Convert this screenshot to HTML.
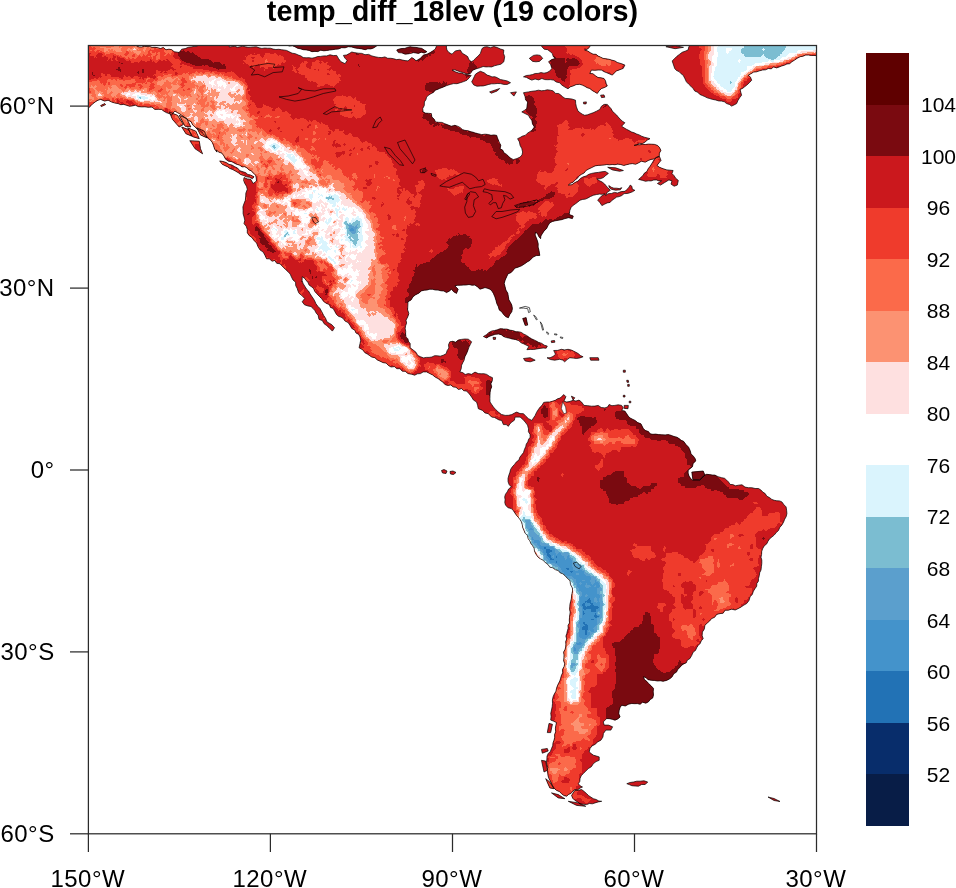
<!DOCTYPE html>
<html><head><meta charset="utf-8"><title>temp_diff_18lev</title>
<style>html,body{margin:0;padding:0;background:#fff}svg{display:block}text{font-family:"Liberation Sans",sans-serif;fill:#000}</style></head><body>
<svg width="956" height="888" viewBox="0 0 956 888">
<rect width="956" height="888" fill="#fff"/>
<defs><clipPath id="c"><rect x="88.4" y="45.5" width="728.1" height="788.3"/></clipPath></defs>
<g clip-path="url(#c)">
<clipPath id="land"><path d="M80,38 136.5,38.3 136.5,42.1 136.5,46 139.1,46.9 141.7,47 144.4,46.3 147,46.6 149.7,46.6 152.2,47.4 154.9,47.3 157.7,47.7 160.4,48.5 163.4,47.5 166,49.8 168.9,49.2 171.7,49.7 174.2,51.7 179.2,52.5 181.7,49.2 185.2,48.6 188.4,47.3 191.2,46.9 194,46.4 196.8,46.3 199.1,44.5 201.3,42.6 203,40.2 205.2,38.3 228.6,38.3 229,41.2 228.8,44.1 229.4,47 232.1,46.6 234.7,46.3 237.4,47.3 240,46.8 242.7,46.2 245.4,46.8 248,47.3 250.8,47.2 253.6,46.9 256.4,46.8 259.1,47.8 261.9,48.4 264.7,48 267.5,48.2 270.3,48.2 273.1,49.1 275.9,49.5 278.7,49.3 281.5,49.7 286.5,50.4 289.3,51.8 292.1,53.2 295.3,53.7 298.2,55 300.9,55.9 303.2,57.6 306.1,57.8 309,57.7 312,58.2 314.9,57.6 317.7,56.5 320.7,56.4 323.7,55.9 326.7,55.9 330,54.8 333.4,55.6 336.7,55.4 338.6,58.7 340.9,61.7 345.1,63.7 347.1,60.4 344.9,58.1 343.4,55.4 346.5,55 349.2,53.6 351.8,52 355.1,52.8 358.4,53.2 361.8,53.4 365,54.7 368.6,54.4 371.8,55.9 375.1,56.8 378.5,57.4 381.9,57.6 384.9,56.9 387.7,58.3 390.7,58.3 393.6,58.7 396.4,59.6 399.4,59.3 402.2,60 405.1,60.6 408,60.9 411.8,57.6 414.2,58.9 416,60.9 420.2,58.4 423.5,55.1 427,54.2 430.2,52.6 432.7,50.9 435.2,49.2 436.3,46.6 436.6,43.7 438.3,41.2 438.6,38.3 446.1,38.3 446,41.2 446.6,44.1 446.4,47.1 446.9,50 449,52.6 452,54.2 455.3,50.9 460.3,50 462.2,53.2 465.4,55.1 467.7,56.6 468.7,59.2 471.2,61.8 473.6,60.5 475.4,58.4 478.1,56.1 480.4,53.4 481.2,50.9 482.1,48.4 484.4,47 487.1,46.7 490.4,47.7 493.9,46.5 497.2,47.5 500.4,49 503.8,50 503.5,53.4 504.7,56.7 503.8,61.8 500.9,64.2 497.2,65.1 494.4,65.8 491.7,66.9 488.8,66.8 486,66.9 483.1,66.5 480.4,67.6 476.2,68.8 472.6,70.3 470.4,73.5 466.9,73.9 463.6,72.7 460.3,71.8 457.6,70.9 454.9,69.8 452,70.1 455.3,71.8 458.7,73 461.5,73.1 464.2,74.2 467,74.6 471.2,75.5 469.1,77.9 467,80.2 463.7,81.6 460.3,82.7 457,83.7 453.6,83.6 450.3,84.4 446.9,85.5 443.6,86.9 440.8,88 438,89.2 435.2,90.2 433.4,92.4 430.9,93.7 428.5,95.2 426.6,97.1 425.9,99.7 424.4,101.9 424.3,105.4 422.7,108.6 423.1,111.9 425.7,113.2 428.6,113.3 431.4,113.6 431.8,116.9 434.2,119.2 435.6,122 438.7,122.3 441.9,122.4 444.8,123.7 448.1,125 451.3,126.2 454.9,125.3 457.6,126.2 460.1,127.5 462.3,129.4 464.9,130.4 467.7,130.6 470.3,131.6 473,132.2 475.6,133.1 478.3,133.7 481.6,134.6 485,134.2 488.3,134.5 491,135.3 493.9,134.9 496.7,135.4 497.8,138.8 499.2,142.1 500.8,145.3 500.1,148.8 502.7,150.1 504,152.9 506.5,154.2 508.4,156.3 510.7,158.2 513.4,159.6 516.9,158.6 520.1,157.1 522,154.9 522.6,152.1 521.8,148.6 520.1,145.4 519.4,141.9 517.6,138.7 520.1,137.5 522.5,136.1 525.2,135.4 527.2,133.4 529.4,131.9 531.8,130.4 534.4,127 532.5,123.9 531.8,120.3 529.9,118 528.5,115.3 525.1,113.6 521.8,111.9 524.4,110.4 526.8,108.6 527.1,105.2 527.7,101.9 525.5,99.9 525.2,96.9 523.5,92.7 528.5,91.9 531.8,91.3 535.2,90.9 538.5,90.2 541.5,90.8 544.4,90.5 547.3,89.8 550.3,90.2 553.2,90.9 555.4,93.4 558.6,93.5 560.8,95.1 562.8,96.9 565.1,98.4 568,98.6 571.8,99 575.5,100.2 575.7,103.6 576.4,106.9 578,111.1 580.1,112.7 582.3,114.2 584.7,115.3 587.6,114.8 590.3,113.7 593.1,112.8 596.5,111.2 599.8,109.4 601.3,106.4 604,104.4 607.3,104.4 609.1,106.6 611,108.6 612.4,111.1 614.3,113.1 616.5,114.9 618.2,117 620.2,119.2 622.4,121.2 624.9,122.8 621.6,126.2 624,127.8 626.5,129.3 629.1,130.6 631.6,132 634.2,132.8 636.6,134 639.2,134.9 641.6,136.2 644.3,137.2 647.2,137.9 650,138.7 647.3,140.1 645,142.1 642.5,143.6 639.4,143.3 636.9,145 634.1,145.4 636.9,144.7 639.8,144.8 642.6,144.3 645.5,144.5 648.3,144.1 651.4,144.2 654.5,144.4 657.5,145.4 659.6,147.6 660.9,150.4 659.4,153.2 659.2,156.3 656.5,157.3 654,159 651,159.4 648.3,160.5 645.2,162.2 641.4,161.2 638.3,163 635.5,164.3 632.4,163.6 629.5,164 626.6,164.7 623.7,165.5 620.8,164.5 617.8,164.2 614.9,164.7 612.2,164.5 609.5,164.8 606.8,164.5 604.2,165 601.5,165.2 598.2,165.4 595,165.9 591.7,167.6 588.3,169.2 585.9,170.6 584.1,173 581.6,174.3 579.1,175.9 577.3,178.4 574.9,180.1 573.1,182.2 570.4,183.3 568.3,185.1 571.9,184.7 574.9,182.6 578,181.1 580.3,178.5 583.3,176.8 586.2,176 588.8,174.3 591.7,173.4 595,172.8 598.4,172.4 601.7,171.8 605.3,171.4 608.4,173.4 605.8,175.4 603.4,177.6 600.1,178.8 596.7,178.8 599.2,180.6 602.1,182 604.6,184 607.7,187.7 610.3,190.3 607.2,192.3 605.6,195.5 608.2,193.7 611.4,193.5 614.4,192.4 617.6,193 621.2,191.6 625,191.3 626.5,189.8 628.7,187.7 630.2,185.1 631.8,186.2 632.4,189.3 634.9,190.3 632.4,191.8 629.2,193 627,193.5 624.1,193.6 621.8,195.5 619.3,196.6 616.6,197.1 614.4,198.7 612.1,200.2 610.1,202.4 607.2,202.9 604.5,204.2 601.9,205.6 600,202.7 597.7,200.2 600.9,196.5 605.1,193.8 602.3,194.3 599.5,194.1 596.7,194.5 593.5,195.2 590.5,196.5 588,197.9 585.5,199.1 582.7,199.4 580,200.2 577.8,202 575.6,203.7 573.3,205.2 571.1,207.4 569.9,210.3 569.1,214.4 573.3,216.1 572.4,218.6 568.6,217.7 564.9,218.6 561.6,219.7 558.2,220.3 555.3,220.8 552.5,221.5 549.8,222.8 548.2,225.3 546.5,228.7 544.1,230.9 542.3,233.7 540.9,236 540.6,238.7 538.8,236.6 537.6,234 535.6,232 535.1,235 536.3,237.7 537.3,240.4 538.2,243.7 538.1,247.1 539,250.4 539.8,255.4 536.3,255.6 533.1,257.1 529.8,260.5 527.1,262 524.7,263.8 521.5,265.8 518,267.2 515,268.1 513,270.5 510.9,272.7 508,273.8 506.7,276.7 505.2,280 504.2,283.4 505.1,286.7 505.9,290.1 507.8,293.2 508.4,296.8 508.9,299.8 510.5,302.4 511.8,305.1 512.4,308.5 511.8,311.8 509.8,314.6 508.4,317.7 505.9,316.8 503.6,314.5 501.7,311.8 499.2,309.9 498.4,306.8 496.8,303.6 495.9,300.1 494.8,296.7 493.4,293.4 492,291.1 490,289.2 487.5,288.3 485,287.6 482.5,288.4 480,289.2 477.6,286.9 474.9,285.1 472,285.2 469,284.5 466.1,285 463.2,285.1 460.4,285.2 457.6,285.3 454.9,285.9 458.2,289.2 456.5,293.4 453.6,291.7 451.5,289.2 449.2,291.2 446.5,292.6 443.9,291 441,290.8 438.1,290.1 435.3,290 432.6,289.3 429.8,289.2 427.1,290 424.2,290.2 421.4,290.9 418.8,293.2 415.7,294.7 413,296.8 411.1,299.9 408,301.8 407.8,306 407.6,309.8 408.8,313.5 407.7,317 406,320.2 406.6,323.1 405.6,325.8 405.2,328.6 405.7,331.3 405.6,334.1 406,336.9 407.9,338.8 408.6,341.5 410.2,343.6 410.1,347.8 413.5,350.3 416.1,352.4 417.7,355.4 420.6,356.8 423.6,357.9 426.3,357.4 429.1,357.4 431.9,357 434.6,355.7 437.4,355.8 440.3,356.2 443.3,355.2 446.2,353.7 447.1,350.7 448.9,348 448.5,344.7 449.8,341.8 452.6,341.3 455.7,342.2 458.2,340.1 461.5,339.4 464.9,339 468.3,339.2 471.6,341.8 470.4,344.3 469.1,346.8 467.9,350.2 466.6,353.5 464.9,356.7 464.1,360.2 462.8,362.7 461.6,365.2 461.2,368.7 459.9,371.9 462.7,372.6 465.2,374.5 468.3,373.6 471.6,374.3 475,372.1 478.3,373.6 481.1,373.8 483.9,373.7 486.7,374.4 489.4,376.3 492.5,377.7 492.3,380.8 490.9,383.7 491.7,386.9 490.6,389.6 490.1,392.4 490,395.3 489.9,398.6 490,402 491.7,404.5 493.4,407 495.8,409.7 498.4,412.1 501.4,414.4 505.1,415.4 508.5,415.3 511.8,414.6 514.2,413.2 516.8,412.1 520,413.6 523.5,413.7 525.9,416.3 528.5,418.7 531.8,420.4 533.5,417.9 535.2,415.4 536.5,412.4 538.3,409.6 540.2,407 542.2,405.1 543.7,402.4 546.9,402 549.8,402 552.6,401.2 555.3,400.3 557.5,398.8 560.1,398.1 562,396.2 563.9,394.6 565.9,396.7 563.9,401.2 566.7,402 570,401.4 573.1,400.3 575.9,401.1 579,400.1 581.5,402 584,405.4 587.8,405.7 591.5,406.2 594.9,406.1 598.2,405.4 601.2,407.5 604.9,407.9 607.6,407 609.1,404.5 611.9,405.7 614.9,405.4 618.2,404.8 621.6,405.4 623.3,407.9 621.6,410.4 624.8,411 626.7,413.7 628.1,416 630,417.9 632.5,419.2 635,420.4 637.7,422.6 640.9,423.8 642.2,426.3 643.4,428.8 645.6,430.6 648.4,431.5 650.1,433.8 652.9,434.3 655.7,434.1 658.5,434.6 661.8,434.8 665.2,434.9 668.5,434.6 671.3,435.4 674,436.5 676.9,437.2 679.1,438.6 681.1,440.3 683.6,441.3 685.9,444.4 688.6,447.2 690.1,450.4 691.1,453.9 693.4,456.2 695.3,458.9 695.7,460.9 693.2,463.4 692.4,466.8 690.3,468.5 688.2,470.1 688.1,473.1 689,476 690.5,478.2 692.4,480.2 696.1,479.9 699.9,480.2 702.1,477.4 704.9,475.1 706.6,474.3 709.4,474.6 712.1,475 714.9,475.1 718.1,476.7 721.6,477.7 724.5,478.3 726.7,480.2 728.6,482.1 730,484.4 732.8,484.6 735.5,485.8 738.4,485.2 742,484.8 745,487.1 748.4,487.7 751.8,487.7 755.1,488.5 758.5,488.5 760.9,490 762.8,492.1 765.2,493.6 766.8,496.2 769.5,497.6 771.8,499.4 774.3,500.3 776.8,500.8 779.5,500.9 781.9,501.9 783.8,504.6 786.1,506.9 786.6,510.2 786.9,513.6 786.2,516.6 784.7,519.2 783.6,522 782,524.9 779.8,527.4 778.5,530.4 776.3,532.6 774.2,535.1 771.8,537.1 769.5,538.9 768,541.2 766.8,543.8 764.2,545.9 762.6,548.8 761.7,551.5 761.6,554.4 761,557.2 761.8,560 761.8,563.4 761.4,566.7 761,570 759.7,572.7 759.3,575.6 758.5,578.4 758.4,581.2 756.8,583.5 756.7,586.2 755.1,588.5 753.4,591.2 752.3,594.4 750.1,596.8 749,600.5 746.7,603.5 743.9,605.1 741.2,606.9 738.4,608.5 735.2,610 731.6,609.2 728.3,610.2 725.1,610.2 723.1,613.2 720,613.6 716.7,614.4 714.6,617.3 711.6,618.6 709.6,621 707.2,623.1 704.9,625.3 704.4,628.9 702.4,632 702.1,635.4 703.2,638.7 701.3,640.8 700.2,643.4 698.2,645.4 696.7,647.7 695.5,650.4 693.2,652.1 691.7,655.5 689.8,658.7 687.4,660 686.2,662.8 683.7,663.9 681.5,665.4 679.8,667.6 677.7,669.5 676.5,672.1 673.7,673.8 672.2,676.7 669.8,678.8 666.6,680.4 663.1,681.3 660.3,680.8 657.5,681 654.7,680.5 651.3,680.3 648,679.7 646.1,677.7 643.5,676.7 644.4,679.5 646.7,681.3 648.5,683.4 651.1,685.8 653.5,688.4 653.2,691.8 653.5,695.1 652.7,698 650.2,699.6 648.5,701.8 645.9,703.2 642.5,702.2 640.1,704.3 637.4,703.6 634.6,703.7 631.8,703.5 628.5,704.2 625.3,706 621.7,705.2 620.1,707.5 619.2,710.2 618.8,713.7 620.1,716.9 617.8,718.9 615,720.2 612.3,719.3 609.5,718.7 606.7,718.5 603.3,721.9 604.2,725.1 608.4,725.1 612.6,726.8 610.9,730.1 605.9,730.1 603.4,733.5 602.9,737.1 600.9,740.2 597.7,741.9 595,744.4 592,745.9 590,748.5 589.2,751.9 591.2,753.6 593.4,755.2 596.3,756 599.2,756.9 599.2,760.3 596.1,761.6 593.4,763.6 591.4,766.7 588.3,768.6 585.8,771.1 583.3,773.6 581.2,775.8 580,778.7 579.8,781.4 578.3,783.7 580.1,785.8 582.5,787 580,788.1 577.8,789.8 574.9,789.5 572.9,791.2 571.1,793.3 568.6,794.4 566.6,796.2 563.8,795.5 561.6,793.7 559.4,791.6 556.5,790.4 554.1,788.2 552.4,785.4 550.9,782 549,778.7 548.1,776 547.7,773.1 547.3,770.3 547.7,767.4 546.9,764.7 546.5,761.9 546.9,759.1 547,756.2 548.2,753.6 550.4,751.4 551.5,748.5 552.7,745.8 553,742.9 554,740.2 554.7,737.4 554.6,734.5 555.7,731.8 555.4,728.7 555.8,725.6 556.5,722.6 553.7,721.2 550.7,720.1 551.1,716.7 550.8,713.3 551.5,710 552.2,706.7 552.5,703.4 552.4,700 553.1,696.8 554.3,694 555.9,691.4 556.5,688.4 557.4,685.8 558.5,683.4 559.8,681 560.6,678.4 561.4,675.5 562.7,672.7 562.5,669.4 564,666.7 564.8,663.8 563.6,660.8 563.9,657.9 564,654.9 563.6,652.1 565,649.6 565.7,647 565.9,644.3 565.7,641.6 566.7,639 565.9,636.1 566.8,633.5 567.4,630.8 568.2,628.2 568,625.5 569.5,622.9 569.3,620.2 569.5,617.5 569.8,614.8 570.2,612.1 569.6,609.4 569.8,606.7 570,604 570.7,601.4 571.3,598.8 571.6,596.1 572,593.4 572.6,590.8 572.4,588 570.5,584.5 570,580.6 567.3,578.3 565,575.6 562.8,573.8 560.1,572.8 558.3,570.5 555.4,569.7 552.9,567.8 549.9,567.2 547.8,564.3 544.9,562.2 543,560.1 540.4,558.8 538.2,557.2 535.7,553.8 534.5,551 534.1,548 532.4,545.4 530.8,543.3 529.8,540.8 528.2,538.7 527.5,535.6 525.2,533.3 524,530.4 522.8,527.7 522.3,524.8 521.5,522 520.1,519.6 518.4,517.4 516.5,515.3 514.9,513 513.3,510.6 511.4,508.6 508.1,507.7 505.6,505.3 504.8,502.6 505.1,499.7 504.7,496.9 505.5,494.2 507.2,491.9 508.7,488.9 511.4,486.9 509.2,484.7 508.1,481.8 508,478.4 508.9,475.1 509.9,472.3 510.6,469.4 512.3,466.8 514.5,464.4 516.5,461.8 518.9,460.1 519.8,457.3 521.5,455.1 523.5,452.6 524.4,449.6 525.7,446.7 526.3,444.1 527.8,441.9 528.6,439.3 530.2,437.2 530,434.3 528.4,431.7 528.5,428.8 527.5,425.1 525.2,422.1 522.9,419.4 520.1,417.1 515.1,417.1 514.4,420.2 511.8,422.1 509.8,423.9 508.4,426.3 506.2,424.6 503.4,424.6 501.7,420.4 499.1,420 496.7,418.7 494.4,417.4 491.7,417.1 488.3,413.7 484.9,412.9 482.5,410.4 478.3,408.7 477.6,405.3 476.6,402 473.5,400.1 471.6,397 469.3,393.9 466.6,391.1 463.7,390.7 461.6,388.6 458.5,389.5 456,387.3 453.2,386.9 450.8,384.9 447.5,385.5 444.8,384.4 442.9,382.1 440.4,380.5 438.1,378.6 435.2,377.1 432.7,375 429.8,373.6 426.7,371.9 423.1,371.9 420.5,373.6 417.4,373.8 414.7,375.2 411.4,374.2 408,373.6 405.2,371.3 402.2,371.2 399.9,368.7 396.8,368.7 394.4,366.6 391,367 388.4,365.4 386.1,363.1 382.9,362.6 380.1,361.2 377.3,359.9 374.9,357.7 371.7,357 369.5,355.5 367.3,354 365,352.8 362.6,349.7 359.1,347.8 360,343.6 360.7,340.2 360,336.9 358.7,334.4 356,333 354.9,330.3 351.8,328.4 349.9,325.2 348.1,322.5 345.1,321.1 343.2,318.5 341,317.1 338.4,316.3 336.5,314.4 334.8,311.5 333.2,308.5 330.5,307.4 329.3,304.4 326.5,303.5 323.6,301.4 321.5,298.5 319,296 316.5,293.4 314.7,291.2 313.6,288.5 311.4,286.7 309.1,285.1 308,282.6 306.3,280.5 304.7,278.4 302.2,276.7 302.1,280.9 303.3,283.9 305.1,286.7 306.5,289.1 308.5,291 309.9,293.4 311.5,296 313.3,298.5 314.7,300.9 315.8,303.5 317.7,306.2 320,308.5 321.8,311.8 323.5,315.2 325.6,318.4 327,321.9 329.4,323.3 331.8,324.7 334.5,327.7 332.4,331.1 329,327.7 326.6,325.5 324,323.6 322.3,320.5 319,319.4 318.1,315.2 316.2,313.1 314.9,310.6 313.1,308.5 311,306.5 308.1,306 304.5,304.8 302.2,301.8 304.7,298.5 301.4,295.1 299.2,293.4 298,291 297.2,288.4 295.7,285.6 295.6,282.2 293,280 291.5,277.1 290.2,274.1 288,271.7 285.6,269.5 283.3,267.2 280,263.8 276.7,263.3 274.9,260.5 271.9,261.2 269.5,258.8 266.6,258.8 265,255.4 263.2,252.1 260.2,250.1 258.2,247.1 256.5,242.9 254,240.4 251.9,237.5 249,235.4 247.3,232.7 247.3,229.5 246.2,226.2 244,223.6 244.8,220.2 244,216.9 243.1,213.7 243.1,210.3 242.9,206.9 244,203.6 245.3,200.4 245.7,196.9 245.9,193 247.3,189.3 246.5,186.2 244.8,183.5 243.7,180.6 244,177.6 247.2,178.9 250.7,179.3 253.2,183.5 256.5,181 256.2,178 255.7,175.1 253.4,173.2 251.5,170.9 249,169.9 247.1,168 244.8,166.7 242,166.9 239.8,165.2 237.2,164.4 234.8,163.4 231.9,161.7 228.4,161.2 225.6,159.2 223.9,155.9 222,153.2 218.8,152.1 216.4,150 216.9,152.1 214.6,149 213.5,145.4 212.4,142.7 210.9,140.4 208.5,138.7 206.2,136.5 203.7,134.6 201.8,132 199.6,130.3 197.1,129 195.1,127 192.7,124.9 191.2,121.9 188.4,120.3 186.3,118.5 184,116.9 181.7,115.3 179.6,113.7 177.2,112.5 175,111.1 173,112.9 171.7,115.3 169.4,113.6 166.7,112.8 164,111.3 161.6,109.4 158.2,109.3 154.9,109.4 152,107.1 148.3,107.3 144.9,106.8 141.6,106.9 138.2,106.6 135.4,105.2 132.4,105.9 129.4,106.2 126.5,105.3 123.8,104.4 120.8,104.7 118.1,103.6 114.7,103 111.4,101.9 108.1,100.2 104.7,101.1 100.6,99.4 98,100.2 95.4,101.8 93,103.6 91.2,105.5 89.3,107.3 86.1,107.7 82.8,107.6 79.6,107.3ZM219.7,160.9 223.1,161.5 226.4,162.6 229,164.4 232.1,165.1 234.8,166.7 237.7,168.2 239.9,170.8 243.1,171.8 245.7,172.7 247.9,174.5 250.7,175.1 254,176.8 252.4,178.8 249.6,177.3 246.5,176.8 243.7,175.5 240.6,174.5 238.1,172.6 235.4,171 232.7,169.6 229.8,168.4 227.5,166.7 224.7,165.6 222.2,164.2ZM169.2,111.9 177.5,115.3 183.4,124.5 179.2,127 172.5,119.5ZM179.2,115.3 186.7,118.6 190.9,127 185.1,126.2ZM187.6,127.8 195.9,131.2 199.3,138.7 192.6,136.7ZM189.8,140.7 199.3,141.2 200.5,148.8 202.6,153.8 195.1,148.8ZM196.8,127.8 204.3,131.2 207.2,137.9 200.5,135ZM181.7,127 188.4,129.5 191.8,136.2 185.9,133.7ZM100.6,105.6 104.7,103.6 105.6,104.6 101.4,106.6ZM286.5,38.3 286.2,41.7 286.8,45 289.4,46.1 292.3,45.7 294.9,46.7 297.5,48.2 300.4,48.8 303.2,49.7 306.2,49.9 309.1,50.4 311.9,51.7 314.9,51.4 317.9,51.6 320.7,50.2 323.8,50.8 326.7,50.5 329.6,50.1 332.5,49.7 335.4,49.2 338.4,49 341.6,47.7 345.1,47.8 348.4,46.7 351.8,47 355.1,48 358.5,48.4 361.9,48.9 365.2,49.7 367.9,48.8 370.8,48.9 373.5,48 376.9,45.8 378.1,43.4 378.9,40.7 380.2,38.3ZM396.7,50 399.3,49 402,48.5 404.8,48.4 407.4,47.4 410.1,46.7 413,47.2 416,47.4 418.9,47.9 421.8,48.4 424.3,50.1 426.9,51.7 424.2,53 421.2,52.2 418.5,53.4 413.5,52.6 410.8,53.4 407.9,53.9 405.1,54.2 401.9,52.9 398.4,52.6ZM471.7,81.8 473,79.3 474.2,76.8 475.4,74.3 477.8,72.6 480.4,71.3 484.1,72.7 487.1,75.1 489.6,75.8 492,76.9 494.8,76.7 497.2,77.7 500.3,79.5 503.8,80.2 507.3,81 510.5,82.7 507.2,84.4 503.8,84.4 500.6,83.6 497.2,83.5 494.4,83.8 491.6,83.8 488.8,84.4 486.1,85.2 483.3,85.9 480.4,86 476.9,86.2 473.7,84.9ZM489.6,91.9 499.7,88.5 497.2,91 491.3,93.2ZM510.5,92.7 516.4,91.9 513.9,96.1ZM529.3,58.4 533.5,55.4 536.9,54.9 540.2,55.4 542.7,58.4 539.4,61.4 536,61.8 532.7,61.4ZM531.8,38.3 534.2,39.5 535.8,41.8 538,43.1 540.4,44.4 541.9,46.7 544.2,49.2 547.7,49.7 550.3,51.7 552.4,53.6 553.2,56.5 555.3,58.4 551.7,59.6 548.6,61.7 550.7,64.8 551.9,68.4 549.8,71 546.9,72.6 544,73.2 541,72.6 538.1,73.4 535.2,73.5 532.4,74.6 529.4,75.2 526.3,75.5 523.5,76.8 526.5,77.4 529.1,78.9 531.8,80.1 535.1,79 538.7,79.9 541.9,78.5 544.7,79.6 547.7,79.7 550.7,79.6 553.6,80.1 556.3,82 559.6,82.8 562,85.2 564.9,87.1 568,88.8 570.2,86.9 573,86 576.2,84.6 579.7,84.3 582.3,85.1 584.8,86.3 587.2,87.7 589.8,88.5 592.1,90.4 594.7,91.9 597.3,93.5 599.1,90.8 601.5,88.5 604.5,87.5 607.3,86 606.2,83.5 605.5,80.8 604,78.5 601,77.8 598,77.5 595.4,75.7 592.9,73.7 589.8,73.5 591.4,70.1 594.8,70.3 598.1,70 601.5,70.1 604.1,71.7 606.9,72.8 609.6,74 612.4,75.1 614.3,72.9 616.5,70.9 619.9,69.7 623.2,68.4 624.9,65.1 622.4,64 619.8,63.2 617.2,62.4 614.9,60.9 612,60.2 609.1,59.3 606.1,58.8 603.1,58.4 600.7,57.2 598.2,56.1 596,54.3 593.1,54.2 590.3,52.7 587.7,51 584.7,50 587.7,49 589.8,46.7 589.8,43.9 589.9,41.1 589.8,38.3ZM600.6,95.2 604,94.9 604.8,97.2 601.5,97.6ZM583.4,102.2 586.4,101.9 586.1,103.9 583.7,103.9ZM607.7,167.3 615.6,167.8 623.4,170.5 619.7,171.3 612.4,169.9ZM608.8,185.6 611.4,187.3 613.9,188.2 616.6,188.2 619.3,188.6 621.8,187.7 620.3,189.8 615.6,190.2 611.4,189.3 609.3,187.7ZM656.5,157.5 659.5,156.5 661,160.5 658.9,162.9 657,165.5 659.5,167.3 663.1,168.7 666.8,169.9 669.9,170.2 673.1,170.5 672,173.6 674.1,175.7 675.7,178.3 678.3,180.4 677.3,185.1 674.1,186.2 671,184.1 672,180.9 668.9,179.9 664.7,182.5 660.5,185.1 657.4,183.5 661.6,180.9 658.9,180.9 656.4,179.9 653.7,180 651.1,180.9 648.3,180.8 645.5,181.3 642.8,180.4 638.6,179.4 640.7,177.5 642.8,175.7 644.4,173.1 646.9,171.5 648.2,168.7 650.1,166.3 651.6,163.9 653,161.5 654.5,159.3ZM691.4,38.3 690.2,41.1 690.3,44.3 688.8,47 688.1,50 685.2,51.2 682.2,52.3 679.7,54.2 677,56.2 674.6,58.6 672.2,60.9 673,63.4 673.9,66 674.7,68.5 676.5,70.5 679.1,71.6 680.9,73.6 683.1,75.1 684.8,78.4 686.4,81.8 688.6,84.1 690.9,86.2 693.1,88.5 694.8,91.1 697.7,92.2 699.8,94.4 702.3,95.5 704.8,96.6 707.2,97.8 709.8,98.6 712.7,99.4 715.7,100 718.6,100.9 721.6,101.1 724.4,101.8 726.6,103.6 729.3,104.4 731.6,106.1 734.1,104.9 736.6,103.6 737.9,100.6 739.6,97.8 741.6,95.2 740.8,92.3 740,89.4 742.5,88.5 744.6,86.8 746.7,85.2 749.3,82.8 751.7,80.2 750.5,77.3 748.3,75.1 751,73.7 753.6,72.1 756.7,71.8 759.6,70.8 762.5,70 765.6,69.8 768.4,68.5 771.2,68.8 773.7,66.9 776.6,67.9 779.2,67 781.8,65.9 784.4,65.2 786.9,64 789.7,63.7 791.8,61.8 794.6,60.1 797.3,58.2 800.2,56.7 803,56.2 805.7,55.1 808.6,55.1 811.3,55.5 814,55.4 816.6,55.7 819.3,55.9 822,55.9 821.6,53 822.5,50 821.6,47.1 822.4,44.2 821.4,41.2 822,38.3ZM665.9,46.7 675.1,48.7 683.5,47.3 675.1,45.7ZM483.4,336.5 486.3,334.8 488.8,332.6 491.8,331 494.7,330.5 497.6,329.7 500.4,328.6 503.5,329 506.9,329.1 510.2,330.2 513.5,330.7 515.9,331.8 518.7,331.8 521.3,332.4 523.6,334 526.5,335.4 529.2,337.3 531.9,339 535.4,340.5 538.6,342.4 541.6,343.3 544.3,345.2 547.3,346.1 546.2,348.2 543.1,348 540,348.4 536.9,348.9 533.6,349.5 530.2,349.4 526.9,349.7 528.9,346.4 526.4,345.2 523.9,343.9 521.1,342.8 518.9,340.7 515.4,339.5 511.8,338.9 509,338.1 506.2,337.5 503.5,336.5 501.3,334.7 498.5,334 495.1,334.4 491.8,335.5 489.1,336.4 486.7,338ZM493,337.4 495.7,337.4 495.4,339.4 493.4,339.4ZM523.5,358.5 530.2,357.7 535.2,360.2 530.2,361.8 525.2,361ZM553.7,350.5 557.6,350.4 561.4,349.3 564.7,349.9 568.1,349.3 571.4,350.1 574.8,351.7 578.1,353.5 580.4,355.5 583.1,356.8 579.9,357.9 576.5,358.5 573.2,358.1 569.8,357.7 567.1,359.6 564.7,361.8 562.5,360 559.7,359.3 554.7,360.2 550.3,359.5 547,357.8 550.1,357.7 553,356.5 555.5,354.3 554.7,352.6ZM589.8,357.7 598.2,357.7 599,360.2 590.7,360.2ZM623.3,370.2 625.3,370.2 625.3,372.2 623.3,372.2ZM626.7,380.3 628.3,380.3 628.7,382.3 627,382.3ZM627.7,384.4 629.3,384.4 629.3,386.3 627.7,386.3ZM623.3,395.3 625,395.3 625,397 623.3,397ZM629.2,401.2 630.8,401.2 630.8,402.8 629.2,402.8ZM624.2,405.4 628.3,405.4 628,408.7 624.2,408.4ZM522.7,318.5 526.1,317.6 527.7,325.1 525.2,325.5ZM551.2,340.9 554.5,340.5 554.9,342.2 551.5,342.6ZM571.4,396.2 574.8,397.8 573.1,400ZM691.8,472.1 703.2,471 704.9,475.1 699.9,479.8 692.9,479.8ZM574.9,790.4 578.3,790.3 581.6,789.5 584.2,791.5 586.7,793.7 588.7,795.7 591,797.2 593.4,798.7 596.2,799.5 598.8,801 601.7,801.3 598.3,801.9 595,802.9 592.3,803.8 589.4,803.5 586.7,804.6 583.3,804.3 580,803.8 577.6,801.9 574.9,800.4 572.7,798.2 571.6,795.4 573.2,792.9ZM626.8,783.7 630.1,782.5 633.5,782 636.8,781.2 640.2,781.2 644,780.8 647.7,782 645.2,784.5 641.6,784.5 638.5,786.2 635.1,786 631.8,785.7 629.3,784.6ZM768,797 774,798.5 780,801.5 774,800.5ZM441.5,470.5 444,469.5 447,471 446,473.5 442.5,473ZM450,471.5 453,471 456,472.5 453.5,474.5 450.5,474ZM549,723.4 552.4,724.3 550.7,732.6 547.3,732.6ZM541.5,749.4 547.3,748.5 548.2,751 542.3,753.2ZM541.5,760.3 545.7,761.1 547.3,770.3 544,772ZM545.7,778.7 549.8,782 554,788.7 549.8,787.9ZM551.5,792.9 558.2,794.6 564.9,798.7 558.2,797.9ZM568.3,801.3 578.3,802.9 585.8,806.3 576.6,805.4Z"/></clipPath>
<path d="M80,38 136.5,38.3 136.5,42.1 136.5,46 139.1,46.9 141.7,47 144.4,46.3 147,46.6 149.7,46.6 152.2,47.4 154.9,47.3 157.7,47.7 160.4,48.5 163.4,47.5 166,49.8 168.9,49.2 171.7,49.7 174.2,51.7 179.2,52.5 181.7,49.2 185.2,48.6 188.4,47.3 191.2,46.9 194,46.4 196.8,46.3 199.1,44.5 201.3,42.6 203,40.2 205.2,38.3 228.6,38.3 229,41.2 228.8,44.1 229.4,47 232.1,46.6 234.7,46.3 237.4,47.3 240,46.8 242.7,46.2 245.4,46.8 248,47.3 250.8,47.2 253.6,46.9 256.4,46.8 259.1,47.8 261.9,48.4 264.7,48 267.5,48.2 270.3,48.2 273.1,49.1 275.9,49.5 278.7,49.3 281.5,49.7 286.5,50.4 289.3,51.8 292.1,53.2 295.3,53.7 298.2,55 300.9,55.9 303.2,57.6 306.1,57.8 309,57.7 312,58.2 314.9,57.6 317.7,56.5 320.7,56.4 323.7,55.9 326.7,55.9 330,54.8 333.4,55.6 336.7,55.4 338.6,58.7 340.9,61.7 345.1,63.7 347.1,60.4 344.9,58.1 343.4,55.4 346.5,55 349.2,53.6 351.8,52 355.1,52.8 358.4,53.2 361.8,53.4 365,54.7 368.6,54.4 371.8,55.9 375.1,56.8 378.5,57.4 381.9,57.6 384.9,56.9 387.7,58.3 390.7,58.3 393.6,58.7 396.4,59.6 399.4,59.3 402.2,60 405.1,60.6 408,60.9 411.8,57.6 414.2,58.9 416,60.9 420.2,58.4 423.5,55.1 427,54.2 430.2,52.6 432.7,50.9 435.2,49.2 436.3,46.6 436.6,43.7 438.3,41.2 438.6,38.3 446.1,38.3 446,41.2 446.6,44.1 446.4,47.1 446.9,50 449,52.6 452,54.2 455.3,50.9 460.3,50 462.2,53.2 465.4,55.1 467.7,56.6 468.7,59.2 471.2,61.8 473.6,60.5 475.4,58.4 478.1,56.1 480.4,53.4 481.2,50.9 482.1,48.4 484.4,47 487.1,46.7 490.4,47.7 493.9,46.5 497.2,47.5 500.4,49 503.8,50 503.5,53.4 504.7,56.7 503.8,61.8 500.9,64.2 497.2,65.1 494.4,65.8 491.7,66.9 488.8,66.8 486,66.9 483.1,66.5 480.4,67.6 476.2,68.8 472.6,70.3 470.4,73.5 466.9,73.9 463.6,72.7 460.3,71.8 457.6,70.9 454.9,69.8 452,70.1 455.3,71.8 458.7,73 461.5,73.1 464.2,74.2 467,74.6 471.2,75.5 469.1,77.9 467,80.2 463.7,81.6 460.3,82.7 457,83.7 453.6,83.6 450.3,84.4 446.9,85.5 443.6,86.9 440.8,88 438,89.2 435.2,90.2 433.4,92.4 430.9,93.7 428.5,95.2 426.6,97.1 425.9,99.7 424.4,101.9 424.3,105.4 422.7,108.6 423.1,111.9 425.7,113.2 428.6,113.3 431.4,113.6 431.8,116.9 434.2,119.2 435.6,122 438.7,122.3 441.9,122.4 444.8,123.7 448.1,125 451.3,126.2 454.9,125.3 457.6,126.2 460.1,127.5 462.3,129.4 464.9,130.4 467.7,130.6 470.3,131.6 473,132.2 475.6,133.1 478.3,133.7 481.6,134.6 485,134.2 488.3,134.5 491,135.3 493.9,134.9 496.7,135.4 497.8,138.8 499.2,142.1 500.8,145.3 500.1,148.8 502.7,150.1 504,152.9 506.5,154.2 508.4,156.3 510.7,158.2 513.4,159.6 516.9,158.6 520.1,157.1 522,154.9 522.6,152.1 521.8,148.6 520.1,145.4 519.4,141.9 517.6,138.7 520.1,137.5 522.5,136.1 525.2,135.4 527.2,133.4 529.4,131.9 531.8,130.4 534.4,127 532.5,123.9 531.8,120.3 529.9,118 528.5,115.3 525.1,113.6 521.8,111.9 524.4,110.4 526.8,108.6 527.1,105.2 527.7,101.9 525.5,99.9 525.2,96.9 523.5,92.7 528.5,91.9 531.8,91.3 535.2,90.9 538.5,90.2 541.5,90.8 544.4,90.5 547.3,89.8 550.3,90.2 553.2,90.9 555.4,93.4 558.6,93.5 560.8,95.1 562.8,96.9 565.1,98.4 568,98.6 571.8,99 575.5,100.2 575.7,103.6 576.4,106.9 578,111.1 580.1,112.7 582.3,114.2 584.7,115.3 587.6,114.8 590.3,113.7 593.1,112.8 596.5,111.2 599.8,109.4 601.3,106.4 604,104.4 607.3,104.4 609.1,106.6 611,108.6 612.4,111.1 614.3,113.1 616.5,114.9 618.2,117 620.2,119.2 622.4,121.2 624.9,122.8 621.6,126.2 624,127.8 626.5,129.3 629.1,130.6 631.6,132 634.2,132.8 636.6,134 639.2,134.9 641.6,136.2 644.3,137.2 647.2,137.9 650,138.7 647.3,140.1 645,142.1 642.5,143.6 639.4,143.3 636.9,145 634.1,145.4 636.9,144.7 639.8,144.8 642.6,144.3 645.5,144.5 648.3,144.1 651.4,144.2 654.5,144.4 657.5,145.4 659.6,147.6 660.9,150.4 659.4,153.2 659.2,156.3 656.5,157.3 654,159 651,159.4 648.3,160.5 645.2,162.2 641.4,161.2 638.3,163 635.5,164.3 632.4,163.6 629.5,164 626.6,164.7 623.7,165.5 620.8,164.5 617.8,164.2 614.9,164.7 612.2,164.5 609.5,164.8 606.8,164.5 604.2,165 601.5,165.2 598.2,165.4 595,165.9 591.7,167.6 588.3,169.2 585.9,170.6 584.1,173 581.6,174.3 579.1,175.9 577.3,178.4 574.9,180.1 573.1,182.2 570.4,183.3 568.3,185.1 571.9,184.7 574.9,182.6 578,181.1 580.3,178.5 583.3,176.8 586.2,176 588.8,174.3 591.7,173.4 595,172.8 598.4,172.4 601.7,171.8 605.3,171.4 608.4,173.4 605.8,175.4 603.4,177.6 600.1,178.8 596.7,178.8 599.2,180.6 602.1,182 604.6,184 607.7,187.7 610.3,190.3 607.2,192.3 605.6,195.5 608.2,193.7 611.4,193.5 614.4,192.4 617.6,193 621.2,191.6 625,191.3 626.5,189.8 628.7,187.7 630.2,185.1 631.8,186.2 632.4,189.3 634.9,190.3 632.4,191.8 629.2,193 627,193.5 624.1,193.6 621.8,195.5 619.3,196.6 616.6,197.1 614.4,198.7 612.1,200.2 610.1,202.4 607.2,202.9 604.5,204.2 601.9,205.6 600,202.7 597.7,200.2 600.9,196.5 605.1,193.8 602.3,194.3 599.5,194.1 596.7,194.5 593.5,195.2 590.5,196.5 588,197.9 585.5,199.1 582.7,199.4 580,200.2 577.8,202 575.6,203.7 573.3,205.2 571.1,207.4 569.9,210.3 569.1,214.4 573.3,216.1 572.4,218.6 568.6,217.7 564.9,218.6 561.6,219.7 558.2,220.3 555.3,220.8 552.5,221.5 549.8,222.8 548.2,225.3 546.5,228.7 544.1,230.9 542.3,233.7 540.9,236 540.6,238.7 538.8,236.6 537.6,234 535.6,232 535.1,235 536.3,237.7 537.3,240.4 538.2,243.7 538.1,247.1 539,250.4 539.8,255.4 536.3,255.6 533.1,257.1 529.8,260.5 527.1,262 524.7,263.8 521.5,265.8 518,267.2 515,268.1 513,270.5 510.9,272.7 508,273.8 506.7,276.7 505.2,280 504.2,283.4 505.1,286.7 505.9,290.1 507.8,293.2 508.4,296.8 508.9,299.8 510.5,302.4 511.8,305.1 512.4,308.5 511.8,311.8 509.8,314.6 508.4,317.7 505.9,316.8 503.6,314.5 501.7,311.8 499.2,309.9 498.4,306.8 496.8,303.6 495.9,300.1 494.8,296.7 493.4,293.4 492,291.1 490,289.2 487.5,288.3 485,287.6 482.5,288.4 480,289.2 477.6,286.9 474.9,285.1 472,285.2 469,284.5 466.1,285 463.2,285.1 460.4,285.2 457.6,285.3 454.9,285.9 458.2,289.2 456.5,293.4 453.6,291.7 451.5,289.2 449.2,291.2 446.5,292.6 443.9,291 441,290.8 438.1,290.1 435.3,290 432.6,289.3 429.8,289.2 427.1,290 424.2,290.2 421.4,290.9 418.8,293.2 415.7,294.7 413,296.8 411.1,299.9 408,301.8 407.8,306 407.6,309.8 408.8,313.5 407.7,317 406,320.2 406.6,323.1 405.6,325.8 405.2,328.6 405.7,331.3 405.6,334.1 406,336.9 407.9,338.8 408.6,341.5 410.2,343.6 410.1,347.8 413.5,350.3 416.1,352.4 417.7,355.4 420.6,356.8 423.6,357.9 426.3,357.4 429.1,357.4 431.9,357 434.6,355.7 437.4,355.8 440.3,356.2 443.3,355.2 446.2,353.7 447.1,350.7 448.9,348 448.5,344.7 449.8,341.8 452.6,341.3 455.7,342.2 458.2,340.1 461.5,339.4 464.9,339 468.3,339.2 471.6,341.8 470.4,344.3 469.1,346.8 467.9,350.2 466.6,353.5 464.9,356.7 464.1,360.2 462.8,362.7 461.6,365.2 461.2,368.7 459.9,371.9 462.7,372.6 465.2,374.5 468.3,373.6 471.6,374.3 475,372.1 478.3,373.6 481.1,373.8 483.9,373.7 486.7,374.4 489.4,376.3 492.5,377.7 492.3,380.8 490.9,383.7 491.7,386.9 490.6,389.6 490.1,392.4 490,395.3 489.9,398.6 490,402 491.7,404.5 493.4,407 495.8,409.7 498.4,412.1 501.4,414.4 505.1,415.4 508.5,415.3 511.8,414.6 514.2,413.2 516.8,412.1 520,413.6 523.5,413.7 525.9,416.3 528.5,418.7 531.8,420.4 533.5,417.9 535.2,415.4 536.5,412.4 538.3,409.6 540.2,407 542.2,405.1 543.7,402.4 546.9,402 549.8,402 552.6,401.2 555.3,400.3 557.5,398.8 560.1,398.1 562,396.2 563.9,394.6 565.9,396.7 563.9,401.2 566.7,402 570,401.4 573.1,400.3 575.9,401.1 579,400.1 581.5,402 584,405.4 587.8,405.7 591.5,406.2 594.9,406.1 598.2,405.4 601.2,407.5 604.9,407.9 607.6,407 609.1,404.5 611.9,405.7 614.9,405.4 618.2,404.8 621.6,405.4 623.3,407.9 621.6,410.4 624.8,411 626.7,413.7 628.1,416 630,417.9 632.5,419.2 635,420.4 637.7,422.6 640.9,423.8 642.2,426.3 643.4,428.8 645.6,430.6 648.4,431.5 650.1,433.8 652.9,434.3 655.7,434.1 658.5,434.6 661.8,434.8 665.2,434.9 668.5,434.6 671.3,435.4 674,436.5 676.9,437.2 679.1,438.6 681.1,440.3 683.6,441.3 685.9,444.4 688.6,447.2 690.1,450.4 691.1,453.9 693.4,456.2 695.3,458.9 695.7,460.9 693.2,463.4 692.4,466.8 690.3,468.5 688.2,470.1 688.1,473.1 689,476 690.5,478.2 692.4,480.2 696.1,479.9 699.9,480.2 702.1,477.4 704.9,475.1 706.6,474.3 709.4,474.6 712.1,475 714.9,475.1 718.1,476.7 721.6,477.7 724.5,478.3 726.7,480.2 728.6,482.1 730,484.4 732.8,484.6 735.5,485.8 738.4,485.2 742,484.8 745,487.1 748.4,487.7 751.8,487.7 755.1,488.5 758.5,488.5 760.9,490 762.8,492.1 765.2,493.6 766.8,496.2 769.5,497.6 771.8,499.4 774.3,500.3 776.8,500.8 779.5,500.9 781.9,501.9 783.8,504.6 786.1,506.9 786.6,510.2 786.9,513.6 786.2,516.6 784.7,519.2 783.6,522 782,524.9 779.8,527.4 778.5,530.4 776.3,532.6 774.2,535.1 771.8,537.1 769.5,538.9 768,541.2 766.8,543.8 764.2,545.9 762.6,548.8 761.7,551.5 761.6,554.4 761,557.2 761.8,560 761.8,563.4 761.4,566.7 761,570 759.7,572.7 759.3,575.6 758.5,578.4 758.4,581.2 756.8,583.5 756.7,586.2 755.1,588.5 753.4,591.2 752.3,594.4 750.1,596.8 749,600.5 746.7,603.5 743.9,605.1 741.2,606.9 738.4,608.5 735.2,610 731.6,609.2 728.3,610.2 725.1,610.2 723.1,613.2 720,613.6 716.7,614.4 714.6,617.3 711.6,618.6 709.6,621 707.2,623.1 704.9,625.3 704.4,628.9 702.4,632 702.1,635.4 703.2,638.7 701.3,640.8 700.2,643.4 698.2,645.4 696.7,647.7 695.5,650.4 693.2,652.1 691.7,655.5 689.8,658.7 687.4,660 686.2,662.8 683.7,663.9 681.5,665.4 679.8,667.6 677.7,669.5 676.5,672.1 673.7,673.8 672.2,676.7 669.8,678.8 666.6,680.4 663.1,681.3 660.3,680.8 657.5,681 654.7,680.5 651.3,680.3 648,679.7 646.1,677.7 643.5,676.7 644.4,679.5 646.7,681.3 648.5,683.4 651.1,685.8 653.5,688.4 653.2,691.8 653.5,695.1 652.7,698 650.2,699.6 648.5,701.8 645.9,703.2 642.5,702.2 640.1,704.3 637.4,703.6 634.6,703.7 631.8,703.5 628.5,704.2 625.3,706 621.7,705.2 620.1,707.5 619.2,710.2 618.8,713.7 620.1,716.9 617.8,718.9 615,720.2 612.3,719.3 609.5,718.7 606.7,718.5 603.3,721.9 604.2,725.1 608.4,725.1 612.6,726.8 610.9,730.1 605.9,730.1 603.4,733.5 602.9,737.1 600.9,740.2 597.7,741.9 595,744.4 592,745.9 590,748.5 589.2,751.9 591.2,753.6 593.4,755.2 596.3,756 599.2,756.9 599.2,760.3 596.1,761.6 593.4,763.6 591.4,766.7 588.3,768.6 585.8,771.1 583.3,773.6 581.2,775.8 580,778.7 579.8,781.4 578.3,783.7 580.1,785.8 582.5,787 580,788.1 577.8,789.8 574.9,789.5 572.9,791.2 571.1,793.3 568.6,794.4 566.6,796.2 563.8,795.5 561.6,793.7 559.4,791.6 556.5,790.4 554.1,788.2 552.4,785.4 550.9,782 549,778.7 548.1,776 547.7,773.1 547.3,770.3 547.7,767.4 546.9,764.7 546.5,761.9 546.9,759.1 547,756.2 548.2,753.6 550.4,751.4 551.5,748.5 552.7,745.8 553,742.9 554,740.2 554.7,737.4 554.6,734.5 555.7,731.8 555.4,728.7 555.8,725.6 556.5,722.6 553.7,721.2 550.7,720.1 551.1,716.7 550.8,713.3 551.5,710 552.2,706.7 552.5,703.4 552.4,700 553.1,696.8 554.3,694 555.9,691.4 556.5,688.4 557.4,685.8 558.5,683.4 559.8,681 560.6,678.4 561.4,675.5 562.7,672.7 562.5,669.4 564,666.7 564.8,663.8 563.6,660.8 563.9,657.9 564,654.9 563.6,652.1 565,649.6 565.7,647 565.9,644.3 565.7,641.6 566.7,639 565.9,636.1 566.8,633.5 567.4,630.8 568.2,628.2 568,625.5 569.5,622.9 569.3,620.2 569.5,617.5 569.8,614.8 570.2,612.1 569.6,609.4 569.8,606.7 570,604 570.7,601.4 571.3,598.8 571.6,596.1 572,593.4 572.6,590.8 572.4,588 570.5,584.5 570,580.6 567.3,578.3 565,575.6 562.8,573.8 560.1,572.8 558.3,570.5 555.4,569.7 552.9,567.8 549.9,567.2 547.8,564.3 544.9,562.2 543,560.1 540.4,558.8 538.2,557.2 535.7,553.8 534.5,551 534.1,548 532.4,545.4 530.8,543.3 529.8,540.8 528.2,538.7 527.5,535.6 525.2,533.3 524,530.4 522.8,527.7 522.3,524.8 521.5,522 520.1,519.6 518.4,517.4 516.5,515.3 514.9,513 513.3,510.6 511.4,508.6 508.1,507.7 505.6,505.3 504.8,502.6 505.1,499.7 504.7,496.9 505.5,494.2 507.2,491.9 508.7,488.9 511.4,486.9 509.2,484.7 508.1,481.8 508,478.4 508.9,475.1 509.9,472.3 510.6,469.4 512.3,466.8 514.5,464.4 516.5,461.8 518.9,460.1 519.8,457.3 521.5,455.1 523.5,452.6 524.4,449.6 525.7,446.7 526.3,444.1 527.8,441.9 528.6,439.3 530.2,437.2 530,434.3 528.4,431.7 528.5,428.8 527.5,425.1 525.2,422.1 522.9,419.4 520.1,417.1 515.1,417.1 514.4,420.2 511.8,422.1 509.8,423.9 508.4,426.3 506.2,424.6 503.4,424.6 501.7,420.4 499.1,420 496.7,418.7 494.4,417.4 491.7,417.1 488.3,413.7 484.9,412.9 482.5,410.4 478.3,408.7 477.6,405.3 476.6,402 473.5,400.1 471.6,397 469.3,393.9 466.6,391.1 463.7,390.7 461.6,388.6 458.5,389.5 456,387.3 453.2,386.9 450.8,384.9 447.5,385.5 444.8,384.4 442.9,382.1 440.4,380.5 438.1,378.6 435.2,377.1 432.7,375 429.8,373.6 426.7,371.9 423.1,371.9 420.5,373.6 417.4,373.8 414.7,375.2 411.4,374.2 408,373.6 405.2,371.3 402.2,371.2 399.9,368.7 396.8,368.7 394.4,366.6 391,367 388.4,365.4 386.1,363.1 382.9,362.6 380.1,361.2 377.3,359.9 374.9,357.7 371.7,357 369.5,355.5 367.3,354 365,352.8 362.6,349.7 359.1,347.8 360,343.6 360.7,340.2 360,336.9 358.7,334.4 356,333 354.9,330.3 351.8,328.4 349.9,325.2 348.1,322.5 345.1,321.1 343.2,318.5 341,317.1 338.4,316.3 336.5,314.4 334.8,311.5 333.2,308.5 330.5,307.4 329.3,304.4 326.5,303.5 323.6,301.4 321.5,298.5 319,296 316.5,293.4 314.7,291.2 313.6,288.5 311.4,286.7 309.1,285.1 308,282.6 306.3,280.5 304.7,278.4 302.2,276.7 302.1,280.9 303.3,283.9 305.1,286.7 306.5,289.1 308.5,291 309.9,293.4 311.5,296 313.3,298.5 314.7,300.9 315.8,303.5 317.7,306.2 320,308.5 321.8,311.8 323.5,315.2 325.6,318.4 327,321.9 329.4,323.3 331.8,324.7 334.5,327.7 332.4,331.1 329,327.7 326.6,325.5 324,323.6 322.3,320.5 319,319.4 318.1,315.2 316.2,313.1 314.9,310.6 313.1,308.5 311,306.5 308.1,306 304.5,304.8 302.2,301.8 304.7,298.5 301.4,295.1 299.2,293.4 298,291 297.2,288.4 295.7,285.6 295.6,282.2 293,280 291.5,277.1 290.2,274.1 288,271.7 285.6,269.5 283.3,267.2 280,263.8 276.7,263.3 274.9,260.5 271.9,261.2 269.5,258.8 266.6,258.8 265,255.4 263.2,252.1 260.2,250.1 258.2,247.1 256.5,242.9 254,240.4 251.9,237.5 249,235.4 247.3,232.7 247.3,229.5 246.2,226.2 244,223.6 244.8,220.2 244,216.9 243.1,213.7 243.1,210.3 242.9,206.9 244,203.6 245.3,200.4 245.7,196.9 245.9,193 247.3,189.3 246.5,186.2 244.8,183.5 243.7,180.6 244,177.6 247.2,178.9 250.7,179.3 253.2,183.5 256.5,181 256.2,178 255.7,175.1 253.4,173.2 251.5,170.9 249,169.9 247.1,168 244.8,166.7 242,166.9 239.8,165.2 237.2,164.4 234.8,163.4 231.9,161.7 228.4,161.2 225.6,159.2 223.9,155.9 222,153.2 218.8,152.1 216.4,150 216.9,152.1 214.6,149 213.5,145.4 212.4,142.7 210.9,140.4 208.5,138.7 206.2,136.5 203.7,134.6 201.8,132 199.6,130.3 197.1,129 195.1,127 192.7,124.9 191.2,121.9 188.4,120.3 186.3,118.5 184,116.9 181.7,115.3 179.6,113.7 177.2,112.5 175,111.1 173,112.9 171.7,115.3 169.4,113.6 166.7,112.8 164,111.3 161.6,109.4 158.2,109.3 154.9,109.4 152,107.1 148.3,107.3 144.9,106.8 141.6,106.9 138.2,106.6 135.4,105.2 132.4,105.9 129.4,106.2 126.5,105.3 123.8,104.4 120.8,104.7 118.1,103.6 114.7,103 111.4,101.9 108.1,100.2 104.7,101.1 100.6,99.4 98,100.2 95.4,101.8 93,103.6 91.2,105.5 89.3,107.3 86.1,107.7 82.8,107.6 79.6,107.3ZM219.7,160.9 223.1,161.5 226.4,162.6 229,164.4 232.1,165.1 234.8,166.7 237.7,168.2 239.9,170.8 243.1,171.8 245.7,172.7 247.9,174.5 250.7,175.1 254,176.8 252.4,178.8 249.6,177.3 246.5,176.8 243.7,175.5 240.6,174.5 238.1,172.6 235.4,171 232.7,169.6 229.8,168.4 227.5,166.7 224.7,165.6 222.2,164.2ZM169.2,111.9 177.5,115.3 183.4,124.5 179.2,127 172.5,119.5ZM179.2,115.3 186.7,118.6 190.9,127 185.1,126.2ZM187.6,127.8 195.9,131.2 199.3,138.7 192.6,136.7ZM189.8,140.7 199.3,141.2 200.5,148.8 202.6,153.8 195.1,148.8ZM196.8,127.8 204.3,131.2 207.2,137.9 200.5,135ZM181.7,127 188.4,129.5 191.8,136.2 185.9,133.7ZM100.6,105.6 104.7,103.6 105.6,104.6 101.4,106.6ZM286.5,38.3 286.2,41.7 286.8,45 289.4,46.1 292.3,45.7 294.9,46.7 297.5,48.2 300.4,48.8 303.2,49.7 306.2,49.9 309.1,50.4 311.9,51.7 314.9,51.4 317.9,51.6 320.7,50.2 323.8,50.8 326.7,50.5 329.6,50.1 332.5,49.7 335.4,49.2 338.4,49 341.6,47.7 345.1,47.8 348.4,46.7 351.8,47 355.1,48 358.5,48.4 361.9,48.9 365.2,49.7 367.9,48.8 370.8,48.9 373.5,48 376.9,45.8 378.1,43.4 378.9,40.7 380.2,38.3ZM396.7,50 399.3,49 402,48.5 404.8,48.4 407.4,47.4 410.1,46.7 413,47.2 416,47.4 418.9,47.9 421.8,48.4 424.3,50.1 426.9,51.7 424.2,53 421.2,52.2 418.5,53.4 413.5,52.6 410.8,53.4 407.9,53.9 405.1,54.2 401.9,52.9 398.4,52.6ZM471.7,81.8 473,79.3 474.2,76.8 475.4,74.3 477.8,72.6 480.4,71.3 484.1,72.7 487.1,75.1 489.6,75.8 492,76.9 494.8,76.7 497.2,77.7 500.3,79.5 503.8,80.2 507.3,81 510.5,82.7 507.2,84.4 503.8,84.4 500.6,83.6 497.2,83.5 494.4,83.8 491.6,83.8 488.8,84.4 486.1,85.2 483.3,85.9 480.4,86 476.9,86.2 473.7,84.9ZM489.6,91.9 499.7,88.5 497.2,91 491.3,93.2ZM510.5,92.7 516.4,91.9 513.9,96.1ZM529.3,58.4 533.5,55.4 536.9,54.9 540.2,55.4 542.7,58.4 539.4,61.4 536,61.8 532.7,61.4ZM531.8,38.3 534.2,39.5 535.8,41.8 538,43.1 540.4,44.4 541.9,46.7 544.2,49.2 547.7,49.7 550.3,51.7 552.4,53.6 553.2,56.5 555.3,58.4 551.7,59.6 548.6,61.7 550.7,64.8 551.9,68.4 549.8,71 546.9,72.6 544,73.2 541,72.6 538.1,73.4 535.2,73.5 532.4,74.6 529.4,75.2 526.3,75.5 523.5,76.8 526.5,77.4 529.1,78.9 531.8,80.1 535.1,79 538.7,79.9 541.9,78.5 544.7,79.6 547.7,79.7 550.7,79.6 553.6,80.1 556.3,82 559.6,82.8 562,85.2 564.9,87.1 568,88.8 570.2,86.9 573,86 576.2,84.6 579.7,84.3 582.3,85.1 584.8,86.3 587.2,87.7 589.8,88.5 592.1,90.4 594.7,91.9 597.3,93.5 599.1,90.8 601.5,88.5 604.5,87.5 607.3,86 606.2,83.5 605.5,80.8 604,78.5 601,77.8 598,77.5 595.4,75.7 592.9,73.7 589.8,73.5 591.4,70.1 594.8,70.3 598.1,70 601.5,70.1 604.1,71.7 606.9,72.8 609.6,74 612.4,75.1 614.3,72.9 616.5,70.9 619.9,69.7 623.2,68.4 624.9,65.1 622.4,64 619.8,63.2 617.2,62.4 614.9,60.9 612,60.2 609.1,59.3 606.1,58.8 603.1,58.4 600.7,57.2 598.2,56.1 596,54.3 593.1,54.2 590.3,52.7 587.7,51 584.7,50 587.7,49 589.8,46.7 589.8,43.9 589.9,41.1 589.8,38.3ZM600.6,95.2 604,94.9 604.8,97.2 601.5,97.6ZM583.4,102.2 586.4,101.9 586.1,103.9 583.7,103.9ZM607.7,167.3 615.6,167.8 623.4,170.5 619.7,171.3 612.4,169.9ZM608.8,185.6 611.4,187.3 613.9,188.2 616.6,188.2 619.3,188.6 621.8,187.7 620.3,189.8 615.6,190.2 611.4,189.3 609.3,187.7ZM656.5,157.5 659.5,156.5 661,160.5 658.9,162.9 657,165.5 659.5,167.3 663.1,168.7 666.8,169.9 669.9,170.2 673.1,170.5 672,173.6 674.1,175.7 675.7,178.3 678.3,180.4 677.3,185.1 674.1,186.2 671,184.1 672,180.9 668.9,179.9 664.7,182.5 660.5,185.1 657.4,183.5 661.6,180.9 658.9,180.9 656.4,179.9 653.7,180 651.1,180.9 648.3,180.8 645.5,181.3 642.8,180.4 638.6,179.4 640.7,177.5 642.8,175.7 644.4,173.1 646.9,171.5 648.2,168.7 650.1,166.3 651.6,163.9 653,161.5 654.5,159.3ZM691.4,38.3 690.2,41.1 690.3,44.3 688.8,47 688.1,50 685.2,51.2 682.2,52.3 679.7,54.2 677,56.2 674.6,58.6 672.2,60.9 673,63.4 673.9,66 674.7,68.5 676.5,70.5 679.1,71.6 680.9,73.6 683.1,75.1 684.8,78.4 686.4,81.8 688.6,84.1 690.9,86.2 693.1,88.5 694.8,91.1 697.7,92.2 699.8,94.4 702.3,95.5 704.8,96.6 707.2,97.8 709.8,98.6 712.7,99.4 715.7,100 718.6,100.9 721.6,101.1 724.4,101.8 726.6,103.6 729.3,104.4 731.6,106.1 734.1,104.9 736.6,103.6 737.9,100.6 739.6,97.8 741.6,95.2 740.8,92.3 740,89.4 742.5,88.5 744.6,86.8 746.7,85.2 749.3,82.8 751.7,80.2 750.5,77.3 748.3,75.1 751,73.7 753.6,72.1 756.7,71.8 759.6,70.8 762.5,70 765.6,69.8 768.4,68.5 771.2,68.8 773.7,66.9 776.6,67.9 779.2,67 781.8,65.9 784.4,65.2 786.9,64 789.7,63.7 791.8,61.8 794.6,60.1 797.3,58.2 800.2,56.7 803,56.2 805.7,55.1 808.6,55.1 811.3,55.5 814,55.4 816.6,55.7 819.3,55.9 822,55.9 821.6,53 822.5,50 821.6,47.1 822.4,44.2 821.4,41.2 822,38.3ZM665.9,46.7 675.1,48.7 683.5,47.3 675.1,45.7ZM483.4,336.5 486.3,334.8 488.8,332.6 491.8,331 494.7,330.5 497.6,329.7 500.4,328.6 503.5,329 506.9,329.1 510.2,330.2 513.5,330.7 515.9,331.8 518.7,331.8 521.3,332.4 523.6,334 526.5,335.4 529.2,337.3 531.9,339 535.4,340.5 538.6,342.4 541.6,343.3 544.3,345.2 547.3,346.1 546.2,348.2 543.1,348 540,348.4 536.9,348.9 533.6,349.5 530.2,349.4 526.9,349.7 528.9,346.4 526.4,345.2 523.9,343.9 521.1,342.8 518.9,340.7 515.4,339.5 511.8,338.9 509,338.1 506.2,337.5 503.5,336.5 501.3,334.7 498.5,334 495.1,334.4 491.8,335.5 489.1,336.4 486.7,338ZM493,337.4 495.7,337.4 495.4,339.4 493.4,339.4ZM523.5,358.5 530.2,357.7 535.2,360.2 530.2,361.8 525.2,361ZM553.7,350.5 557.6,350.4 561.4,349.3 564.7,349.9 568.1,349.3 571.4,350.1 574.8,351.7 578.1,353.5 580.4,355.5 583.1,356.8 579.9,357.9 576.5,358.5 573.2,358.1 569.8,357.7 567.1,359.6 564.7,361.8 562.5,360 559.7,359.3 554.7,360.2 550.3,359.5 547,357.8 550.1,357.7 553,356.5 555.5,354.3 554.7,352.6ZM589.8,357.7 598.2,357.7 599,360.2 590.7,360.2ZM623.3,370.2 625.3,370.2 625.3,372.2 623.3,372.2ZM626.7,380.3 628.3,380.3 628.7,382.3 627,382.3ZM627.7,384.4 629.3,384.4 629.3,386.3 627.7,386.3ZM623.3,395.3 625,395.3 625,397 623.3,397ZM629.2,401.2 630.8,401.2 630.8,402.8 629.2,402.8ZM624.2,405.4 628.3,405.4 628,408.7 624.2,408.4ZM522.7,318.5 526.1,317.6 527.7,325.1 525.2,325.5ZM551.2,340.9 554.5,340.5 554.9,342.2 551.5,342.6ZM571.4,396.2 574.8,397.8 573.1,400ZM691.8,472.1 703.2,471 704.9,475.1 699.9,479.8 692.9,479.8ZM574.9,790.4 578.3,790.3 581.6,789.5 584.2,791.5 586.7,793.7 588.7,795.7 591,797.2 593.4,798.7 596.2,799.5 598.8,801 601.7,801.3 598.3,801.9 595,802.9 592.3,803.8 589.4,803.5 586.7,804.6 583.3,804.3 580,803.8 577.6,801.9 574.9,800.4 572.7,798.2 571.6,795.4 573.2,792.9ZM626.8,783.7 630.1,782.5 633.5,782 636.8,781.2 640.2,781.2 644,780.8 647.7,782 645.2,784.5 641.6,784.5 638.5,786.2 635.1,786 631.8,785.7 629.3,784.6ZM768,797 774,798.5 780,801.5 774,800.5ZM441.5,470.5 444,469.5 447,471 446,473.5 442.5,473ZM450,471.5 453,471 456,472.5 453.5,474.5 450.5,474ZM549,723.4 552.4,724.3 550.7,732.6 547.3,732.6ZM541.5,749.4 547.3,748.5 548.2,751 542.3,753.2ZM541.5,760.3 545.7,761.1 547.3,770.3 544,772ZM545.7,778.7 549.8,782 554,788.7 549.8,787.9ZM551.5,792.9 558.2,794.6 564.9,798.7 558.2,797.9ZM568.3,801.3 578.3,802.9 585.8,806.3 576.6,805.4Z" fill="#cb181d"/>
<g clip-path="url(#land)" fill-rule="evenodd" shape-rendering="crispEdges"><path d="M550.8,707.8 550.2,713.8 551.2,713.2ZM650.2,612.8 645.2,612.2 644.8,614.8 642.8,615.2 642.8,620.2 641.8,621.8 641.8,623.8 639.8,624.2 638.8,626.8 633.8,627.2 633.2,629.2 632.2,630.2 630.8,630.2 630.2,632.2 629.2,633.2 627.8,633.2 626.2,635.8 624.8,635.8 624.2,638.2 623.2,639.2 621.8,639.2 620.2,641.8 614.8,642.2 612.2,643.2 612.8,647.8 614.2,647.8 615.2,648.8 614.8,653.2 616.2,658.8 614.8,665.2 615.8,666.2 615.2,671.8 615.8,672.2 616.2,682.8 615.2,684.8 614.8,689.2 612.2,690.8 612.8,704.2 611.8,705.2 608.8,705.8 608.8,706.8 606.2,708.2 605.8,711.8 605.8,720.2 606.2,720.8 608.2,719.8 616.2,721.2 620.8,718.2 621.2,714.2 620.2,710.8 623.2,705.8 626.2,705.8 629.8,704.8 641.2,705.2 649.8,702.8 654.8,696.2 654.8,687.2 648.8,681.2 650.2,680.8 653.8,681.8 664.2,682.2 670.8,679.8 678.2,672.8 682.2,666.8 689.2,660.8 687.2,660.8 686.2,662.8 681.2,663.2 680.8,660.8 679.2,660.2 678.2,662.8 678.2,665.2 675.8,665.8 673.8,668.8 671.8,669.2 671.2,671.2 668.8,672.2 663.8,672.8 660.8,671.2 659.8,669.8 658.2,669.8 656.2,668.2 656.2,666.2 654.8,665.2 653.2,662.2 653.8,655.2 654.8,654.2 658.8,653.2 659.8,647.8 659.8,637.2 657.2,636.2 656.8,633.8 653.8,632.2 653.8,624.8 651.2,623.8ZM762.8,537.2 762.2,539.2 764.2,539.8 764.8,537.8ZM537.8,477.2 536.8,478.2 536.8,479.8 537.8,481.8 538.8,482.2 539.8,477.8ZM599.8,481.2 600.2,488.2 602.2,488.8 603.8,491.2 605.2,491.2 606.2,492.2 606.8,495.2 609.2,498.8 609.2,503.2 615.2,504.2 616.2,505.2 619.2,503.8 623.8,503.8 625.2,500.8 629.2,500.8 630.8,497.8 632.8,497.8 634.2,496.8 637.8,497.2 638.2,495.8 639.2,494.8 641.8,494.2 642.8,492.2 644.8,492.2 646.8,494.2 647.8,493.8 648.2,492.2 650.8,491.8 651.2,489.2 653.8,488.8 654.2,486.8 657.2,485.2 657.2,483.8 655.8,482.8 651.2,483.2 650.2,485.8 642.8,486.2 641.2,488.8 637.2,488.2 635.8,486.2 630.8,485.8 629.2,483.2 627.2,482.8 626.8,477.8 624.2,476.8 623.8,471.2 620.2,470.8 615.2,471.2 613.2,472.2 611.2,474.8 607.2,474.8 605.2,477.2 603.2,477.2 603.2,479.2 602.2,480.2 600.2,480.2ZM596.2,417.2 592.2,417.8 590.2,416.8 580.2,416.2 577.2,417.8 577.2,419.8 579.2,420.8 579.8,425.2 582.2,426.8 582.2,434.2 582.8,434.8 584.2,434.8 584.8,432.2 586.8,431.2 588.2,428.8 590.8,428.2 590.8,426.8 591.8,425.8 593.2,425.8 595.8,424.2 596.8,422.2ZM615.2,411.8 614.8,416.2 615.8,417.8 615.8,419.2 625.8,420.2 626.8,421.2 627.8,425.2 635.8,426.2 636.2,428.8 637.8,428.8 638.8,429.8 639.8,434.2 643.8,435.2 645.2,437.8 650.2,438.2 651.2,440.2 656.8,440.2 657.2,440.8 664.8,440.2 667.8,441.2 669.2,443.8 674.8,444.2 675.8,446.2 677.8,446.2 680.8,447.8 680.8,449.2 683.2,451.2 684.8,453.8 684.8,457.8 687.2,459.2 686.8,462.8 687.2,464.8 689.2,464.8 690.8,466.2 690.8,467.2 689.2,468.8 687.8,468.8 687.8,470.2 686.8,471.2 684.8,471.8 683.8,476.8 678.2,477.8 678.2,482.8 680.2,483.2 681.2,485.8 683.8,485.8 684.8,486.8 684.8,488.2 687.8,487.8 695.8,488.2 696.8,486.2 703.2,485.2 705.2,486.8 705.8,488.2 710.8,489.2 711.2,491.2 713.8,491.2 714.8,489.8 716.2,489.8 717.2,491.2 722.2,491.8 723.2,492.8 723.2,494.2 726.2,495.8 726.8,497.8 730.2,498.2 737.2,497.8 738.8,499.8 743.2,499.8 744.2,497.8 746.8,497.2 747.8,494.8 749.2,494.8 749.2,492.8 744.2,491.8 743.2,489.8 729.2,488.8 728.8,486.8 726.8,486.8 725.2,485.2 725.2,484.2 722.8,482.8 722.2,480.8 720.8,480.8 719.2,479.2 719.2,477.8 717.2,477.2 715.8,474.8 708.8,474.2 707.8,473.2 705.8,473.2 704.2,470.8 702.2,470.2 696.2,471.2 690.8,471.2 690.2,474.2 689.8,470.8 693.8,467.2 696.8,461.8 696.8,459.2 695.2,456.2 692.2,452.8 689.8,446.2 684.8,440.2 677.8,436.2 672.8,434.8 669.2,434.8 668.2,433.8 664.2,434.2 663.8,433.8 651.8,433.2 643.8,427.2 641.8,422.8 639.8,422.8 638.8,420.8 631.8,417.2 625.8,411.2 618.8,410.8ZM603.8,408.8 603.8,410.8 605.2,410.8 605.8,409.8 605.2,408.8ZM543.8,405.2 543.2,407.2 541.8,408.8 540.8,408.8 540.8,413.2 542.8,414.2 543.2,417.2 544.8,417.8 548.2,416.8 548.2,408.2 546.2,407.8 545.2,405.2ZM487.8,380.2 486.2,381.8 486.2,390.2 485.8,390.8 486.2,395.2 491.2,395.8 492.8,382.8 491.8,380.8ZM441.2,359.2 441.2,362.8 444.2,362.2 446.2,363.2 446.2,361.2 444.8,361.2 443.2,358.8ZM452.8,340.2 451.8,341.2 452.2,344.8 453.2,345.8 452.2,347.2 456.8,348.2 458.2,349.8 457.8,351.2 458.2,353.2 456.8,354.8 458.8,358.8 461.8,360.2 463.2,359.8 464.2,358.2 466.2,358.2 468.2,353.8 467.8,348.2 470.2,345.8 468.2,342.8 468.8,341.2 467.2,341.8 465.8,339.8 464.2,340.8 462.2,339.8 464.2,340.8 462.2,341.8 459.8,339.2 458.8,340.2 457.8,340.2 457.2,339.2ZM402.2,332.2 400.8,333.8 400.2,335.8 400.8,338.8 403.2,339.2 403.8,341.2 405.8,342.8 407.8,342.8 408.8,341.2 407.8,340.2 407.8,338.8 405.2,336.8 406.2,335.8 405.8,333.2 404.2,333.8 403.2,332.2ZM485.2,337.8 486.8,338.8 488.2,338.8 489.8,336.2 491.2,336.8 492.8,335.2 495.2,334.2 497.8,334.2 499.8,335.2 500.8,336.8 505.2,338.2 505.2,336.2 506.2,335.8 507.2,338.8 510.8,337.8 511.8,339.2 516.2,339.8 518.2,339.2 520.2,340.2 521.2,341.8 522.8,340.2 523.8,341.2 523.2,342.2 523.8,343.2 524.8,343.8 528.8,343.2 530.2,345.2 531.8,345.2 533.2,347.8 534.8,345.2 535.8,346.2 535.2,346.8 535.8,347.8 537.8,347.2 537.8,346.2 539.2,344.8 540.2,345.8 541.8,345.2 539.8,343.2 540.2,341.8 538.8,341.8 537.2,340.2 534.2,340.8 532.8,339.8 533.2,338.8 532.8,338.2 532.2,338.8 529.8,338.2 528.2,336.2 524.8,335.8 522.2,337.8 519.2,335.2 520.2,333.8 517.2,330.8 516.2,331.2 513.8,330.8 512.2,331.8 511.2,329.2 507.8,328.8 506.2,331.2 504.8,328.2 496.8,329.2 493.2,332.8 489.8,331.8 488.8,332.2 488.8,333.8 486.2,335.2ZM521.8,317.8 521.8,320.2 523.8,325.2 527.2,324.2 528.8,326.2 528.8,323.2 527.2,316.8ZM320.2,296.2 318.2,297.2 320.2,299.2 321.2,297.8ZM327.8,288.8 325.8,289.8 324.8,291.2 325.8,293.2 325.2,294.8 326.2,295.8 328.2,291.2ZM301.2,280.8 301.8,282.2 303.8,281.8 303.2,280.8ZM315.8,275.8 315.2,277.8 316.8,277.8 317.8,276.8ZM312.8,274.8 312.2,277.2 311.2,278.2 311.8,278.8 313.8,278.2 312.8,276.8 313.2,275.8ZM310.2,269.2 309.2,269.2 309.8,274.8 311.2,272.8ZM256.8,225.8 255.2,227.8 254.8,230.2 255.8,231.2 257.2,230.8 258.2,231.8 258.2,235.2 260.8,237.2 260.2,238.8 258.8,237.2 258.8,238.8 259.8,239.8 259.8,242.2 263.2,245.2 264.8,245.2 266.2,247.8 268.2,248.2 267.2,249.2 267.8,251.8 269.2,250.8 272.8,252.8 275.2,252.2 275.8,251.2 272.8,248.8 270.8,245.2 268.8,244.2 268.2,243.2 268.8,242.8 266.8,240.8 265.8,237.8 263.8,236.2 263.8,234.8 260.8,231.8 259.8,229.2 257.2,227.2 257.2,225.8ZM247.8,212.2 247.2,215.2 250.2,214.2 249.8,213.2ZM574.2,215.2 570.2,213.2 571.2,210.8 569.8,211.2 569.2,212.8 564.8,213.2 562.2,215.8 560.2,215.8 556.8,217.8 555.8,219.2 552.8,219.8 551.8,219.2 552.2,218.8 547.2,219.8 545.8,219.2 541.8,222.8 540.8,222.2 538.8,224.2 537.2,223.8 534.2,223.8 533.2,224.8 531.8,224.2 528.2,228.8 525.8,229.8 523.8,231.8 523.8,232.8 516.2,240.2 514.8,240.8 513.8,242.2 511.8,242.8 511.8,243.8 507.8,248.2 506.2,251.2 506.8,252.8 505.8,255.2 504.8,256.2 501.8,256.8 499.8,259.2 496.2,260.2 493.2,265.2 491.8,266.8 489.8,267.2 486.8,271.2 485.8,270.2 483.2,270.8 482.2,268.8 480.8,270.2 478.8,269.2 473.8,271.2 471.2,271.2 470.8,269.8 468.8,268.2 468.8,267.2 467.2,266.8 464.2,262.8 462.2,262.8 461.2,261.8 461.8,256.8 460.8,255.2 462.8,253.8 463.2,252.8 462.8,251.2 465.8,248.2 468.2,249.2 468.8,248.2 470.2,247.8 471.2,245.8 472.2,239.2 469.2,237.8 470.8,236.2 467.8,236.2 465.2,234.2 460.2,234.8 458.8,232.8 457.8,232.8 457.8,233.8 459.2,234.8 457.8,235.8 456.2,235.2 454.8,236.2 454.2,235.8 451.2,238.8 449.2,238.2 448.2,238.8 448.2,240.8 446.2,241.8 446.2,242.8 448.8,245.2 447.2,248.2 444.8,250.2 443.2,249.8 443.8,250.8 442.2,252.2 440.2,252.2 438.2,254.2 437.2,254.2 434.2,257.8 432.2,258.2 430.2,260.2 429.8,262.2 426.8,262.2 425.2,263.8 423.8,263.2 422.8,264.2 420.2,264.2 418.2,265.8 417.8,267.2 416.8,266.8 416.8,264.2 416.2,263.8 415.8,264.2 416.2,266.2 415.2,267.8 415.8,269.2 414.8,270.2 413.2,270.2 414.8,272.2 413.8,273.8 414.2,275.2 412.2,276.8 411.8,277.8 412.2,280.2 411.2,280.8 410.8,282.8 408.8,284.8 408.8,286.2 409.8,287.2 407.8,288.2 407.2,289.2 407.2,291.8 408.8,293.2 408.8,295.2 407.2,297.2 405.2,297.8 405.2,302.8 405.8,303.2 407.2,302.8 408.2,303.8 407.2,309.8 408.2,310.8 408.8,313.2 407.8,316.2 408.8,317.8 409.8,315.2 409.8,311.2 408.8,306.8 409.2,302.8 415.2,296.8 422.8,291.2 432.8,290.2 436.8,290.8 445.8,293.8 447.8,293.8 451.8,290.8 455.8,294.2 457.8,294.2 459.2,290.8 459.2,288.2 457.8,286.8 458.2,286.2 473.8,286.2 479.2,290.2 481.2,290.2 485.2,288.8 488.8,289.8 492.8,295.2 497.8,308.8 504.8,317.8 509.2,318.8 511.8,314.8 511.2,312.8 511.8,312.2 512.8,312.8 512.8,303.8 508.2,293.8 505.8,285.8 505.8,282.8 508.8,275.2 519.8,267.8 530.8,261.8 534.8,257.8 540.8,256.2 540.2,248.2 538.2,239.2 538.8,238.8 539.8,239.8 541.8,239.8 543.2,234.8 547.8,229.8 551.2,223.2 564.2,219.8 573.2,219.8 574.2,217.8ZM554.8,192.2 553.8,191.8 552.8,192.2 551.2,190.8 549.8,192.8 546.2,194.2 546.2,195.8 545.2,196.8 537.8,199.8 536.2,202.8 535.2,201.8 535.8,200.2 534.2,199.8 533.2,200.2 534.2,201.8 533.8,202.2 532.2,201.8 529.8,202.2 528.8,200.8 526.2,202.2 524.2,201.8 523.2,202.8 521.2,202.8 518.2,205.2 516.8,205.2 515.2,206.2 516.2,207.8 517.2,207.8 518.2,205.8 519.2,207.8 520.8,207.2 524.2,207.8 526.8,205.2 527.8,205.2 528.8,206.8 530.8,206.2 531.8,204.2 532.8,204.8 533.2,206.2 534.2,204.8 537.2,202.8 543.8,200.2 544.8,198.8 549.2,198.8 552.2,197.2 554.2,197.2ZM278.8,181.2 277.2,181.8 278.2,184.8ZM425.8,167.2 424.8,167.2 421.8,171.2 422.2,172.8 425.2,172.8 426.2,171.8 426.2,170.8 425.2,170.2 426.2,169.8ZM515.8,160.2 516.2,163.8 518.2,163.8 519.2,161.8 521.8,161.2 517.2,158.8ZM423.2,109.2 422.2,111.8 423.8,112.8 423.8,113.8 422.8,114.8 423.2,116.8 422.2,117.8 423.8,119.2 425.2,119.2 426.8,120.8 428.2,120.8 429.2,121.8 429.8,125.2 431.8,125.2 432.8,123.2 433.8,124.2 432.8,126.2 433.8,127.2 436.2,126.2 437.2,124.2 438.2,125.8 439.2,125.8 440.2,123.8 441.2,124.8 442.2,128.2 446.8,129.2 451.8,131.2 453.8,130.8 455.2,131.8 458.8,131.8 460.8,134.2 463.8,135.2 465.8,134.8 467.2,136.2 469.2,136.2 470.2,137.8 472.2,137.2 472.8,136.2 477.2,138.2 479.2,137.8 480.2,139.8 484.2,140.8 486.8,143.2 489.2,142.8 490.2,143.8 492.8,148.8 492.8,150.8 495.8,152.2 495.2,154.2 496.2,155.8 497.8,156.2 498.8,158.8 499.8,158.8 501.8,160.8 503.2,159.2 506.2,164.2 507.8,163.2 509.2,164.8 512.8,163.8 513.8,159.8 512.2,159.8 510.2,156.2 508.8,156.2 507.8,154.2 506.2,155.2 505.2,153.2 503.8,152.2 503.8,151.2 501.8,149.8 500.8,144.2 498.2,143.2 498.8,139.8 496.8,137.8 497.2,136.2 496.8,135.2 495.2,135.2 494.8,134.2 490.8,134.2 490.2,135.2 487.8,135.2 486.8,134.2 484.8,135.2 484.2,136.2 483.2,136.2 482.8,135.2 481.2,135.2 479.2,133.8 474.8,133.2 473.8,132.2 471.2,132.2 469.8,130.8 467.2,131.8 465.8,130.2 460.8,129.2 459.8,127.8 458.2,127.8 455.8,124.8 453.8,125.8 448.8,123.2 447.8,124.2 444.8,123.8 442.8,125.2 442.2,123.8 439.2,123.8 437.2,122.2 435.8,123.8 434.8,121.8 435.2,118.2 434.8,117.2 432.8,116.2 432.8,114.8 430.8,115.2 430.2,114.2 428.2,114.2 426.8,112.8 424.8,112.2 424.2,109.8ZM607.2,105.8 605.2,104.2 604.8,105.8 603.2,106.8 603.2,107.8ZM528.8,95.2 525.2,97.2 526.2,99.8 525.8,100.8 526.8,102.2 525.8,106.2 526.2,107.8 525.8,111.2 527.8,113.8 528.8,113.8 530.2,115.8 531.2,115.8 533.2,117.8 531.2,118.8 531.2,120.2 532.2,121.8 531.2,123.2 532.8,126.8 530.8,129.2 530.8,131.2 534.2,132.8 534.2,131.2 536.8,130.2 535.2,128.8 536.2,126.8 536.8,121.2 534.8,119.2 534.8,118.2 537.2,116.2 535.8,115.2 537.2,113.8 536.8,110.2 537.2,108.8 534.2,104.2 534.8,102.2 534.2,99.2 531.8,95.8ZM447.2,82.8 446.8,82.2 444.8,82.8 443.8,81.2 442.2,81.8 442.8,82.8 442.2,83.8 441.2,83.8 440.2,82.2 438.8,82.8 437.2,81.8 426.2,82.8 425.8,83.2 426.2,84.8 424.8,85.8 424.8,89.2 426.8,90.8 426.8,92.2 427.2,91.2 428.8,91.2 429.8,92.2 433.8,92.8 437.2,90.8 439.2,88.8 439.8,87.2 440.8,87.8 440.2,88.8 440.8,89.2 443.8,88.2 446.8,85.2ZM92.2,72.2 91.8,74.2 93.2,75.8 94.8,75.8 95.2,74.2 93.2,75.2 92.8,72.2ZM138.8,70.8 137.2,72.2 138.8,74.2 139.2,73.8ZM142.2,68.8 141.8,71.8 142.8,73.2 143.8,73.2 143.8,71.2 145.2,69.8ZM118.8,66.8 118.2,68.2 115.8,69.8 120.8,71.8 121.2,69.8 119.8,68.8 119.8,67.2ZM358.8,64.2 357.8,64.8 357.8,65.8 359.2,67.2 359.8,66.2ZM117.8,63.2 118.2,63.8 118.8,62.8 119.8,62.8 121.2,64.2 124.2,63.8 120.8,63.2 119.8,61.8ZM473.8,62.2 471.8,62.8 470.8,61.2 469.8,61.2 469.2,64.8 467.2,69.8 467.8,74.8 465.2,75.2 466.2,77.2 465.8,78.2 469.8,75.8 470.8,74.2 469.8,73.2 470.2,72.2 471.8,72.8 476.8,69.8 477.2,68.8 476.8,65.8 475.2,64.8ZM552.2,56.8 553.2,57.8 549.8,60.2 550.8,62.8 551.2,67.2 555.8,70.8 554.2,72.2 556.8,73.8 555.8,75.8 557.8,76.8 558.8,78.8 560.2,77.8 561.2,78.8 561.2,80.2 565.2,82.2 564.8,80.2 567.2,77.2 566.2,75.2 567.2,74.2 566.8,70.8 568.8,66.2 576.8,66.2 579.8,63.8 578.8,61.8 576.2,59.2 573.8,58.2 569.8,58.8 567.2,58.2 565.8,60.2 564.8,58.2 564.2,58.8 562.2,57.8 557.2,58.2 554.2,56.2ZM565.2,60.2 566.8,61.8 566.2,62.8 564.2,62.2ZM355.2,51.8 356.2,54.8 358.2,55.2 359.2,54.8 357.2,53.8 357.2,51.8ZM177.8,51.2 178.2,53.2 177.8,54.8 182.2,60.8 186.2,62.8 189.2,62.8 192.8,65.2 194.2,64.8 195.8,65.8 199.8,66.2 203.2,65.2 204.8,66.2 206.2,64.8 210.8,67.2 212.2,66.2 213.2,67.8 216.8,68.8 217.8,69.8 222.2,68.8 225.8,69.2 226.8,68.2 224.8,64.2 222.2,64.8 219.2,61.8 214.8,62.2 213.2,63.8 212.8,62.2 208.8,59.2 201.2,58.8 200.2,57.2 198.8,57.8 196.8,55.2 195.8,55.2 192.8,52.2 190.8,52.8 188.2,50.8 186.2,52.8 183.8,50.2 181.2,51.2 178.8,50.8 178.2,51.8ZM396.8,49.2 396.8,50.2 398.2,51.8 401.8,52.2 403.8,54.2 405.8,53.8 408.8,54.2 409.8,52.2 411.8,52.2 413.8,53.2 410.8,54.2 415.2,53.2 417.8,54.2 422.2,53.8 422.8,54.2 420.8,56.2 416.2,59.2 413.2,57.2 412.2,57.8 413.2,57.8 415.8,61.2 419.2,61.8 420.8,59.8 422.2,60.8 423.8,60.2 425.8,57.8 427.2,57.2 428.2,55.2 430.8,56.2 431.2,54.2 434.8,53.2 434.8,51.2 433.2,50.2 433.2,49.2 428.2,52.2 427.2,50.2 422.8,47.2 419.2,47.2 409.2,45.8ZM290.8,44.2 291.2,47.2 293.2,47.2 302.2,50.8 305.8,50.8 313.8,52.2 331.8,51.2 335.8,50.2 339.2,50.2 347.8,47.8 366.2,50.8 374.8,49.2 377.8,46.8 377.2,42.8 375.2,42.8 374.2,41.8 371.8,42.8 368.2,42.2 366.8,43.8 364.2,44.2 362.8,43.2 360.2,44.2 359.2,42.8 357.8,44.2 356.2,43.2 355.2,43.8 353.2,43.2 351.2,44.2 348.2,43.8 345.2,42.2 344.2,43.2 342.2,43.2 339.8,44.8 338.8,43.8 336.2,43.2 333.2,43.8 331.8,44.8 330.2,43.8 327.2,43.8 325.2,42.8 323.2,43.2 319.8,42.8 318.2,43.8 314.2,44.2 311.2,41.8 308.8,43.8 306.8,42.8 303.2,43.8 300.8,41.2 299.8,43.8 297.8,43.2 296.8,44.2 292.8,43.8Z" fill="#7a0a10"/>
<path d="M702.8,630.2 702.2,635.8 703.8,635.8 703.2,632.8 704.2,630.2ZM657.8,603.2 657.2,608.2 660.2,609.8 660.2,611.8 662.8,611.8 662.8,607.8 663.8,606.2 665.8,605.8 665.8,603.8 662.2,602.8ZM627.8,570.2 627.2,574.8 627.8,575.8 629.2,575.8 629.8,573.2 631.8,571.8 631.8,570.8ZM664.2,546.2 663.2,548.8 663.2,551.2 665.2,551.8 665.8,546.8ZM630.2,550.2 630.2,551.2 632.2,552.2 632.2,554.2 633.8,557.8 638.8,557.8 640.2,559.8 642.2,560.8 644.8,560.8 646.2,558.2 647.2,558.2 648.8,560.2 649.8,560.2 651.2,558.2 653.8,558.2 656.2,556.8 654.2,552.8 650.8,550.8 650.8,546.2 649.8,545.8 639.2,546.2 637.2,545.8 636.2,543.8 633.8,543.2 633.2,545.8 635.2,546.2 635.8,547.8 634.8,548.8 633.2,548.8ZM778.2,512.2 768.8,513.2 767.2,516.2 762.2,515.8 761.2,507.8 756.2,506.8 755.8,509.2 753.2,510.8 753.2,512.2 752.2,513.2 750.2,513.2 748.8,515.2 747.2,515.8 746.8,518.2 744.8,518.8 743.8,519.8 743.8,521.2 741.8,521.8 739.8,524.8 738.8,524.8 737.8,522.8 736.2,522.2 735.2,522.8 734.8,524.8 729.8,525.8 728.8,527.8 726.2,527.8 724.2,528.8 723.8,530.8 722.2,531.8 720.8,531.8 719.2,534.2 714.8,534.2 713.8,534.8 713.2,536.2 711.2,536.8 710.8,540.2 709.8,541.8 707.2,543.8 705.2,544.2 706.2,546.8 705.2,551.8 703.2,552.8 701.8,555.2 699.2,555.8 699.2,557.8 698.2,559.8 696.2,560.8 694.8,563.2 693.8,563.2 693.2,561.8 692.2,561.2 690.2,561.2 689.2,558.8 686.8,557.8 684.2,557.8 683.2,555.8 680.2,554.2 678.8,554.2 677.8,552.2 666.2,552.8 665.8,557.2 661.2,558.8 661.2,560.2 664.8,561.2 665.8,562.2 665.2,565.8 663.2,567.2 663.8,572.2 662.8,574.2 662.8,579.2 661.8,580.2 663.2,582.8 662.8,587.2 664.2,589.8 668.8,590.8 669.2,593.2 671.8,594.2 672.2,596.2 675.2,597.8 675.2,601.8 673.2,604.8 675.2,606.2 675.8,607.8 674.8,608.8 672.2,609.2 672.2,611.8 671.2,612.8 669.8,612.8 668.8,616.2 668.8,620.2 671.8,621.8 671.8,626.2 673.2,629.2 675.2,631.2 673.8,633.2 671.8,633.8 671.8,635.8 672.8,637.8 675.8,638.8 678.8,638.8 680.8,639.8 680.8,643.8 681.8,647.2 686.8,647.8 689.8,647.2 691.2,645.8 694.8,646.8 696.2,644.8 698.8,644.2 698.8,641.8 697.2,641.8 696.2,640.8 697.2,639.2 698.8,639.2 699.8,641.2 701.2,641.2 701.2,639.2 699.8,637.8 698.8,633.2 698.8,626.8 699.8,623.8 701.8,623.8 702.8,626.2 705.8,626.8 713.2,619.2 726.8,611.8 731.8,610.8 733.2,608.2 735.2,609.2 740.2,609.2 741.2,604.2 743.8,603.2 743.8,601.2 744.8,600.2 747.2,599.8 747.8,597.8 749.8,596.8 750.2,594.2 752.2,592.8 752.2,588.2 751.8,587.8 745.8,587.8 744.8,586.8 745.8,585.8 749.2,585.8 750.2,584.2 750.8,580.2 754.8,577.8 756.8,574.8 755.2,571.8 755.2,570.2 753.8,569.8 753.2,568.2 754.2,567.2 758.8,566.2 757.8,559.2 758.8,557.8 758.8,555.8 759.8,554.8 761.2,554.8 761.8,553.8 761.8,550.2 760.8,549.2 757.2,548.2 755.8,545.8 756.2,540.8 755.2,534.8 757.2,531.8 759.2,530.8 761.8,530.8 763.2,529.2 765.8,530.8 768.2,530.2 768.8,528.8 776.2,527.2 776.8,525.2 778.8,522.8 781.2,524.2 782.2,523.8 782.2,522.2 780.8,522.2 779.8,521.2 780.2,513.8ZM702.2,618.8 704.2,618.2 704.8,620.2 703.2,621.2 702.2,620.2ZM673.2,618.2 674.8,619.2 673.8,620.8 672.2,620.2ZM693.8,609.2 695.2,609.2 696.2,611.2 696.2,615.2 695.2,618.2 693.8,618.2 692.8,616.8 692.8,610.2ZM698.8,606.8 701.2,606.2 702.2,607.8 701.2,609.2 699.8,609.2 698.8,608.2ZM736.2,597.2 737.8,598.2 738.2,600.2 737.8,602.8 734.8,602.2 735.2,598.2ZM699.2,595.8 698.8,592.8 699.8,591.2 702.2,591.2 704.2,592.2 703.8,593.2 701.8,594.2 701.2,596.2ZM672.8,585.8 673.8,585.2 674.8,586.8 673.2,587.2ZM685.2,581.2 686.8,581.8 691.8,581.2 693.2,582.8 693.2,583.8 695.8,585.2 696.2,590.2 693.2,591.8 693.2,593.8 692.2,595.2 693.2,597.2 693.2,599.8 692.2,600.8 690.8,600.8 690.8,602.8 692.8,603.8 692.8,608.8 692.2,609.2 686.8,609.2 686.2,609.8 684.2,609.2 683.2,607.8 683.2,603.8 680.8,602.8 681.2,594.2 683.2,593.8 684.2,596.8 686.8,596.2 686.8,594.2 683.8,593.8 683.8,588.2 680.8,587.2 680.8,585.2 681.8,583.2ZM705.8,580.2 707.2,579.8 707.8,581.2 706.2,581.8ZM679.2,572.8 681.2,573.8 681.2,575.2 680.2,576.2 678.8,576.2 677.8,575.2 677.8,573.8ZM749.8,558.2 752.8,557.8 753.2,560.8 750.2,561.2 749.2,559.8ZM747.2,552.2 749.2,552.2 750.2,553.2 748.8,556.8 746.8,554.8ZM711.2,549.2 713.2,548.8 714.2,549.8 714.2,551.2 713.2,552.2 711.8,552.2ZM751.2,543.8 752.8,544.2 753.2,547.8 752.2,549.2 750.8,549.2 749.8,548.2 749.8,546.8ZM738.2,535.2 739.2,534.2 743.2,534.2 743.8,536.2 739.2,536.8ZM753.2,502.2 753.8,504.2 757.8,503.8 757.2,501.8ZM562.2,473.2 561.2,474.2 561.2,476.2 563.2,476.8 563.8,474.2ZM602.2,459.2 600.8,459.2 600.8,460.8 598.8,464.2 594.8,465.2 594.8,467.8 595.8,467.8 598.2,470.8 599.8,470.2 599.8,468.8 602.8,466.8 602.8,459.8ZM588.2,438.2 588.2,440.8 590.8,441.8 590.8,443.8 589.2,445.8 590.8,446.8 592.2,451.8 594.8,452.8 596.8,452.2 600.2,452.8 602.2,454.2 603.8,457.8 604.8,457.8 606.2,452.8 611.2,452.2 612.2,449.8 617.2,450.2 618.2,452.2 620.2,452.2 620.8,447.8 621.8,446.8 626.8,447.2 632.2,446.2 633.2,447.2 635.8,447.2 637.8,443.8 637.8,441.8 639.2,439.8 636.2,436.8 635.8,435.2 633.8,435.2 632.8,434.2 632.8,432.8 631.2,432.2 629.2,429.2 623.2,429.2 622.8,428.8 619.8,429.8 615.8,429.2 612.2,429.8 610.2,431.2 609.2,429.2 607.8,428.2 605.8,429.2 605.8,430.8 604.8,431.8 603.2,430.8 603.2,429.2 601.2,428.2 597.2,429.8 596.8,431.8 591.2,432.2 590.2,436.8ZM516.2,412.2 514.8,411.8 513.8,412.2 513.8,413.2 515.2,413.8ZM489.2,412.2 488.8,415.8 490.8,418.2 492.2,416.8 494.8,416.8 496.2,415.8 498.2,416.8 500.2,416.8 500.2,414.2 496.2,414.8 495.2,413.8 494.8,411.2 490.8,411.2ZM548.8,400.8 549.2,407.8 550.2,409.2 549.8,419.2 548.8,420.8 546.2,421.2 546.2,422.2 548.2,422.8 549.8,425.2 552.2,425.8 551.8,430.8 550.8,431.8 549.2,431.8 548.2,429.8 546.2,429.8 544.2,427.8 542.8,423.2 540.2,422.8 534.2,423.2 533.2,431.8 531.8,432.2 531.8,434.2 534.2,435.2 534.2,437.8 531.8,439.2 531.8,440.2 533.8,441.8 533.8,442.8 530.8,444.2 530.8,445.8 528.2,447.2 527.8,455.8 525.8,457.2 525.2,464.2 522.2,465.2 521.2,467.8 519.8,467.8 519.2,470.2 516.2,472.2 515.8,476.2 512.8,477.8 513.2,487.8 511.2,489.8 510.2,494.2 512.8,495.8 513.2,509.2 513.8,510.2 515.8,511.2 513.8,513.8 520.2,522.2 523.2,531.8 528.2,541.8 530.2,544.2 535.2,555.8 537.8,558.8 542.8,562.2 548.8,568.2 555.8,570.8 563.2,575.8 569.8,582.8 571.2,588.8 569.2,605.8 569.2,610.2 570.2,614.2 568.2,617.8 567.2,625.2 567.8,626.8 569.8,627.2 569.2,632.2 567.8,633.2 566.8,638.8 564.8,639.8 563.2,651.8 563.8,655.2 563.2,666.2 559.8,677.8 553.8,691.8 554.8,693.2 554.8,698.8 552.8,699.8 552.8,701.2 553.8,701.2 555.2,702.8 555.8,704.8 555.8,710.8 555.2,711.2 555.8,715.8 554.2,721.2 552.8,722.2 553.2,722.8 551.8,723.2 552.2,731.8 551.2,733.8 552.2,732.2 553.2,723.2 554.2,722.8 555.8,723.8 553.8,737.8 551.8,744.2 552.8,743.2 554.8,743.2 556.2,741.2 559.8,741.2 560.8,742.8 558.8,744.2 555.8,744.2 556.2,748.8 554.2,750.8 552.8,750.8 552.8,752.2 550.8,755.8 546.8,756.8 546.8,758.2 548.2,758.2 549.2,759.2 549.2,761.2 546.2,762.8 545.8,772.8 546.2,772.2 546.8,772.8 546.8,774.2 548.2,775.2 548.8,776.8 548.8,779.8 546.8,781.2 546.8,784.8 547.2,785.8 549.2,786.8 549.2,788.8 552.8,789.2 555.2,790.8 555.8,789.2 557.8,790.2 557.2,793.2 550.8,791.8 552.8,792.8 552.8,794.2 556.8,793.8 557.8,794.8 563.8,794.8 565.8,795.2 566.8,797.2 567.8,797.2 570.2,795.2 572.2,798.8 581.2,798.2 581.8,800.2 583.8,801.2 585.2,803.2 587.8,803.2 588.2,801.8 590.8,800.2 590.8,799.2 585.2,798.2 584.2,797.2 584.2,795.8 577.2,794.8 576.2,792.8 578.2,791.2 578.2,789.8 576.2,788.8 576.2,786.2 578.2,785.2 579.2,778.8 578.8,774.8 580.2,773.2 581.8,773.2 582.2,770.8 581.8,762.8 581.2,761.8 579.8,761.2 579.8,759.8 581.8,758.8 582.2,753.8 584.2,752.8 584.2,751.2 585.8,749.8 587.2,749.8 587.8,747.8 588.8,746.8 590.8,746.8 591.2,744.8 593.2,743.8 593.2,738.8 596.2,736.8 597.2,731.8 596.8,726.8 597.8,725.8 599.2,725.8 599.8,724.8 599.8,717.2 597.2,716.2 597.2,708.2 596.8,707.8 591.8,708.2 590.8,707.2 590.8,702.2 591.2,701.8 590.8,693.2 589.2,692.8 588.2,691.2 590.2,689.8 590.2,688.2 591.2,686.8 593.8,686.8 596.2,685.8 597.2,682.8 596.8,675.2 597.8,674.2 602.8,674.2 602.8,673.2 603.8,672.2 605.2,672.2 606.2,671.2 606.2,669.8 608.8,668.2 608.8,659.8 609.2,659.2 608.8,654.8 605.8,653.2 605.2,648.8 602.8,647.2 602.8,639.8 603.2,636.8 605.8,635.8 605.8,633.8 606.8,632.2 608.2,632.2 608.8,627.8 610.2,626.2 612.2,625.8 611.2,624.2 609.2,623.2 609.2,621.8 611.2,620.8 611.8,619.8 612.2,608.8 612.8,608.2 612.2,602.8 614.2,602.2 614.8,600.8 614.8,597.2 612.8,596.2 612.2,593.8 612.2,588.2 614.8,587.2 614.8,583.2 612.8,581.2 612.8,579.8 609.2,575.8 609.2,573.8 608.2,572.8 606.8,572.8 605.8,570.2 602.8,569.8 600.2,567.2 597.8,566.8 596.8,564.8 594.2,563.2 594.2,561.2 591.2,559.8 590.2,555.8 585.8,554.8 585.2,552.8 583.2,551.8 581.8,549.2 576.2,548.8 575.8,546.8 572.8,545.2 572.8,543.8 567.2,542.8 566.2,540.8 564.2,540.8 563.2,542.2 562.2,542.2 560.8,539.8 558.8,539.8 557.8,537.8 556.2,537.8 553.2,536.2 551.8,534.2 550.2,534.2 548.8,533.2 548.8,530.8 546.8,529.8 545.8,527.8 545.8,525.8 542.8,524.2 542.2,519.2 540.8,516.8 537.8,514.2 537.2,510.8 536.2,509.2 536.2,504.8 534.8,503.2 534.8,502.2 536.8,500.2 536.8,498.8 534.2,497.2 534.8,493.2 533.8,486.8 528.8,486.2 527.8,485.2 528.2,480.2 529.8,479.2 531.2,476.2 533.8,475.8 533.8,471.8 534.8,470.8 536.8,470.8 537.2,469.2 539.8,467.8 540.8,465.2 543.2,464.8 543.8,462.8 545.8,462.2 546.2,459.2 549.2,458.2 550.2,453.2 554.2,452.2 554.2,450.8 557.2,447.2 558.2,441.8 560.8,440.2 561.2,435.8 563.8,434.8 565.2,432.8 566.8,432.2 567.8,429.8 569.2,429.2 572.2,425.8 573.2,421.2 575.2,419.8 575.8,414.8 576.8,413.8 581.2,413.2 581.8,411.8 584.2,410.2 584.2,408.2 582.2,407.8 581.2,405.8 570.8,404.8 569.8,402.8 561.8,402.2 560.2,404.8 558.8,404.8 557.2,402.2 555.2,401.8 554.8,399.2ZM561.2,781.2 563.8,779.8 564.2,777.2 569.2,777.8 569.8,779.8 569.2,782.8 564.2,783.2 562.2,782.8ZM569.2,747.2 570.2,748.2 570.2,751.8 569.2,752.8 564.8,753.2 563.8,752.2 563.8,750.2 564.8,749.2 566.8,749.2 567.8,747.2ZM573.8,743.8 575.2,743.8 576.2,744.8 576.8,749.2 575.8,750.2 573.2,750.2 572.2,748.8 572.8,745.2ZM590.8,661.8 591.8,660.2 593.2,660.2 594.2,661.2 593.2,663.2 591.8,663.2ZM559.8,411.2 561.2,412.2 561.2,413.2 563.8,414.2 563.8,415.8 562.8,416.8 560.8,416.8 558.8,413.8 558.8,412.2ZM423.8,364.8 425.2,369.8 429.2,370.8 428.8,371.8 426.2,372.2 426.8,373.8 428.8,374.2 431.2,376.2 433.2,375.2 438.2,380.8 440.2,381.2 440.8,382.8 442.8,384.2 443.8,383.8 444.8,381.2 448.2,381.2 449.2,382.8 447.8,383.8 447.8,386.2 448.8,386.8 454.8,386.8 456.8,388.8 460.2,389.2 463.2,390.8 464.2,390.8 465.8,389.2 470.2,389.8 471.8,392.2 474.8,393.8 478.8,393.2 479.8,390.2 482.8,389.2 482.8,387.2 480.2,386.2 480.2,384.2 481.8,382.8 481.8,381.8 480.2,380.8 479.2,377.8 477.2,378.2 474.8,377.8 473.8,376.8 471.8,377.2 470.8,376.2 463.8,376.8 463.8,377.8 465.2,378.8 464.8,379.8 465.2,383.2 464.2,384.2 457.2,384.2 455.2,382.8 455.2,381.8 450.2,380.8 451.2,371.8 446.8,366.8 444.8,367.2 441.2,364.8 438.2,363.8 435.2,364.8 433.8,363.2 431.2,362.8 429.8,363.2 427.8,361.8ZM556.8,351.2 556.8,353.2 558.2,354.8 558.2,357.2 560.2,359.2 566.2,358.2 567.8,358.8 568.8,357.8 572.8,358.2 574.2,357.2 575.2,354.2 574.2,353.8 574.2,352.2 575.2,350.8 574.2,350.2 572.2,350.2 571.2,351.8 569.8,351.8 569.2,350.8 566.2,350.2 563.2,350.8 561.2,349.8 558.2,349.8ZM328.2,328.8 330.2,330.2 331.2,332.2 333.2,332.2 335.2,329.8 333.2,331.2ZM319.8,321.2 323.8,325.2 323.2,324.2 323.8,323.8 321.8,320.8ZM334.8,312.2 334.2,313.2 337.2,316.2 336.2,312.8ZM322.8,310.2 321.2,312.2 321.2,313.8 324.2,315.2 324.2,317.8 323.2,318.8 324.2,319.2 327.2,318.8ZM317.2,303.2 316.8,305.2 319.2,306.8 319.8,306.2ZM303.8,288.8 303.2,290.2 301.2,290.8 300.8,292.2 299.2,291.8 298.2,292.8 299.2,294.8 302.2,296.8 302.8,296.2 302.2,292.8 303.8,291.8ZM312.2,288.8 313.8,291.8 315.8,293.2 316.2,291.2 314.2,287.8ZM317.2,285.2 316.2,287.2 316.2,289.2 319.2,291.8 319.2,292.8 322.8,292.8 324.2,288.8 323.8,287.8 319.2,287.2ZM304.8,277.8 305.8,280.8 309.8,281.2 309.8,279.8 307.8,278.2 307.2,276.8 305.8,276.8ZM271.8,260.8 277.2,263.8 276.2,262.8 276.8,260.2 275.2,259.8 274.8,258.8 273.8,258.8ZM263.2,255.2 265.8,259.8 268.8,260.2 267.8,257.2ZM433.8,249.8 432.8,250.2 431.2,249.2 429.2,251.2 429.2,252.2 431.8,252.8ZM514.2,234.2 512.2,234.8 508.2,238.8 506.8,241.2 503.8,241.8 501.2,244.8 500.2,243.8 501.2,244.8 500.2,245.8 498.2,245.2 498.2,246.8 497.2,247.8 495.8,247.2 494.8,248.2 494.8,249.8 492.8,250.8 491.2,253.2 488.2,254.2 489.8,256.8 489.8,257.8 488.2,259.2 489.2,259.2 492.8,255.8 495.8,257.2 496.8,255.8 500.2,254.2 501.2,252.2 504.2,249.2 506.8,243.8 509.8,241.8 510.8,238.8 511.8,239.2 511.2,237.2 512.8,236.8 513.8,235.2 514.8,235.8ZM415.2,224.2 415.8,225.8 417.8,225.2 418.8,226.8 419.8,226.2 419.8,224.8 417.8,222.8ZM243.2,219.8 243.2,224.8 246.2,231.2 246.8,230.8 247.8,231.2 246.8,232.8 248.2,236.2 255.8,243.8 257.2,248.2 262.2,253.2 261.8,251.2 260.2,250.2 260.2,248.2 258.8,245.8 255.8,243.8 256.8,242.8 255.8,238.2 253.2,235.8 251.2,235.2 249.8,233.2 250.2,232.2 249.8,231.2 246.2,228.8 244.8,225.8 244.2,220.2ZM536.2,212.8 534.2,213.2 532.2,211.8 528.2,211.2 526.8,212.8 522.8,211.2 520.8,211.8 519.8,213.2 517.8,212.8 516.2,213.8 516.8,215.8 515.8,216.8 516.2,219.2 515.8,220.8 518.8,223.2 519.8,225.2 521.8,225.8 517.2,228.8 517.8,231.2 516.2,232.2 515.8,231.8 516.2,233.8 518.2,234.2 519.8,232.8 519.2,229.2 519.8,227.8 521.8,228.8 524.8,226.8 524.8,225.2 523.8,224.8 523.8,223.8 525.8,223.2 526.8,220.8 528.8,220.8 528.8,219.8 530.2,218.8 531.8,219.2 532.8,218.2 534.8,218.8 536.8,218.2 537.8,216.8 536.2,215.8 536.8,214.2ZM552.2,201.8 549.8,202.8 548.8,201.2 545.8,201.2 538.8,207.2 537.8,208.8 537.8,210.2 538.8,209.8 539.8,210.8 538.2,212.2 539.2,213.8 539.2,215.2 540.8,215.2 542.2,216.8 543.8,215.8 545.2,216.8 547.2,215.2 547.2,212.8 553.8,206.2 553.8,204.8ZM540.8,212.2 541.8,214.2 540.2,215.2 539.2,213.8ZM245.2,192.2 243.8,201.8 244.8,201.8 246.8,199.8 246.8,196.8 244.8,195.8 245.8,194.2ZM463.8,186.2 459.8,185.8 458.2,187.2 455.8,186.8 452.8,189.2 449.2,189.2 447.8,187.8 446.2,188.8 448.2,189.8 447.8,190.8 449.2,191.2 454.2,195.8 461.2,192.2 462.8,193.8 463.2,189.2 464.2,188.8ZM487.2,180.2 487.8,182.8 491.2,184.2 492.8,185.8 494.8,184.2 495.8,185.8 497.2,185.2 501.8,186.8 502.2,184.2 501.8,183.8 501.2,184.8 499.8,184.8 497.2,180.8 497.8,179.8 497.2,178.8 495.8,178.8 494.2,177.8ZM597.2,178.8 595.2,177.2 592.8,177.2 589.2,179.2 588.2,179.2 586.8,177.8 584.2,177.8 583.8,182.8 586.8,185.2 587.2,186.8 587.8,186.2 590.2,186.8 593.2,183.8 596.8,183.2ZM435.2,170.2 435.8,173.2 437.8,174.8 436.8,176.8 439.2,177.8 438.8,178.8 440.2,178.8 441.8,180.2 443.8,178.8 446.2,180.8 446.8,179.2 446.2,177.8 448.2,176.8 448.8,177.2 449.2,175.2 450.2,176.2 451.8,176.2 454.8,174.2 457.2,175.2 460.2,173.8 460.2,172.8 458.2,172.8 453.8,169.2 452.2,169.8 451.2,168.8 449.8,169.8 448.2,169.8 447.2,168.2 442.8,167.8 440.8,169.2 438.8,168.8 437.8,170.2 436.2,169.8ZM188.8,139.8 188.8,141.8 189.8,143.2 190.2,139.8ZM536.8,181.8 539.8,183.2 541.2,185.2 543.2,184.8 544.8,185.2 544.8,187.2 543.8,187.8 543.8,188.8 545.2,190.2 548.2,185.8 549.8,185.8 551.2,183.8 555.2,183.8 557.2,181.8 558.2,182.8 558.2,184.2 556.8,184.8 555.2,186.8 557.8,188.2 556.8,189.8 558.2,190.8 558.2,193.2 563.8,193.8 565.2,195.2 566.2,197.8 568.2,197.8 569.2,196.8 571.8,197.2 578.8,191.2 578.2,189.8 578.8,185.2 577.2,183.2 577.2,180.2 575.8,179.2 576.2,177.8 577.8,176.2 579.2,176.2 580.8,175.2 582.2,173.2 584.8,173.8 589.8,169.8 596.8,166.2 601.8,166.2 602.2,165.2 606.2,165.8 606.8,166.8 608.2,165.2 615.2,165.8 616.2,165.2 616.8,162.2 617.8,162.8 618.8,164.8 620.2,164.8 621.2,165.8 623.2,165.2 625.2,165.8 625.8,164.8 627.8,165.8 629.2,164.8 631.8,165.2 635.2,164.2 638.8,164.2 639.8,162.8 641.2,163.8 644.2,161.8 647.2,162.2 652.8,160.2 654.2,162.2 653.2,163.2 651.2,162.2 646.2,170.2 644.2,172.2 644.8,172.8 646.2,172.8 647.2,171.8 647.8,172.2 647.2,175.2 648.2,176.8 653.8,176.8 655.2,177.8 655.8,176.8 657.2,176.2 656.8,174.8 658.2,173.8 660.2,175.8 660.2,177.8 663.8,178.2 667.2,177.8 666.2,176.2 668.2,174.8 667.2,173.8 667.8,170.8 666.2,168.2 661.2,166.8 659.2,165.2 661.2,163.2 658.2,160.2 658.2,159.2 659.8,158.8 659.8,157.8 661.2,156.8 660.8,156.2 661.2,151.2 659.2,144.8 649.8,143.8 646.8,142.8 650.8,140.2 651.2,138.8 648.8,138.8 647.2,140.8 645.8,138.8 644.8,139.8 638.2,140.2 636.2,141.2 635.2,142.8 634.2,142.8 631.2,138.8 629.2,139.2 628.2,137.8 623.8,138.8 622.8,139.8 619.8,139.8 618.2,140.8 617.2,138.8 614.2,138.2 613.2,137.2 613.2,135.2 614.2,134.2 612.2,132.8 613.2,130.8 610.2,125.8 606.8,121.8 605.8,122.2 605.2,123.8 606.2,124.8 605.8,125.8 600.8,124.8 599.2,126.2 598.2,126.2 597.2,127.8 595.8,128.2 594.8,129.8 593.8,129.2 591.2,129.8 590.2,127.8 589.2,129.2 584.8,129.2 582.2,126.8 581.8,128.8 579.2,127.8 573.8,128.8 572.2,130.2 570.8,129.8 568.8,130.2 568.2,129.2 569.8,128.2 569.8,126.8 568.2,125.8 568.2,124.8 569.2,123.2 567.8,122.2 567.8,120.8 565.2,119.8 561.8,123.8 558.8,123.8 559.2,124.8 558.8,125.8 557.8,124.8 556.8,125.2 558.2,127.8 558.2,130.2 557.2,131.2 558.2,132.2 558.2,134.2 559.2,135.8 558.8,136.2 556.2,135.8 557.2,136.8 557.2,141.8 558.2,143.2 556.2,145.8 553.8,144.8 554.8,146.2 556.8,147.2 555.8,149.8 557.8,151.2 557.8,152.2 555.8,153.8 556.8,155.2 555.2,156.2 554.2,158.2 555.2,161.2 554.2,163.2 555.8,163.2 556.8,164.2 555.8,165.8 554.2,165.8 555.8,166.8 554.2,168.8 554.8,170.2 552.8,172.2 551.2,172.8 547.2,172.8 545.2,170.8 543.8,172.2 540.8,172.2 539.8,171.2 540.8,170.8 540.2,170.2 537.2,174.2 536.8,175.8 537.2,178.2 536.2,179.2ZM569.2,192.8 570.2,193.2 569.8,195.2 568.2,194.8ZM567.8,168.2 568.2,170.2 565.8,171.2 565.2,169.8ZM654.8,158.2 655.8,160.2 653.8,160.8 653.2,159.8ZM641.2,157.8 642.2,159.8 640.8,160.8 640.2,158.8ZM648.2,150.2 649.8,149.8 651.2,152.8 648.8,153.2ZM638.8,141.8 639.2,143.2 638.2,144.2 636.2,143.2ZM580.8,135.2 581.8,133.2 585.8,133.8 585.2,134.8 584.2,134.8 583.2,136.8 582.2,136.8ZM333.2,99.8 334.2,102.2 333.8,104.8 334.8,103.8 335.8,104.2 334.8,105.8 337.2,108.8 333.8,110.2 336.8,111.2 338.2,109.2 339.8,109.2 341.2,107.2 342.2,109.2 340.8,110.2 339.8,112.2 339.8,114.2 345.8,117.2 347.2,116.8 348.2,117.8 351.8,118.2 353.2,115.8 355.8,117.8 355.8,118.8 358.8,117.8 360.8,118.2 362.2,116.2 365.8,113.8 365.8,110.2 364.8,109.2 365.8,103.8 363.2,104.2 360.8,103.2 359.2,100.8 357.2,101.2 355.8,98.8 356.2,96.8 353.2,98.8 350.2,96.2 350.8,95.8 347.2,96.8 342.2,95.2 340.2,96.2 337.2,95.8ZM350.2,113.2 351.2,111.8 352.8,112.2 352.2,114.2ZM345.8,106.2 347.8,109.2 344.2,111.2 343.8,108.2ZM354.8,104.8 355.8,106.2 354.2,107.8 353.8,105.8ZM292.2,65.2 293.2,68.8 291.8,71.8 293.8,70.8 295.2,72.8 296.8,72.8 296.8,70.8 297.8,70.2 298.8,71.2 298.2,72.8 299.2,74.2 300.8,74.2 301.8,75.2 305.2,74.8 305.8,76.2 304.8,77.2 307.2,78.8 307.2,80.2 310.2,81.8 312.8,81.2 313.8,82.2 315.8,82.2 317.8,84.2 316.8,85.8 317.2,87.8 318.2,86.8 323.8,85.8 325.8,83.8 329.2,84.8 330.8,86.2 334.2,86.8 337.8,83.2 338.8,83.2 339.2,81.2 340.8,80.8 339.2,77.2 340.8,76.8 341.2,75.2 339.8,74.2 337.2,74.8 335.8,73.2 335.8,71.2 333.2,71.2 331.8,69.8 332.2,68.8 330.2,69.8 329.8,70.8 327.2,70.2 327.8,68.8 329.2,68.8 330.8,67.2 330.8,66.2 326.8,64.2 326.8,63.2 328.8,62.2 328.2,61.8 324.2,63.2 323.2,61.8 321.2,60.8 315.8,60.2 314.2,62.8 312.8,61.8 311.8,62.2 312.2,63.2 312.2,65.8 311.2,66.8 311.8,68.2 310.2,68.8 307.8,68.2 305.8,66.8 306.2,64.2 307.8,62.8 307.8,61.8 306.2,60.8 304.8,60.8 303.8,62.8 301.8,62.2 301.8,63.2 299.8,64.8 299.8,67.2 297.2,69.2 296.8,70.8 295.8,70.2 295.2,68.2 295.8,67.2 294.8,67.2 293.2,65.2ZM326.8,74.8 327.2,73.2 328.8,73.2 330.2,74.2 329.2,75.2ZM317.2,69.8 318.8,69.2 319.2,70.8 318.2,71.8ZM313.8,69.8 314.2,69.2 317.2,69.8 316.8,70.2ZM319.2,62.8 319.8,61.2 322.2,61.8 320.8,63.8ZM243.2,63.8 245.2,63.2 248.8,64.8 249.8,67.2 251.2,64.8 253.8,66.8 251.8,68.2 253.2,68.8 255.2,65.8 258.8,64.2 259.8,65.2 260.2,68.8 261.2,67.2 262.8,66.8 264.2,67.2 264.8,68.8 263.2,69.8 264.8,71.2 265.2,69.2 266.8,68.8 267.8,69.8 267.8,68.2 269.2,66.8 272.2,66.8 272.8,68.2 273.8,68.8 275.2,65.8 276.8,66.2 278.2,64.2 279.8,65.8 281.8,62.8 282.8,62.2 284.8,63.2 287.2,60.8 283.2,59.2 284.2,58.2 283.2,56.2 279.8,55.2 278.2,56.8 277.2,54.2 275.2,52.8 274.2,53.8 264.8,53.2 265.2,54.8 264.8,55.2 263.2,54.8 263.8,55.8 263.2,58.2 260.8,56.8 260.2,54.8 259.2,54.2 255.2,54.8 254.2,52.8 253.8,53.8 255.2,54.8 254.8,55.2 252.2,55.2 251.2,53.8 249.8,54.8 248.2,54.8 246.8,56.8 245.2,55.8 244.8,56.8 246.2,58.2 246.2,59.8 244.8,60.2 243.8,58.8 243.2,61.2 245.8,62.8 245.2,63.2 243.8,62.8ZM251.8,61.8 252.2,59.8 254.8,60.8 253.2,62.2ZM251.2,57.8 252.2,56.8 253.8,56.8 254.8,57.8 253.8,58.8 252.2,58.8ZM565.2,45.8 565.8,47.2 567.8,48.8 566.8,50.2 566.2,53.2 566.8,53.8 569.2,53.2 570.2,55.2 572.2,54.2 579.2,57.8 581.8,60.2 583.2,64.8 580.2,67.8 578.2,67.8 575.8,69.2 572.8,69.2 570.2,70.2 569.8,69.8 570.8,74.8 569.8,75.8 570.2,76.8 569.8,84.8 568.2,86.2 569.2,86.8 572.2,86.2 574.2,87.2 576.2,85.8 578.2,85.8 580.2,84.8 582.2,85.2 583.2,86.8 585.8,86.8 586.8,88.2 589.8,89.8 591.8,89.8 593.2,92.8 594.8,93.8 596.8,92.8 598.8,93.2 598.8,92.2 600.8,90.2 602.2,90.2 603.8,88.2 604.8,88.8 606.2,86.8 606.2,84.8 604.8,83.8 605.2,80.8 603.8,77.2 592.8,73.8 591.8,72.2 592.8,71.2 601.2,71.2 602.2,70.2 604.2,70.2 604.8,71.2 606.8,72.2 607.8,71.8 609.2,72.2 611.8,74.8 615.2,74.2 619.2,70.2 619.8,68.8 621.8,69.2 622.2,66.8 623.8,65.2 620.8,64.2 619.2,62.8 617.2,63.2 613.2,59.2 603.2,57.2 588.2,50.8 587.8,49.8 590.8,47.2 589.8,47.2 585.8,44.2 583.8,45.2 581.2,44.8 578.2,45.2 577.2,43.8 576.2,43.8 575.2,44.8 571.8,44.2 570.2,45.2 569.8,42.8 569.2,42.8 569.2,44.2 567.8,45.8ZM583.8,48.8 585.8,47.8 586.8,49.2 584.8,50.2ZM702.8,83.8 703.8,83.8 704.8,85.2 704.8,86.8 706.8,87.8 707.2,89.2 709.8,90.8 711.2,93.2 713.2,93.2 714.2,95.2 719.2,96.2 720.2,98.2 725.8,99.2 726.8,101.8 731.2,101.8 732.2,99.2 737.8,98.2 738.2,93.8 740.8,92.2 741.8,87.2 742.8,86.8 744.2,81.8 745.2,80.8 746.8,80.8 747.8,78.2 749.8,78.2 751.2,77.2 750.2,75.8 752.8,74.8 754.2,72.8 757.8,71.2 761.2,71.8 763.2,69.2 775.8,68.2 777.8,66.2 782.2,66.2 786.8,63.2 791.8,62.8 793.2,60.8 797.8,59.8 801.2,57.2 804.2,57.2 807.2,56.2 818.8,56.2 819.8,54.2 821.8,53.8 822.8,39.8 820.8,37.8 819.2,37.2 768.2,37.2 766.8,38.8 765.2,38.2 764.8,37.2 759.2,37.2 757.8,38.2 756.2,37.2 744.2,37.2 743.8,38.2 738.2,38.2 737.8,38.8 735.8,38.8 733.8,37.2 726.2,37.2 725.2,38.2 723.8,38.2 722.8,37.2 716.8,37.2 716.2,38.2 713.8,38.8 708.2,38.8 703.2,37.2 702.2,38.8 701.8,41.8 699.2,43.2 699.2,47.8 701.8,48.8 701.8,50.2 699.8,51.2 699.2,56.2 700.2,64.8 701.8,66.2 702.2,69.2ZM79.2,37.2 79.2,41.8 80.2,41.8 81.8,40.2 84.8,40.2 85.8,41.2 84.2,42.8 84.8,44.2 82.8,45.2 82.8,46.8 83.8,48.2 85.2,48.8 84.8,49.2 82.8,49.2 81.8,50.2 79.8,47.8 80.8,45.2 79.2,43.8 79.2,52.2 81.2,53.2 80.2,54.8 79.2,54.2 79.2,55.2 81.8,56.2 83.2,55.2 84.2,56.2 84.2,57.8 85.2,57.8 88.2,55.2 88.8,52.8 90.8,52.8 91.2,53.2 90.2,54.8 90.8,57.8 91.8,55.8 93.8,55.8 94.2,56.2 93.8,57.8 95.8,57.2 97.2,58.2 96.2,56.2 96.8,54.2 99.2,52.8 101.2,52.8 102.8,53.8 102.2,56.2 102.8,58.2 103.8,56.2 107.8,56.8 108.2,58.8 107.2,60.8 110.8,58.2 111.8,61.8 112.8,60.8 112.2,58.8 113.2,57.8 112.8,57.2 113.2,55.2 115.8,56.2 115.8,58.2 114.8,59.2 116.2,60.8 118.2,60.8 116.8,59.2 116.8,56.8 117.8,56.2 121.2,58.2 123.2,58.2 126.2,61.2 128.2,61.2 129.8,59.8 131.2,62.8 137.2,62.2 138.2,63.2 141.8,59.8 142.8,61.2 146.2,61.8 147.8,60.8 149.2,61.2 150.8,58.2 152.2,61.8 153.8,61.2 154.8,62.8 156.8,62.8 159.2,60.2 163.2,60.8 164.2,59.8 165.8,61.2 165.8,62.2 166.8,61.2 166.2,59.2 167.2,58.8 169.8,60.8 170.2,62.2 171.8,62.8 172.8,64.8 171.2,66.2 171.2,67.2 173.2,67.2 174.8,69.2 176.2,69.2 176.8,70.2 176.2,70.8 174.8,70.2 173.2,71.2 172.8,69.8 171.2,68.8 167.2,71.2 163.8,71.2 161.2,73.8 160.2,72.8 161.2,71.2 156.2,70.2 155.8,70.8 156.2,73.2 153.2,74.8 153.2,75.8 154.8,75.2 156.2,76.8 154.2,79.2 153.2,79.2 152.2,77.8 150.2,77.8 146.2,75.8 147.2,77.2 146.2,78.2 144.8,77.8 143.2,80.2 141.8,77.2 137.8,76.8 137.2,75.8 134.2,75.8 133.8,77.2 132.2,78.2 129.8,76.2 128.2,76.2 127.8,77.2 126.8,77.2 124.8,75.2 123.2,75.8 123.8,76.8 122.2,79.2 117.8,76.8 111.8,77.2 110.8,75.2 108.8,73.8 107.2,73.8 106.8,75.8 105.8,76.2 104.2,73.8 101.2,72.8 100.8,74.8 101.8,76.8 100.8,77.8 99.8,77.2 97.2,78.8 94.8,78.2 93.2,79.2 89.2,79.8 88.2,78.2 86.8,78.2 86.2,77.2 84.2,76.8 84.8,73.8 83.8,74.8 82.8,74.2 84.2,71.8 86.2,72.8 86.8,72.2 86.8,70.8 84.2,66.8 85.8,65.2 86.8,61.8 84.8,62.2 84.2,60.8 79.8,56.8 79.2,57.2 79.2,71.8 78.8,72.2 78.8,108.2 88.8,108.2 90.2,105.2 92.8,104.2 94.2,104.8 99.8,100.8 101.2,100.8 103.8,102.2 103.2,103.2 99.8,104.8 100.2,107.8 102.2,107.8 106.8,105.8 106.8,103.8 105.8,102.2 107.8,101.2 110.2,102.8 120.2,105.2 121.2,104.8 121.2,103.8 119.8,102.2 122.8,101.8 123.2,103.2 124.8,103.8 122.8,105.8 137.2,107.8 145.8,107.8 146.2,106.8 147.2,108.2 148.2,108.2 150.8,106.2 151.2,109.2 152.2,109.8 160.8,110.2 165.2,113.2 164.8,108.8 166.2,108.2 168.2,110.2 167.8,113.8 169.8,115.8 171.8,120.8 178.2,128.2 181.2,128.8 184.8,134.8 189.8,136.8 191.2,136.2 191.8,137.8 198.2,139.8 193.2,140.2 191.8,141.8 192.2,143.8 190.8,144.8 191.8,145.8 192.2,145.2 193.8,145.8 193.2,148.2 194.2,149.8 201.8,154.8 203.8,154.8 203.8,152.2 202.2,150.8 202.8,149.8 201.8,147.2 200.8,146.8 201.2,144.2 200.8,142.2 199.8,141.8 200.2,141.2 199.8,136.8 200.8,136.2 203.8,137.8 205.2,136.8 205.8,138.2 208.8,140.8 212.8,146.2 215.8,153.2 218.2,153.2 223.2,157.2 224.2,159.8 225.8,160.8 224.2,161.2 220.8,159.8 218.8,159.8 218.8,161.8 220.8,164.8 243.2,176.8 243.8,185.2 245.8,188.8 245.8,190.8 246.2,185.2 244.8,184.8 244.2,183.2 245.2,182.2 245.2,179.2 245.8,178.8 246.8,179.8 246.8,177.8 244.2,175.2 244.2,174.2 242.2,173.8 240.8,171.8 239.8,172.8 238.2,171.8 238.8,170.2 236.2,168.8 237.2,166.8 236.8,166.2 235.2,168.2 231.8,169.2 230.8,167.8 230.8,165.8 232.2,164.2 231.2,163.8 233.2,162.2 234.8,162.2 236.8,165.2 243.2,167.2 248.8,170.2 252.8,173.8 252.2,174.8 244.2,170.8 243.8,172.2 244.8,173.2 248.2,173.8 250.2,176.2 249.8,177.8 252.8,177.2 253.8,178.8 254.8,178.2 256.2,179.8 255.2,182.8 255.8,183.2 255.8,189.2 256.8,192.8 255.2,195.2 255.8,197.8 254.8,198.8 256.2,200.2 256.2,202.2 255.2,202.8 254.8,201.8 253.8,201.8 253.8,203.8 251.8,206.2 251.8,207.8 254.8,209.2 252.2,210.2 252.8,211.8 253.8,211.2 254.8,212.2 254.8,214.2 253.8,216.2 251.8,217.8 252.2,219.8 251.8,222.8 252.8,224.8 252.2,225.2 253.8,225.2 255.8,223.2 257.2,223.2 258.8,224.8 258.8,226.2 261.2,228.8 261.8,230.8 269.8,239.8 270.8,242.8 275.8,246.8 275.2,247.8 276.8,248.2 277.8,250.2 279.8,251.2 280.2,252.2 279.8,254.2 277.8,256.2 279.8,257.2 280.8,260.8 280.2,263.2 278.2,264.2 285.2,270.8 286.2,266.8 284.8,264.2 283.2,265.8 281.2,264.8 282.8,263.2 281.8,262.2 281.8,260.8 283.8,259.2 285.2,259.8 288.2,259.2 289.2,257.8 289.8,254.8 292.2,257.2 293.2,257.2 295.2,259.8 298.2,259.8 300.8,258.2 301.2,260.8 297.8,261.2 299.2,263.2 300.2,262.2 301.8,262.8 303.2,262.2 304.2,260.2 305.8,259.2 306.2,259.8 311.2,259.8 314.2,261.2 314.8,262.2 313.8,263.2 316.8,266.2 317.2,269.8 315.8,270.8 317.2,272.2 318.2,271.2 320.8,271.8 321.8,272.8 322.8,271.8 324.8,271.8 325.2,272.2 324.2,273.8 324.8,274.8 325.2,274.2 327.2,274.8 326.2,276.2 325.2,275.8 322.2,276.2 321.8,280.2 323.8,284.2 324.8,284.2 326.2,285.8 327.8,285.2 328.8,286.2 328.2,286.8 329.2,288.2 328.8,293.2 327.8,294.2 328.8,296.8 327.2,297.8 327.2,299.2 326.2,300.2 321.8,300.8 326.2,305.2 327.8,305.8 332.2,309.8 331.2,307.8 333.8,305.2 335.2,306.2 335.2,307.2 337.2,308.8 338.2,310.8 340.2,309.8 340.8,310.2 341.2,313.2 342.8,311.8 343.8,313.8 345.2,314.8 345.8,318.8 343.2,320.8 346.2,323.8 347.8,321.8 347.2,320.2 348.2,319.2 349.8,319.8 350.2,321.8 353.2,324.8 354.8,327.8 352.8,328.8 350.2,327.8 356.2,334.2 356.2,332.8 358.2,331.8 359.2,332.8 359.2,335.2 361.2,336.8 361.8,338.8 363.8,340.2 363.8,342.2 364.8,343.8 363.8,344.8 362.8,344.2 362.8,342.8 360.8,342.2 360.2,343.2 360.8,344.8 362.2,344.2 364.2,347.2 363.2,348.2 360.8,348.2 358.2,346.2 358.2,348.8 364.8,354.2 364.2,353.8 364.8,351.8 367.8,351.2 370.2,353.2 368.2,354.8 365.8,354.8 370.8,358.2 389.8,367.2 391.8,365.2 392.8,365.2 393.2,367.8 392.2,368.2 397.8,370.2 397.2,369.2 393.8,368.8 393.2,368.2 394.2,367.2 396.2,366.8 399.8,367.2 401.2,368.8 402.8,367.8 403.2,368.2 402.8,371.8 403.8,371.8 407.2,374.8 410.8,375.2 412.2,373.2 413.2,373.2 415.2,371.2 416.8,370.8 417.8,367.8 419.2,366.2 421.2,367.2 420.8,364.8 419.2,363.8 420.2,361.2 420.2,358.8 419.2,358.2 417.2,354.2 411.8,349.2 411.2,347.2 408.8,344.8 407.2,345.2 401.2,342.2 398.2,338.2 398.2,335.2 397.2,333.2 398.8,331.2 399.2,331.8 400.2,331.2 401.2,329.2 404.2,326.2 400.8,325.8 401.2,323.2 399.8,320.2 398.2,319.2 398.2,316.8 397.2,315.8 398.2,314.2 396.2,313.2 395.8,314.2 396.2,316.2 395.2,316.8 393.8,315.8 394.8,313.8 394.2,308.8 392.8,306.8 391.8,306.8 391.2,307.8 389.8,306.8 390.2,305.8 389.8,300.2 387.8,299.8 387.2,298.8 391.2,296.8 391.2,295.8 389.8,294.2 390.2,292.2 391.8,290.8 393.2,290.8 392.8,289.2 393.2,287.2 395.8,286.2 396.8,287.8 397.2,286.8 396.8,285.8 398.2,284.8 398.2,283.8 396.8,282.8 398.8,281.8 399.8,280.2 399.2,279.2 397.2,278.2 399.2,275.2 398.8,273.2 396.8,271.8 397.2,267.2 398.2,266.8 397.8,263.8 398.8,263.2 399.8,264.2 399.2,263.8 400.8,261.8 400.2,260.2 401.8,259.2 400.8,254.2 401.8,253.2 403.2,253.2 404.8,251.2 402.8,249.8 404.2,247.8 405.8,248.8 403.8,244.8 405.8,241.8 405.8,237.8 407.8,236.2 407.2,234.2 406.2,233.8 406.8,224.8 407.2,224.2 408.2,225.8 410.2,225.8 409.2,224.8 410.2,223.2 412.2,224.2 414.8,221.8 413.8,219.2 415.2,218.2 415.8,216.8 415.2,213.2 416.2,211.8 414.8,210.8 415.8,208.8 411.2,209.8 410.2,207.8 411.8,205.8 418.8,207.8 419.8,207.2 419.8,204.8 420.8,203.8 419.8,201.2 421.2,199.2 421.2,197.2 422.2,195.8 420.8,193.8 418.8,193.8 417.8,192.8 419.8,191.8 422.2,188.8 424.2,188.8 424.8,183.2 422.2,179.2 420.8,180.8 418.8,180.8 417.8,182.2 419.2,183.8 418.2,184.8 415.8,184.8 414.8,186.8 416.2,187.8 415.8,191.2 417.2,193.2 417.2,194.8 415.8,195.8 414.8,197.8 412.8,197.2 413.8,195.2 413.2,192.8 412.2,194.2 411.2,194.2 407.8,190.8 407.8,189.8 405.2,190.8 404.8,188.2 399.2,189.2 399.2,190.2 401.8,192.2 401.8,193.2 400.2,194.8 397.8,193.8 396.8,190.2 397.2,188.2 398.2,187.2 401.2,186.8 399.2,184.2 399.8,179.2 398.2,177.2 398.2,175.2 396.2,174.8 395.8,171.8 397.8,170.2 393.2,166.8 392.8,165.2 393.8,164.8 393.8,163.8 392.2,163.2 392.2,160.8 390.2,157.8 388.8,157.8 387.2,156.2 386.8,154.2 385.2,153.8 384.8,152.2 380.2,152.2 378.8,151.2 377.2,151.2 376.8,147.8 374.2,145.8 372.2,146.8 371.2,143.2 368.8,143.2 365.8,140.8 364.2,142.2 361.8,142.8 357.8,136.8 353.2,137.2 350.8,132.8 349.8,132.8 346.8,135.2 345.2,135.2 343.2,132.8 344.8,131.2 344.2,129.8 341.2,131.2 339.8,131.2 338.2,128.8 334.8,129.2 334.8,131.2 333.2,131.8 332.8,130.8 329.8,129.2 328.2,126.8 328.2,125.2 323.8,124.2 321.2,122.2 321.2,123.8 320.2,124.2 319.2,122.2 317.8,122.2 315.2,120.2 313.8,120.2 312.2,121.8 310.8,121.8 309.2,120.2 308.2,122.2 306.2,119.2 300.8,117.8 299.2,118.8 297.8,118.8 296.2,117.8 294.2,118.8 293.2,120.2 289.8,116.2 291.2,115.2 291.2,114.2 288.8,113.8 285.8,110.8 284.2,111.8 282.2,111.8 281.8,110.2 278.8,107.8 278.8,106.2 277.8,108.2 274.8,108.8 275.8,110.2 275.2,110.8 272.2,110.8 271.8,110.2 272.8,108.2 267.8,105.8 264.2,105.2 263.2,103.8 262.8,104.2 263.8,106.2 261.2,108.2 257.2,107.8 256.2,106.8 256.8,105.8 254.8,104.2 254.2,102.2 252.8,102.2 251.2,99.8 249.8,100.8 249.2,100.2 250.8,96.8 247.8,93.8 247.8,91.8 249.8,90.8 249.8,89.2 248.8,90.2 247.2,89.8 247.8,85.8 246.8,82.8 244.8,81.8 244.8,79.2 244.2,79.8 242.2,77.2 239.2,77.8 235.8,73.8 231.8,71.2 230.8,72.2 227.2,72.2 225.8,73.8 224.8,72.2 221.8,71.8 218.2,72.2 215.8,70.8 213.2,70.8 211.8,71.8 208.2,70.2 204.8,70.2 201.8,68.8 193.8,69.2 192.2,66.8 191.2,67.2 188.8,65.8 185.2,65.2 183.8,64.2 180.2,64.8 179.8,63.8 181.2,62.2 178.2,59.2 174.2,58.2 172.2,56.2 173.8,54.2 174.8,55.2 173.8,53.8 173.8,52.8 174.8,52.2 174.8,50.8 172.8,48.8 166.2,48.2 155.8,46.2 138.2,45.8 137.8,45.2 137.8,38.8 137.2,39.2 135.8,37.2 134.8,37.8 132.2,37.2 129.2,39.2 127.8,39.2 126.2,37.2 123.2,37.8 123.2,38.8 124.2,38.8 124.8,37.2 125.8,37.2 126.2,38.2 123.8,41.8 121.2,39.2 119.2,40.8 114.8,41.2 115.8,42.2 114.8,43.2 113.2,43.2 112.8,42.2 110.2,41.8 110.2,39.2 109.2,37.2 107.8,37.2 105.8,39.2 103.2,37.8 99.2,37.2 91.2,37.2 90.8,37.8 88.2,37.2 86.2,37.8 84.8,39.2 83.8,38.2 84.2,37.2ZM329.2,305.2 330.8,304.2 331.8,305.8 330.2,306.2ZM326.8,301.2 328.2,301.2 329.2,302.2 327.8,304.8 326.2,303.2ZM332.2,283.2 332.8,284.2 330.2,286.8 329.2,285.8 331.2,283.2ZM333.2,279.8 334.2,280.2 333.8,282.2 332.8,281.8ZM331.2,279.8 331.8,282.2 330.2,282.8 329.2,281.2ZM393.8,268.2 394.8,269.2 393.8,271.2 392.8,270.2ZM400.2,238.8 401.8,237.8 403.8,239.8 401.2,240.2ZM391.8,234.8 392.8,233.8 394.2,233.8 395.2,234.8 394.2,235.8 392.8,235.8ZM397.8,233.2 399.2,234.2 399.2,236.8 398.2,237.8 395.8,236.2 395.8,234.8ZM402.2,230.8 402.8,229.2 404.8,229.2 405.8,230.2 404.2,231.8ZM387.8,214.2 389.2,214.8 391.2,217.2 391.2,218.8 389.8,220.2 388.2,219.8 387.8,216.8 386.8,215.8ZM383.2,201.2 383.8,204.8 382.2,205.8 381.8,207.2 380.8,204.8 382.8,203.8 382.2,201.8ZM406.8,199.8 407.8,199.2 408.2,200.2 411.8,200.8 412.2,203.2 408.8,205.8 406.2,203.2ZM397.8,197.8 399.2,198.8 398.2,200.2 397.2,199.2ZM409.2,197.2 409.8,197.8 409.2,199.2 408.2,199.8 407.8,198.8ZM372.2,197.2 374.2,196.8 376.8,198.8 374.2,199.8 372.2,198.8ZM399.2,194.8 399.8,195.8 397.8,197.2 396.8,195.8 397.8,194.8ZM401.8,189.2 403.2,188.8 403.8,190.2 402.8,191.2ZM362.8,188.2 363.8,186.8 367.2,187.2 366.8,189.2 365.8,188.8 363.8,189.2ZM366.8,178.8 367.8,180.2 369.8,178.8 371.8,179.2 371.2,180.2 371.8,183.8 369.8,186.2 367.2,185.8 366.2,184.2 366.8,182.2 364.8,180.8ZM275.2,178.2 276.8,178.2 277.8,179.2 280.2,179.2 282.2,182.2 282.8,184.8 284.2,184.8 285.8,183.8 287.2,185.2 284.2,186.8 286.8,187.8 288.2,189.2 287.8,192.8 282.8,190.2 281.8,191.8 279.8,192.2 278.2,193.8 276.8,192.8 278.2,191.2 277.2,191.2 275.8,193.2 274.8,192.8 274.8,191.8 271.2,188.2 271.2,184.8 272.2,183.8 273.8,184.8 275.8,181.2 275.8,180.2 274.2,179.2ZM266.8,177.8 267.8,177.2 268.8,178.8 267.8,179.8ZM281.2,176.8 281.8,177.2 281.2,179.8 280.2,178.2ZM372.2,165.2 372.8,166.2 370.8,166.8 370.2,168.2 368.8,167.8 368.8,165.8 369.8,164.8ZM375.8,160.2 378.8,162.2 377.8,165.2 376.2,165.2 374.2,163.2ZM226.8,158.2 227.8,158.2 229.8,160.2 230.2,162.8 229.2,163.8 226.8,163.8 225.8,162.8 226.2,162.2 225.8,159.2ZM351.2,153.2 351.8,153.8 350.8,155.8 349.8,156.2 348.8,154.8 349.8,153.2ZM345.2,152.2 345.2,153.8 344.2,154.8 342.2,154.2 341.2,155.8 337.8,157.8 335.8,156.8 336.2,155.2 335.2,152.8 336.8,151.8 338.2,152.2 344.2,151.2ZM350.2,148.2 351.8,150.2 351.2,151.2 349.2,150.8ZM361.8,147.2 363.2,148.2 362.8,148.8 363.2,150.8 362.2,151.8 360.2,149.2ZM354.8,146.8 355.2,148.2 353.2,150.2 352.2,149.2ZM368.8,145.8 370.2,146.2 369.2,146.8 369.2,148.2 370.8,149.2 369.8,150.2 366.2,147.8ZM195.8,143.8 200.8,143.8 201.2,145.2 199.8,146.2 200.8,148.2 200.2,150.8 198.8,152.8 194.8,148.2 194.8,144.8ZM343.2,144.2 344.2,143.2 347.2,145.2 343.8,145.8ZM333.2,141.2 335.2,139.8 335.8,140.8 334.2,143.2 335.8,143.8 336.8,142.8 340.2,144.8 341.2,146.2 340.2,147.2 337.8,147.2 336.8,148.2 335.2,146.2 332.8,146.8 332.2,145.8ZM298.2,136.2 299.2,137.2 298.8,139.8 299.8,141.2 298.8,142.2 296.2,142.8 295.2,141.8 295.8,138.8ZM330.2,130.8 331.2,132.2 331.2,133.8 329.2,135.2 327.8,134.8 327.2,133.8 329.2,132.8 328.2,131.2ZM280.8,130.2 282.2,131.2 281.2,132.8 279.8,131.8ZM301.2,129.2 302.8,128.8 303.2,130.2 302.2,131.2ZM270.8,128.8 271.8,130.2 270.2,132.2 268.8,131.2 269.8,129.2ZM280.2,127.2 280.8,128.2 278.2,130.8 277.2,128.2 278.8,127.2ZM191.8,126.8 192.2,126.2 194.8,128.8 194.2,129.2 192.8,128.8ZM310.8,124.2 311.8,125.2 310.8,126.2 309.2,126.2 308.8,128.2 307.8,128.8 306.8,126.8 309.2,124.2ZM274.2,121.2 275.8,120.8 276.2,122.2 275.2,123.2ZM261.8,115.2 262.8,115.8 262.2,117.2 260.8,116.8ZM169.2,114.2 171.2,113.8 172.2,115.2 170.2,115.8ZM260.2,111.8 258.8,114.2 257.2,114.2 256.2,113.2 258.8,111.2ZM249.8,103.8 250.8,104.2 250.2,106.2 249.2,105.8ZM86.2,104.2 87.2,103.2 88.8,103.8 88.2,105.2 86.8,105.2ZM125.8,101.8 127.8,100.2 130.8,100.8 135.8,105.8 133.8,107.2 132.2,106.2 131.8,104.2 129.8,104.8 127.8,103.2 127.2,103.8ZM117.2,99.2 120.2,101.2 117.8,103.8 116.8,100.2ZM84.8,87.2 85.8,90.8 84.8,91.8 83.8,90.8 83.2,91.2 84.2,94.2 86.2,95.2 85.2,96.8 85.2,98.2 86.2,99.2 85.8,103.2 86.8,105.8 85.8,106.8 83.8,106.2 79.8,106.8 79.2,104.2 80.2,103.2 83.2,105.2 83.8,104.8 83.2,103.8 81.2,102.8 82.2,101.8 82.2,100.2 80.8,100.8 79.8,100.2 81.2,98.8 80.2,96.2 82.2,94.2 82.2,92.8 80.2,91.8 80.2,89.8 81.8,88.8 83.8,88.8ZM140.2,77.2 141.2,78.2 140.2,79.8 139.2,78.8ZM176.2,71.8 177.8,73.8 176.8,75.2 175.2,74.8 175.2,72.8ZM165.8,71.2 166.8,72.8 164.8,73.2 164.2,72.8ZM179.8,66.2 181.2,65.8 182.2,67.2 180.2,67.8ZM84.8,50.8 86.2,51.8 85.2,52.8 83.8,52.2ZM86.8,49.2 87.8,48.8 88.8,50.8 87.2,51.2Z" fill="#ef3b2c"/>
<path d="M571.2,786.8 570.2,787.8 570.8,791.2 572.2,790.8 572.2,788.8ZM550.2,757.2 550.2,758.2 554.8,758.2 554.8,756.8ZM575.2,756.8 565.2,756.2 563.8,757.2 562.2,757.2 560.2,755.8 560.2,753.8 555.2,754.2 555.8,755.8 557.8,756.2 557.8,758.8 555.8,759.2 555.8,760.8 554.8,762.2 549.8,762.8 548.2,769.2 548.8,773.2 551.8,774.8 552.8,782.8 556.8,782.2 558.2,779.2 558.8,774.2 560.2,774.2 561.2,776.2 563.8,776.2 566.8,773.8 568.8,773.8 569.8,772.8 569.8,771.2 570.8,770.2 572.2,770.2 572.2,769.2 573.8,767.8 576.2,767.8 576.2,765.8 575.2,764.2 575.8,761.8ZM558.8,762.2 560.8,762.8 560.8,764.2 559.8,765.2 557.8,764.2ZM579.8,746.8 579.8,749.2 580.2,749.8 581.8,749.2 581.2,746.8ZM598.2,654.2 597.2,654.8 597.8,662.2 596.2,663.8 594.8,663.8 594.8,665.8 596.2,666.2 597.8,668.8 599.2,668.8 599.8,670.8 601.8,671.8 602.8,671.2 602.8,669.8 604.2,668.2 605.2,668.2 605.8,658.2 600.8,657.8 599.2,654.8ZM600.2,663.8 602.2,663.2 602.8,665.2 601.2,666.2 600.2,665.2ZM681.8,624.8 681.2,627.2 681.8,630.2 682.2,630.8 683.8,630.8 685.2,629.8 686.2,630.2 687.2,632.8 687.8,637.8 688.8,637.8 691.8,640.8 692.8,639.2 692.8,636.8 695.8,635.2 695.2,627.8 692.8,626.8 692.2,623.8 690.8,623.8 688.8,626.2 687.2,626.2 686.2,624.8ZM699.8,612.8 699.8,614.8 701.2,614.8 701.8,613.2ZM724.8,579.2 723.8,579.8 723.8,581.2 722.8,582.2 717.8,582.2 717.8,584.2 716.8,585.2 711.8,585.2 711.2,587.8 710.2,588.8 705.2,589.2 705.8,590.2 707.2,590.2 708.2,591.2 708.2,593.2 710.2,593.2 711.8,595.2 711.8,604.8 712.8,604.8 713.8,600.8 714.8,599.8 716.8,600.8 716.8,602.8 717.8,603.8 717.2,608.8 716.2,609.8 714.8,609.8 714.2,610.2 714.8,611.2 719.2,610.8 721.2,608.8 725.2,608.2 726.8,606.2 731.2,605.2 731.2,603.2 729.2,602.2 728.8,597.8 729.8,596.8 731.2,596.8 731.2,594.2 726.2,592.8 727.2,591.2 728.8,590.8 728.8,585.2 727.8,582.8 726.8,582.8 725.2,581.2ZM699.8,576.8 699.2,578.2 700.8,578.8 701.2,576.8ZM733.8,563.2 731.8,564.8 729.8,564.8 729.8,566.8 734.2,565.8ZM717.8,558.8 717.2,566.2 717.8,568.2 719.2,568.8 720.2,564.2 719.2,561.8 719.2,559.2ZM713.2,556.2 708.2,555.8 708.2,557.2 707.2,558.2 705.2,558.2 703.8,559.2 700.2,559.2 699.2,562.8 702.2,564.2 702.2,566.8 703.2,569.2 704.2,569.2 705.8,571.2 705.2,573.2 702.8,573.8 702.2,575.2 710.2,575.8 711.8,573.2 713.8,572.8 714.2,567.2 713.2,562.8 713.8,561.8ZM737.8,546.8 738.8,549.2 740.8,548.8 740.2,546.2ZM734.2,543.8 730.2,543.2 727.2,544.2 726.8,548.2 728.8,548.2 729.2,545.8 734.2,545.2ZM714.2,537.8 714.2,539.8 716.2,539.8 716.8,538.2ZM734.2,534.8 730.8,534.2 729.8,534.8 729.8,539.2 731.2,539.2 731.2,537.8 734.2,536.2ZM591.2,435.8 591.2,440.2 593.8,441.2 594.2,444.2 600.2,443.8 603.2,444.2 603.8,445.8 605.2,445.8 606.8,443.8 608.2,443.8 609.8,441.2 611.8,442.2 611.8,443.8 614.8,443.8 615.8,441.2 620.8,440.8 621.8,443.2 624.2,443.8 635.2,443.8 634.8,438.8 630.8,438.8 629.8,437.8 629.2,435.2 625.2,435.8 624.8,437.8 622.8,439.2 619.8,437.2 614.8,438.2 609.2,437.8 608.2,436.8 608.2,432.8 603.2,432.8 602.8,432.2 594.8,433.2 593.2,435.2ZM569.8,411.8 568.2,411.8 566.2,414.2 565.2,414.2 564.8,416.2 563.2,417.8 561.8,417.8 560.2,420.2 556.2,420.8 556.2,422.2 557.8,423.2 557.8,424.8 556.8,425.8 555.2,425.8 554.8,428.2 552.2,429.8 552.2,431.2 551.2,432.2 549.2,432.2 548.2,434.8 544.2,435.2 542.8,433.8 542.2,425.8 540.8,425.8 539.8,424.2 538.2,423.8 536.2,425.8 534.2,426.2 534.2,431.8 535.2,434.2 536.8,435.2 536.8,437.8 534.8,441.2 533.8,445.8 530.8,447.8 530.8,452.8 529.2,453.8 528.2,456.2 527.8,464.2 526.8,465.2 525.2,465.2 524.8,466.8 521.8,468.8 521.8,470.8 519.8,471.2 519.2,473.8 516.8,474.8 515.8,479.8 513.8,480.8 513.8,482.2 515.8,483.2 515.2,488.2 513.2,489.2 513.8,497.8 515.2,498.8 515.8,500.2 515.8,509.2 518.8,510.8 518.8,512.2 517.8,513.2 516.2,513.2 516.2,517.2 521.2,524.2 523.2,531.8 528.2,541.8 530.2,544.2 535.2,555.8 537.8,558.8 542.8,562.2 548.8,568.2 556.8,571.2 563.2,575.8 569.2,581.8 571.2,588.8 570.2,597.2 570.8,599.8 572.8,600.8 572.8,602.8 572.2,603.2 572.2,608.2 570.8,609.2 570.8,611.8 572.2,612.8 572.2,614.2 570.2,615.8 569.8,637.8 567.2,639.2 566.2,644.2 564.8,644.8 564.2,645.8 564.2,651.2 563.8,651.8 564.2,653.8 564.2,662.8 563.8,663.2 564.2,677.2 561.8,678.8 561.2,683.2 560.2,684.2 557.8,684.8 557.8,686.8 560.2,686.8 560.8,689.2 557.8,689.8 556.2,687.8 556.2,689.2 555.2,690.8 555.2,692.2 558.2,694.2 558.8,696.8 558.2,699.2 556.2,699.8 556.2,700.8 560.2,701.2 561.2,705.2 561.2,707.2 558.8,708.8 558.8,710.8 560.2,711.8 561.2,718.2 560.8,722.8 561.8,724.8 558.8,726.8 558.8,730.8 560.2,731.2 560.8,729.2 563.8,729.2 565.2,730.2 564.2,731.8 564.2,734.8 561.2,736.2 561.8,740.2 564.2,741.2 564.2,743.8 561.8,744.8 562.2,746.8 566.2,745.8 567.2,743.8 569.8,743.8 570.2,745.8 571.8,746.2 572.2,743.8 573.8,741.8 575.8,741.8 577.8,740.8 581.2,740.8 582.8,738.2 584.2,738.2 585.2,740.2 587.8,740.2 589.8,741.2 590.2,738.8 588.2,738.2 587.2,736.2 588.8,734.8 590.8,734.2 591.2,729.8 593.2,729.2 593.8,726.8 596.8,724.8 595.8,719.8 592.2,719.2 591.2,717.8 588.2,717.8 587.2,716.8 587.2,714.8 588.2,713.8 590.8,713.8 591.2,711.8 588.8,711.2 587.8,710.2 587.8,708.2 585.8,706.8 584.2,704.2 584.8,699.8 582.2,698.2 582.8,693.8 584.8,692.2 584.2,689.2 584.8,681.8 582.8,679.2 584.8,677.8 584.8,675.2 586.2,674.2 587.8,674.2 588.2,672.8 590.2,671.8 590.2,669.2 585.2,668.2 585.2,664.2 587.8,662.8 587.8,660.8 588.8,659.8 590.8,659.2 590.8,654.2 589.2,654.2 588.2,653.2 588.2,651.8 591.8,649.8 591.8,647.8 592.8,645.8 596.2,644.2 596.2,643.2 597.8,641.8 599.8,641.2 599.8,639.2 600.8,637.2 604.8,635.2 606.2,628.8 608.8,626.2 608.2,621.8 609.2,617.8 609.2,609.2 611.2,605.2 611.2,603.8 609.2,602.2 609.2,600.2 611.8,596.8 611.2,591.2 612.2,586.8 611.8,580.2 608.8,578.2 608.8,576.2 606.2,575.8 605.2,573.2 601.2,572.2 599.8,570.2 597.2,569.8 596.8,567.8 594.8,567.2 593.2,565.8 593.2,564.2 591.2,563.8 590.8,561.2 588.8,560.8 587.8,559.8 587.8,558.2 585.2,557.8 584.2,555.8 583.2,555.8 581.2,553.8 581.2,552.8 576.8,551.2 575.8,549.2 573.8,549.2 571.8,546.2 570.2,546.2 569.2,545.2 568.8,543.8 561.8,543.2 559.8,541.2 556.2,541.2 554.8,539.8 554.8,537.8 550.8,537.2 548.2,533.8 546.2,533.2 546.2,531.8 545.2,530.8 543.2,530.2 542.8,525.2 540.2,524.2 539.8,519.2 536.8,517.8 536.2,513.8 534.2,512.8 533.2,505.8 534.2,499.8 533.2,497.2 533.8,489.8 531.2,488.8 528.8,488.8 527.8,486.8 525.2,485.2 526.2,481.2 527.8,479.2 528.2,474.2 530.8,473.8 531.2,471.8 533.8,470.2 533.8,468.8 536.2,468.2 537.2,467.2 537.2,465.8 539.2,465.2 540.2,464.2 540.2,462.8 542.8,461.8 542.8,460.2 544.2,458.8 545.8,458.8 545.8,456.8 548.8,455.2 548.8,450.8 549.8,449.8 551.8,449.8 552.2,447.8 554.8,446.8 555.2,443.8 557.2,442.8 558.2,438.2 560.2,437.8 561.2,432.8 563.2,432.2 564.2,431.2 564.2,429.8 566.8,428.8 567.2,426.2 569.2,425.8 569.8,423.2 572.2,421.8 573.2,414.8 572.2,413.2 570.8,413.2ZM570.2,713.2 570.8,711.2 572.8,711.2 574.2,712.2 572.8,713.8ZM564.8,705.8 566.8,706.2 567.2,710.2 566.2,711.2 564.8,711.2 563.2,709.8ZM552.2,402.2 551.2,404.2 549.8,405.2 549.8,407.2 552.2,407.8 551.8,411.8 552.2,419.8 555.2,419.8 555.2,418.2 557.8,416.8 558.2,408.8 557.2,407.8 554.8,407.2 554.8,403.2 554.2,402.2ZM478.8,387.2 474.2,387.2 474.2,389.8 475.2,392.2 476.2,392.2 476.2,390.8 477.8,389.2 479.2,389.2ZM468.8,379.2 468.2,383.2 470.8,383.8 472.2,386.8 473.2,386.2 474.2,384.2 479.2,383.8 479.2,381.8 471.8,380.8ZM430.2,365.8 429.2,366.2 428.8,367.8 427.8,367.8 428.2,368.8 430.2,368.2ZM437.2,364.8 436.2,367.2 434.2,369.2 432.8,369.2 433.8,372.2 436.8,374.2 438.2,377.8 440.8,379.2 441.8,380.8 447.2,380.2 447.2,379.2 449.8,376.2 448.2,372.8 448.8,370.8 445.2,370.2 444.2,368.8 440.2,367.2 439.2,365.8ZM561.2,354.8 564.8,356.2 568.2,353.2 567.8,352.8 566.8,354.2 565.8,354.2 564.2,352.8ZM324.8,279.2 324.2,279.8 324.8,282.8 326.8,284.8 329.2,284.8 328.8,283.2 327.2,283.8 325.8,282.8 325.8,279.8ZM392.8,225.2 391.8,227.2 392.2,228.8 396.2,230.8 396.8,229.8 395.8,228.8 395.8,225.2ZM405.8,216.2 404.2,216.8 404.8,218.8 403.8,219.2 403.8,221.8 405.2,221.2 404.8,219.8 406.8,218.2ZM380.8,188.2 378.2,185.8 376.2,186.8 377.2,188.2 375.2,190.2 377.2,190.8 377.8,188.2 378.8,187.2 379.8,188.8ZM282.8,180.8 285.8,181.2 286.2,180.2 284.2,179.8ZM393.8,177.8 393.2,180.8 395.2,181.2 395.2,180.2 393.8,179.8 394.8,177.8ZM384.2,177.2 384.8,178.2 385.8,176.8 387.2,176.8 388.8,179.2 389.8,179.2 391.2,177.8 387.2,176.2 385.8,176.2 385.2,177.2ZM375.8,173.2 373.2,174.8 374.2,176.2 373.8,177.2 374.2,178.2 375.8,178.2 374.8,175.8 374.8,174.2ZM353.2,172.8 352.2,174.8 352.8,176.2 352.2,178.2 353.8,178.8 354.8,177.2 355.2,177.8 354.8,179.2 356.8,179.8 357.8,177.8 356.8,176.8 356.2,173.2ZM232.8,171.2 240.2,175.2 237.8,172.2 236.2,172.2 235.2,170.8ZM653.8,167.2 652.2,167.8 652.8,172.2 653.8,171.8 654.8,169.2ZM226.2,167.2 226.8,168.2 231.8,170.8 228.8,167.8ZM567.8,162.8 567.2,164.2 568.8,164.8 569.2,162.8ZM218.8,160.8 219.2,162.8 220.2,163.8 221.8,163.2 222.2,165.8 223.2,166.2 222.8,163.2 223.2,161.2 220.8,162.2 219.8,160.8ZM355.8,153.8 357.2,155.2 358.2,155.2 358.2,153.2ZM311.2,145.8 310.8,146.2 312.8,147.8 310.2,149.2 311.2,151.2 312.8,149.8 315.2,149.8 315.8,152.2 316.2,152.2 316.2,150.8 314.8,148.2 312.8,146.2ZM611.2,138.2 609.8,137.8 608.2,138.8 610.8,139.2ZM316.2,138.2 313.8,137.8 311.2,139.8 312.8,143.2 316.2,140.8 316.8,139.2ZM324.8,137.2 325.2,141.2 325.2,139.8 326.2,139.2 326.2,138.2ZM320.2,137.2 319.8,138.2 317.8,138.8 318.2,140.2 319.8,139.2ZM304.8,137.2 304.8,139.2 306.8,140.2 306.8,142.2 307.2,141.8 306.8,140.8 308.2,138.8ZM313.2,131.2 313.2,134.8 314.2,136.8 314.2,135.2 316.2,132.8 314.8,131.2ZM315.8,124.2 314.8,127.8 315.2,128.8 317.8,127.8 316.8,126.8 317.2,126.2 316.8,124.8ZM279.8,116.2 277.8,116.2 273.8,118.2 278.8,117.8ZM271.8,116.2 270.2,116.2 269.2,114.2 267.2,114.8 264.2,117.8 265.2,118.2 266.2,116.8 268.2,116.8 270.8,118.2ZM87.2,83.2 88.2,84.8 86.2,85.8 86.2,87.2 89.2,86.8 90.2,91.2 91.2,92.2 87.8,94.8 88.2,96.2 87.8,99.8 89.2,102.2 94.8,101.8 96.2,100.2 97.8,101.2 97.8,102.2 100.8,100.8 101.2,99.2 102.8,99.2 104.8,97.2 106.2,97.2 106.8,98.2 108.8,97.8 109.2,99.2 110.8,99.8 109.8,101.8 110.8,101.8 112.2,103.2 112.2,98.2 112.8,97.8 114.2,98.8 114.8,101.2 114.2,102.8 115.2,102.8 116.2,101.2 115.2,100.2 115.8,98.8 117.2,98.2 119.8,98.8 120.2,97.8 122.8,97.8 123.2,99.8 125.2,99.2 134.2,100.2 135.8,102.8 137.2,102.8 138.2,103.8 138.2,104.8 139.2,104.8 140.8,103.2 141.8,103.2 142.8,105.2 145.2,104.2 154.8,104.8 156.2,106.2 152.8,107.2 152.8,108.2 155.2,107.8 156.2,106.2 158.8,106.8 159.2,110.2 160.8,110.2 162.8,111.8 162.2,109.8 164.8,107.8 167.2,107.8 168.8,109.8 170.2,109.2 173.2,113.8 171.8,112.2 172.8,111.2 175.8,113.2 174.8,117.2 175.8,118.2 177.2,118.2 177.8,120.2 179.2,120.8 178.2,123.2 173.8,123.2 174.8,124.2 176.8,124.2 179.2,125.8 181.2,123.8 181.8,124.8 183.2,124.2 184.8,125.8 186.2,125.8 187.8,122.8 189.8,121.2 190.8,122.2 191.2,125.8 187.2,127.8 190.2,129.2 190.2,130.2 188.2,131.2 189.8,133.2 191.8,133.2 192.2,132.8 191.8,131.2 192.8,130.2 195.2,133.2 196.8,133.8 196.2,135.2 195.2,135.2 194.2,133.8 194.8,136.2 197.8,136.2 199.2,137.2 200.2,134.2 202.2,134.8 202.8,133.8 203.8,134.8 202.2,137.2 203.2,137.2 204.2,135.8 208.2,136.2 210.2,139.8 210.2,143.2 212.8,143.8 213.8,144.8 213.2,146.8 214.2,147.8 214.2,150.2 221.8,155.8 223.8,158.8 227.8,157.2 229.8,158.2 232.8,161.2 236.2,161.2 237.8,164.8 239.2,164.2 240.2,165.8 242.2,164.8 244.8,168.2 250.2,171.2 252.8,173.8 252.2,174.8 250.2,173.8 251.2,174.8 254.2,175.2 255.2,176.2 255.2,177.8 256.2,177.8 256.2,176.2 257.8,175.8 258.2,176.2 258.2,182.8 257.2,183.8 257.2,186.8 258.2,188.2 260.2,189.2 262.2,188.8 263.2,189.8 257.8,190.8 257.2,195.8 258.2,197.2 257.2,198.8 256.8,202.8 257.8,204.8 254.8,206.2 254.8,207.8 255.8,208.8 255.8,214.8 256.2,215.2 256.2,218.2 255.2,221.2 256.8,220.8 257.8,221.2 257.2,222.8 258.2,222.8 259.8,224.2 263.2,231.2 270.2,237.8 271.2,241.8 274.8,244.2 278.2,249.8 279.8,249.8 280.8,251.8 282.8,252.8 281.2,254.2 283.2,257.8 286.2,258.2 288.2,257.2 287.2,255.8 285.2,256.2 284.2,255.2 284.8,254.2 283.2,253.2 283.8,252.2 291.2,253.2 292.2,254.2 292.2,255.8 293.2,255.8 296.2,258.8 298.2,258.8 298.8,257.8 301.2,257.2 299.8,256.2 300.2,254.2 301.2,253.8 304.2,256.8 303.2,258.8 311.2,258.2 316.2,260.8 317.8,262.8 316.8,264.8 320.2,268.2 320.2,270.8 323.2,270.8 323.2,269.2 324.2,268.2 325.8,268.8 326.2,271.2 326.8,268.8 327.8,267.2 326.8,266.8 326.2,265.2 324.2,264.2 323.8,262.2 324.2,261.2 328.8,264.2 329.2,265.2 328.8,266.8 330.8,265.8 332.8,267.8 334.2,270.8 332.2,272.8 330.8,271.2 330.2,272.2 331.8,273.8 331.8,275.2 333.2,277.2 335.8,278.8 334.8,281.2 336.2,282.2 336.2,283.2 335.2,284.2 333.8,283.2 333.2,285.2 331.8,286.8 331.2,289.8 330.2,290.8 329.8,290.2 328.8,294.8 329.8,296.8 331.8,298.2 332.2,300.2 334.8,300.8 333.8,302.8 335.8,304.2 337.2,307.2 338.2,307.8 341.2,307.2 342.8,309.2 345.8,310.8 344.8,312.8 346.8,314.8 346.8,315.8 348.8,317.8 351.8,319.2 351.2,320.2 352.8,322.2 354.2,322.8 356.8,326.8 358.2,327.8 357.8,330.8 359.2,330.8 360.8,332.2 360.8,334.2 362.2,335.8 363.2,338.2 364.8,338.8 367.8,342.2 368.2,344.2 366.8,345.2 366.8,346.2 369.2,346.2 370.8,347.2 370.2,349.2 371.8,350.2 371.2,352.2 374.8,354.2 379.8,355.8 381.2,357.8 383.2,356.8 386.2,358.8 387.8,358.2 389.2,359.2 389.8,360.8 394.2,360.2 394.8,360.8 392.8,361.8 393.2,362.8 395.2,363.8 397.2,363.2 400.2,366.2 402.8,366.8 405.8,370.2 410.2,372.8 415.8,369.8 418.2,365.2 418.2,361.8 419.2,360.8 416.2,356.2 416.2,354.8 411.2,350.8 411.2,349.8 409.8,348.8 408.2,345.8 407.2,346.2 401.2,343.2 398.2,340.8 395.8,337.2 396.8,328.2 398.8,326.2 398.8,324.8 396.2,321.8 396.2,319.8 392.2,316.2 392.8,314.2 390.8,310.2 389.8,310.2 389.2,308.2 387.2,307.8 386.2,306.2 385.8,303.8 386.2,302.2 385.2,301.2 385.8,297.8 384.8,296.2 386.8,295.2 387.2,293.8 386.8,291.8 387.8,290.2 385.8,288.2 386.8,287.8 387.8,285.2 385.2,283.8 385.2,282.2 386.8,280.8 386.2,280.2 386.8,279.2 388.2,278.8 389.8,276.8 387.8,275.2 387.2,273.2 388.2,272.8 389.2,273.8 390.8,273.8 391.2,271.2 390.8,270.8 389.2,272.2 388.2,271.8 388.2,270.8 389.8,269.8 389.2,268.2 387.2,268.8 386.8,270.2 385.2,269.8 385.8,268.2 387.8,266.8 389.2,266.8 388.2,264.2 386.2,263.2 384.8,264.2 381.2,263.8 379.2,260.8 379.2,258.2 383.2,254.8 386.2,254.2 384.2,251.2 386.2,249.2 383.2,250.8 382.2,249.8 381.8,247.2 380.2,249.2 379.2,248.8 379.8,246.2 381.8,246.2 383.2,245.2 380.8,244.2 378.8,245.2 377.8,243.8 381.8,241.8 381.8,240.2 379.8,239.2 380.8,238.2 382.2,238.2 382.8,239.2 383.8,239.2 383.8,237.2 380.2,236.2 379.2,234.8 380.8,233.2 379.8,231.2 375.8,229.8 375.8,228.8 377.8,227.8 380.2,223.8 378.8,224.2 377.2,223.2 377.2,222.2 378.8,221.2 377.8,219.8 377.8,218.2 376.2,217.2 374.8,217.8 373.8,217.2 374.2,216.2 375.8,216.2 376.2,214.8 374.2,212.8 371.8,212.2 369.8,212.8 368.8,211.8 368.8,210.2 370.2,208.8 371.8,204.8 369.2,205.2 368.2,204.2 370.2,201.8 369.2,201.2 366.8,201.8 365.8,200.2 364.8,200.2 362.2,203.8 359.8,201.8 362.2,200.2 361.8,198.8 363.2,197.8 362.8,192.2 361.8,191.2 359.2,190.8 357.8,188.2 356.2,188.8 354.8,190.8 352.8,190.2 354.2,188.2 355.2,188.2 352.8,187.8 351.8,186.2 353.8,185.8 355.2,184.2 355.2,182.8 352.2,179.8 350.8,181.2 349.8,181.2 348.8,177.2 347.2,177.8 345.2,175.8 342.8,175.2 342.2,170.8 340.2,168.2 338.8,168.2 336.8,169.8 334.8,169.8 334.2,168.2 335.8,167.2 335.2,166.2 332.2,166.8 331.8,166.2 332.8,164.2 332.2,163.8 330.8,164.8 328.2,163.2 328.8,161.2 325.2,160.2 323.2,160.8 323.2,164.2 321.2,166.2 321.2,167.8 320.2,168.8 316.8,168.2 316.2,169.2 315.2,169.2 314.8,168.2 315.8,167.2 314.2,166.2 314.2,164.8 313.2,165.2 312.2,164.8 310.8,162.8 311.2,161.8 310.8,159.2 311.2,158.8 312.8,159.2 314.2,158.2 316.2,158.8 316.8,161.2 317.8,161.8 319.2,160.2 319.2,158.8 320.8,156.8 317.2,157.8 316.8,156.8 317.8,154.8 315.2,154.8 314.2,156.2 313.2,153.8 310.8,154.8 310.2,152.8 308.2,153.2 304.2,149.2 304.2,148.2 299.8,147.8 299.2,143.8 297.8,145.8 296.8,145.2 293.2,145.8 292.2,144.8 292.2,142.8 290.2,143.2 289.2,142.2 289.2,141.2 290.8,140.2 286.8,141.2 285.8,140.2 285.8,138.8 283.8,137.8 282.8,138.2 282.8,139.2 285.8,140.2 281.2,140.8 279.8,139.2 278.8,136.8 276.2,136.8 275.2,135.2 273.8,135.2 272.8,134.2 271.2,135.2 269.2,134.2 267.2,134.2 262.2,128.2 260.2,128.8 259.2,127.2 256.8,127.8 256.2,126.2 257.8,125.2 254.8,123.8 255.8,122.8 255.8,121.2 253.8,119.2 258.2,118.8 258.8,116.2 257.8,117.2 255.2,117.2 253.2,115.2 252.2,115.2 250.2,116.8 249.8,116.2 250.2,113.8 248.2,110.8 246.2,111.2 245.2,110.2 246.2,109.2 247.8,109.8 249.2,109.2 247.2,107.2 247.8,103.2 248.8,101.2 245.8,98.2 246.8,85.8 245.8,85.8 244.8,83.8 242.8,82.8 242.2,81.2 240.8,81.2 239.8,79.8 237.8,80.2 234.8,78.8 233.2,78.8 231.8,76.2 229.2,77.2 228.2,76.8 228.8,76.2 228.2,76.8 226.2,75.8 224.2,76.2 223.8,75.8 224.2,74.2 222.8,74.8 219.8,72.8 220.2,74.2 218.8,74.8 217.2,73.8 215.2,74.2 213.8,72.2 209.8,72.8 208.8,71.8 205.8,71.8 203.2,73.8 202.2,72.2 198.2,72.8 197.8,71.8 195.8,71.2 194.2,73.2 192.8,72.8 189.8,74.8 187.8,74.2 188.2,73.2 189.8,73.2 188.2,72.2 185.2,73.8 184.2,72.8 182.2,72.8 182.8,73.8 182.2,74.8 181.2,75.2 179.2,74.8 177.8,76.2 176.2,75.8 172.2,76.8 171.2,75.8 171.8,73.8 170.8,74.2 168.8,73.8 167.8,75.2 162.8,74.2 164.2,75.8 161.2,77.2 160.2,76.2 157.8,76.2 157.2,77.8 158.8,79.2 156.8,81.2 154.2,80.2 151.8,82.2 154.8,84.2 154.8,85.2 153.2,86.2 154.8,87.2 154.8,88.2 152.8,88.8 151.8,90.2 149.2,90.8 148.2,88.8 149.8,87.8 149.2,86.2 150.8,83.2 149.2,82.2 147.8,82.8 146.8,81.8 146.8,79.8 149.8,78.8 149.2,78.2 147.8,78.2 146.2,79.2 145.8,81.8 142.8,83.8 140.8,82.8 137.2,82.8 135.8,84.2 134.8,86.8 132.2,86.8 130.2,87.8 128.8,85.8 127.8,85.8 127.2,87.2 125.2,88.8 124.2,87.2 125.8,86.2 125.8,84.8 126.8,83.8 128.8,84.2 131.8,83.8 132.8,82.8 133.8,83.8 134.8,83.2 134.8,82.2 135.8,81.8 134.2,78.8 133.2,79.8 131.8,79.2 128.2,80.2 125.8,79.8 125.2,80.8 123.8,81.2 122.2,79.8 120.2,80.2 118.2,78.8 117.2,79.2 116.8,80.8 115.8,80.8 114.8,79.2 111.2,79.8 110.8,78.8 109.2,78.8 106.8,80.2 106.8,82.2 104.8,86.8 102.2,84.2 102.8,83.2 101.2,83.8 98.8,80.2 97.2,80.2 95.8,81.2 92.2,81.2 91.2,82.8 89.2,81.8ZM385.2,303.2 385.8,305.8 384.2,306.2 383.8,304.8ZM367.2,294.8 368.2,293.8 370.2,293.8 371.2,294.8 370.2,295.8 368.2,295.8ZM318.2,261.2 318.8,260.8 320.2,261.2 321.8,260.2 323.2,261.8 322.8,263.2 321.2,264.2ZM312.8,219.2 314.2,221.2 313.8,222.8 312.2,222.2ZM293.8,201.8 297.8,203.2 294.8,206.2 293.8,204.2 292.8,203.8ZM318.2,174.2 320.2,173.8 321.2,174.8 320.2,176.2ZM284.2,173.8 285.8,175.2 285.8,178.2 286.8,177.8 287.8,178.2 288.2,182.2 289.2,181.8 289.8,180.2 291.2,181.8 291.2,182.8 288.8,184.8 288.2,186.8 288.8,187.2 289.8,185.8 291.2,186.8 291.8,191.2 287.8,193.8 286.2,193.2 283.2,193.8 282.8,196.2 281.8,195.8 282.2,194.8 281.8,193.8 279.8,193.8 276.8,196.8 274.2,194.2 273.8,192.8 272.2,195.8 269.8,196.2 268.2,193.8 268.2,190.8 270.2,186.8 269.8,181.8 271.2,181.2 272.2,182.2 272.2,179.8 267.2,180.2 267.2,182.8 268.2,184.2 266.2,185.2 267.8,186.8 266.8,187.8 265.2,187.8 263.8,185.8 263.8,184.2 265.2,182.8 264.8,177.8 265.8,176.8 268.2,176.8 269.2,173.2 270.8,176.2 272.2,176.8 272.2,178.2 274.2,176.2 276.8,174.8 278.2,175.2 281.2,172.8 282.8,175.8ZM316.8,171.2 318.2,170.8 319.2,172.2 317.8,172.8ZM267.8,163.2 268.2,166.2 266.2,167.8 265.2,166.8 265.2,165.2 266.8,164.8ZM263.2,163.8 265.2,163.2 265.8,164.8 263.8,165.2ZM261.8,160.2 262.8,161.2 262.2,163.2 261.2,162.8ZM271.8,159.8 272.2,161.2 270.2,163.8 268.8,163.8 266.8,161.8 267.8,160.2ZM311.8,157.2 312.2,155.8 314.2,156.2 313.2,157.8ZM217.8,135.2 219.2,135.8 218.8,139.2 217.2,138.2ZM218.8,132.2 219.8,131.8 220.8,133.2 219.2,133.8ZM199.2,128.8 200.2,128.8 201.8,130.8 202.8,130.2 203.8,131.2 202.2,133.8 201.2,133.8 198.8,131.2ZM191.8,126.8 192.2,126.2 194.8,128.8 194.2,129.2 192.8,128.8ZM181.2,118.2 181.8,119.8 180.8,120.8 179.2,120.8 178.8,120.2 179.2,119.2ZM182.8,89.2 183.8,88.8 185.2,90.8 183.8,91.8 182.8,90.8ZM187.2,88.8 189.8,88.2 190.2,89.8 187.8,90.2ZM163.2,89.2 160.8,91.8 158.8,92.2 157.8,91.8 157.8,90.8 160.2,89.2 161.2,87.8ZM139.2,83.8 140.8,83.8 141.2,85.2 142.8,86.2 140.8,88.8 139.2,88.2 139.2,87.2 140.8,86.2 140.2,85.8 139.2,86.8 138.2,86.2 138.2,84.8ZM120.8,83.8 123.2,84.8 123.2,86.8 122.2,87.8 120.2,85.2ZM146.8,82.2 147.2,83.2 145.8,84.8 145.2,84.2 145.8,82.8ZM108.8,81.8 110.2,83.2 109.2,85.2 107.8,84.8 107.8,82.8ZM181.8,76.8 182.8,76.8 183.8,78.2 185.2,78.2 185.8,80.8 187.2,81.8 186.8,82.8 183.8,83.2 184.8,86.2 182.2,88.8 180.8,87.8 182.2,86.2 179.2,84.8 182.8,81.8 181.2,80.8ZM266.2,58.2 264.8,61.2 264.8,64.2 265.8,62.8 267.8,61.8ZM593.8,60.2 596.2,62.8 596.2,63.8 597.8,63.2 601.2,65.8 605.8,65.8 605.8,64.2 607.2,63.8 607.8,65.8 609.2,66.2 610.8,64.2 611.2,60.2 609.2,60.2 608.8,59.2 606.8,60.2 605.2,58.8 603.2,57.8 602.2,58.2 599.2,56.2 598.2,57.2 595.8,57.2 595.8,59.2ZM150.2,51.2 150.2,52.8 151.8,53.8 151.8,54.8 150.8,55.8 148.8,55.8 148.2,56.2 148.8,57.8 150.8,56.2 152.8,59.2 153.2,56.2 155.2,55.2 156.2,53.2 157.2,53.2 158.2,55.2 156.2,55.8 156.2,59.8 159.8,59.2 160.2,52.8 159.2,52.2 156.2,52.8 155.2,51.8 154.8,52.8 152.2,53.2 151.8,51.2ZM90.2,49.8 90.8,51.2 92.8,50.2ZM161.8,47.2 165.2,48.8 164.2,50.2 164.2,51.8 165.8,53.8 164.2,54.8 164.2,56.2 166.2,55.2 168.2,52.8 170.8,54.8 170.8,53.2 172.2,52.2 172.8,50.8 171.8,48.8ZM159.8,47.2 157.8,46.8 156.2,48.2 156.2,49.2 158.8,49.2ZM705.2,83.2 707.8,84.8 707.8,86.2 709.8,87.2 711.8,90.2 713.8,90.8 714.2,92.8 716.8,92.8 718.8,93.8 720.2,95.8 725.2,96.2 726.8,98.8 731.2,98.8 732.8,96.2 734.8,96.2 735.8,94.2 737.8,92.8 737.8,90.8 738.8,89.2 739.8,89.2 740.8,86.8 741.2,82.2 743.2,81.2 744.2,78.8 745.2,77.8 746.8,77.8 748.2,75.2 749.8,75.2 753.2,71.8 755.2,71.2 756.2,69.2 767.2,67.8 768.2,66.2 779.8,65.2 783.8,62.8 788.8,62.2 789.8,60.2 794.8,59.8 796.2,57.2 800.2,56.8 805.2,54.2 818.8,53.8 819.2,51.8 821.2,50.8 821.8,49.8 821.8,42.2 819.8,39.8 815.2,38.8 768.2,38.8 767.8,39.2 744.8,38.8 744.2,39.2 713.8,39.2 706.2,40.2 705.2,41.8 705.2,50.2 704.2,51.8 704.8,66.2 705.2,66.8ZM87.2,44.2 87.8,45.2 88.8,42.8 90.8,42.8 92.2,44.2 91.2,45.8 92.2,48.2 93.8,46.8 96.2,48.8 94.2,50.2 95.2,51.8 94.2,53.8 97.8,49.8 99.2,49.8 99.8,50.2 99.2,51.8 101.8,51.2 104.2,52.8 105.8,55.2 106.8,53.8 109.8,53.8 111.2,52.8 113.2,52.8 114.8,54.2 118.2,55.2 119.2,56.2 120.8,55.2 121.8,56.8 124.2,56.8 126.8,59.2 128.2,59.2 127.2,58.2 128.2,56.8 129.2,58.2 131.2,58.8 133.2,58.2 135.2,59.2 138.2,55.8 140.2,54.8 140.8,56.2 143.2,57.8 142.2,57.2 143.2,53.8 144.8,55.8 146.8,55.2 148.2,53.8 147.8,51.8 150.2,49.2 153.8,50.2 154.8,46.2 147.2,46.2 146.8,45.8 141.2,45.8 140.8,46.8 139.8,46.8 139.2,45.8 137.8,45.2 137.8,41.8 136.2,40.8 134.2,41.2 131.8,40.8 127.2,43.8 122.8,42.8 121.8,41.8 119.2,42.2 117.2,44.2 113.8,44.2 112.8,45.8 108.2,45.2 105.8,43.8 105.8,42.2 102.2,41.8 100.2,39.2 98.2,39.8 96.8,38.2 94.8,38.2 93.8,39.8 92.8,39.8 92.2,41.8 90.8,40.8 87.8,42.8ZM131.8,56.2 133.8,54.2 134.8,54.2 135.8,56.2 134.8,57.2 133.2,57.2ZM128.2,51.2 129.8,53.2 126.8,56.2 125.2,56.2 124.2,55.2 124.8,53.2 125.8,52.8 126.8,53.8 126.8,52.8 125.8,52.2 126.8,51.2Z" fill="#fb6a4a"/>
<path d="M549.8,768.2 549.8,770.2 552.2,771.8 552.8,774.2 557.2,773.2 557.2,771.8 558.8,770.2 560.2,770.2 559.8,768.8 554.2,767.8ZM565.2,767.2 564.2,768.2 564.2,770.8 566.8,770.8 567.8,769.2 566.8,767.8ZM588.8,723.8 588.8,725.8 590.2,726.2 590.8,724.2ZM580.2,713.8 579.2,714.2 579.2,717.2 576.8,717.8 576.2,720.2 574.2,720.8 573.2,723.2 570.8,723.2 570.8,725.2 572.2,725.2 573.8,726.2 574.2,730.8 578.2,731.2 579.8,734.2 584.8,734.2 585.8,732.2 587.2,732.2 588.2,731.2 588.2,729.2 587.2,728.8 582.2,729.2 581.2,728.2 581.2,726.2 583.8,725.8 584.2,723.2 579.8,722.8 578.8,721.8 578.8,718.2 581.8,716.8 581.8,714.2ZM719.2,597.8 720.2,602.8 723.2,602.8 725.2,601.8 724.8,600.8 723.2,600.2 722.8,597.2ZM594.2,435.8 594.2,440.8 599.8,441.2 600.2,443.2 602.8,443.2 603.2,441.2 605.8,440.2 605.8,438.8 603.2,437.8 602.8,435.2ZM567.8,414.2 567.2,416.2 564.2,417.8 564.2,419.8 563.2,421.2 560.2,423.2 558.8,423.2 558.8,425.2 555.8,426.8 555.8,428.2 554.2,429.8 553.2,429.8 552.8,431.8 551.8,432.8 550.2,432.8 549.8,434.2 547.8,436.2 546.8,436.2 546.2,440.2 545.2,441.2 543.8,441.2 542.8,440.2 542.8,438.2 540.8,437.2 540.2,426.8 537.2,426.2 535.8,427.2 537.2,432.2 537.2,442.8 535.8,444.8 534.8,444.8 534.8,446.2 533.2,447.8 531.8,447.8 531.2,455.2 530.2,458.2 528.8,458.8 528.2,459.8 528.2,464.8 524.8,468.2 522.8,468.8 522.2,473.2 519.2,474.8 519.2,476.2 516.8,479.8 516.2,488.8 514.2,492.2 514.2,494.2 515.8,495.2 516.2,497.8 516.8,509.2 518.2,509.2 519.2,510.2 519.2,512.8 516.8,516.2 516.8,517.8 521.2,524.2 523.2,531.8 528.2,541.8 530.2,544.2 534.8,554.8 535.8,554.8 536.8,555.8 536.8,557.2 538.8,558.2 539.8,560.2 542.8,562.2 548.8,568.2 556.8,571.2 563.2,575.8 569.2,581.8 571.2,588.8 570.8,590.8 572.8,592.2 571.8,595.8 572.8,596.8 573.8,611.2 572.8,615.8 572.8,620.8 570.8,621.8 571.2,624.8 570.8,629.8 571.8,631.8 570.8,632.8 570.2,638.8 568.2,639.8 567.2,642.8 566.2,648.8 566.2,655.8 564.2,657.8 564.2,659.2 565.2,660.8 564.2,668.2 564.8,669.2 566.2,669.8 565.8,673.8 566.8,674.8 566.8,677.2 564.2,678.2 563.8,686.8 564.2,687.2 564.2,701.8 566.2,701.8 568.2,704.2 574.8,705.2 579.2,704.2 579.2,702.8 581.2,701.2 581.8,684.2 582.2,683.8 581.8,677.8 582.2,675.8 584.8,674.8 584.2,670.2 582.8,669.2 582.2,663.8 583.2,662.8 584.8,662.8 585.2,660.2 587.2,659.2 587.2,657.2 585.2,656.2 585.2,654.8 587.2,653.8 587.2,651.8 589.8,649.8 590.8,647.8 590.8,645.8 591.8,644.8 593.2,644.8 594.8,641.8 596.8,641.2 597.2,639.2 599.2,638.2 599.2,636.8 600.2,635.8 602.2,635.2 603.8,632.2 603.8,628.2 606.2,626.2 606.2,621.2 608.2,620.2 608.8,597.2 609.8,596.2 609.2,590.8 610.8,587.8 611.2,582.8 609.2,581.8 607.8,576.8 604.2,576.2 602.8,573.2 600.8,573.2 599.2,571.8 599.2,570.8 594.8,569.8 593.8,567.2 591.8,567.2 590.8,566.2 590.8,564.2 589.8,562.2 585.8,560.2 585.2,558.8 582.8,558.2 581.8,557.2 581.8,555.8 578.8,554.2 578.2,552.2 574.2,551.8 572.8,549.2 571.2,549.2 569.8,548.2 569.2,546.2 564.2,545.8 563.2,543.8 556.2,543.2 554.8,542.2 554.2,540.2 548.8,539.2 548.2,534.8 546.8,534.8 542.8,530.8 542.2,528.2 540.2,527.2 538.8,520.8 534.2,518.8 533.8,513.2 532.8,511.8 533.2,507.2 531.2,506.8 531.2,504.2 533.2,503.2 533.2,499.2 531.2,497.8 531.8,489.8 525.8,488.8 524.8,486.2 525.2,477.2 527.2,476.2 528.2,472.2 531.2,470.2 531.8,468.2 536.2,467.2 536.8,465.2 539.8,463.8 540.8,460.2 544.8,457.8 546.2,455.2 546.2,453.8 548.2,452.2 548.2,450.8 551.2,448.8 552.8,444.8 554.8,443.2 554.8,441.2 557.8,437.8 557.8,435.8 560.2,434.2 560.2,432.8 564.8,428.2 566.2,427.8 567.2,423.2 569.8,422.2 570.2,414.8ZM556.8,409.2 554.8,411.2 552.8,411.2 552.8,414.2 555.8,416.2 556.8,415.8 557.2,414.2ZM437.2,365.8 435.8,370.2 437.2,371.2 438.2,374.8 439.8,375.8 440.2,377.2 443.2,377.8 444.8,379.2 446.2,378.8 447.8,377.2 447.2,375.2 448.2,374.2 447.2,371.8 444.2,370.8 443.2,369.2 441.8,368.8 438.2,369.2ZM439.2,374.8 439.8,373.2 441.8,373.8 440.8,375.2ZM264.8,189.8 266.2,193.2 267.2,190.2 266.8,190.8ZM263.2,181.2 262.2,183.8 260.2,182.2 258.8,182.2 259.2,185.2 258.2,186.8 259.8,188.2 260.8,188.2 261.8,186.8 263.2,187.8 263.2,185.8 262.2,183.8 263.8,182.8ZM321.8,168.8 321.2,172.2 323.2,173.2 322.2,171.2 322.8,169.8 324.2,168.8ZM91.8,93.8 90.2,93.8 88.8,94.8 89.2,96.8 88.8,98.8 89.2,99.2 90.8,98.8 91.8,99.8 90.8,100.8 89.2,100.8 90.8,101.8 92.2,100.2 93.2,100.2 94.2,98.8 94.2,97.2 92.8,97.8 91.2,96.2ZM105.2,88.8 105.2,89.8 106.2,89.8 107.2,91.8 106.8,94.2 109.2,94.2 109.2,93.2 111.8,91.2 112.8,92.8 111.2,93.8 111.2,96.2 113.2,96.8 115.2,95.8 116.2,98.2 116.8,97.8 116.2,95.2 119.2,92.2 120.2,96.2 125.2,97.2 126.2,98.8 133.2,98.8 136.2,101.8 137.2,101.2 139.2,102.2 142.2,102.2 143.2,104.8 144.8,102.8 150.8,103.8 152.8,102.8 155.2,104.8 158.2,103.8 161.2,104.8 163.8,107.2 166.2,106.8 165.8,104.2 167.2,101.2 167.2,97.8 165.2,99.2 164.2,101.2 163.2,100.8 163.8,98.8 163.2,96.2 164.8,95.8 165.8,97.2 166.8,95.8 166.2,93.2 164.8,94.8 163.8,94.8 162.8,96.2 162.2,94.8 161.2,94.8 159.8,92.8 159.2,94.2 162.2,95.8 162.8,96.8 161.2,98.2 159.2,98.8 156.2,96.2 156.8,93.8 155.2,91.2 155.2,89.8 154.2,91.2 150.2,92.8 149.2,91.8 148.2,92.2 147.2,91.8 147.2,89.2 146.2,88.2 142.2,88.8 140.2,90.2 138.2,90.2 136.2,88.8 134.8,88.8 132.8,90.2 129.2,88.8 128.2,87.2 125.8,90.2 123.2,91.8 120.8,88.8 118.8,88.8 116.8,85.8 113.8,84.8 110.8,86.2 112.2,87.8 110.8,88.8 109.8,88.8 108.2,87.2 107.8,88.2 108.8,89.2 107.8,90.2 106.8,90.2 106.2,88.8ZM89.8,84.2 91.2,86.2 90.2,87.8 92.8,88.2 95.2,90.8 95.2,93.8 96.2,94.8 96.2,96.2 95.2,97.2 96.8,97.2 97.8,98.8 99.8,99.8 99.2,98.8 100.2,97.8 101.8,97.8 103.8,96.2 103.8,94.2 102.2,93.8 103.2,92.8 100.2,91.2 98.2,91.8 95.8,89.8 95.2,87.8 97.2,86.2 95.2,85.2 93.8,87.2ZM179.8,79.8 177.8,77.2 174.2,77.8 173.2,79.2 169.8,76.8 167.8,76.8 166.8,77.8 164.2,77.8 164.8,78.2 164.2,80.8 163.2,80.2 163.2,78.8 162.8,78.8 160.2,81.2 158.8,81.2 156.8,83.2 157.8,85.2 161.2,85.8 162.8,85.2 164.2,82.2 166.2,81.8 166.2,80.2 167.2,79.2 168.8,81.2 168.8,83.2 169.8,81.2 171.2,82.8 172.2,82.8 173.8,80.2 176.8,78.2 178.2,78.8 178.8,80.2ZM166.8,84.8 166.2,89.8 167.2,92.2 168.8,90.2 170.8,90.8 168.2,93.8 168.2,94.8 170.2,96.8 171.8,96.2 172.8,97.2 171.8,97.8 172.2,100.2 170.2,101.2 171.2,101.8 172.8,105.2 171.2,106.8 171.2,108.8 171.8,109.2 172.8,107.8 173.8,107.8 176.8,109.8 177.8,115.2 179.2,114.8 182.8,115.2 182.8,114.2 181.8,113.8 182.8,112.8 184.8,115.2 183.8,116.8 181.8,117.8 186.2,120.8 186.2,122.8 189.2,119.8 190.2,119.8 192.2,122.2 192.2,124.2 193.2,125.8 196.2,125.8 196.8,125.2 196.2,123.8 197.2,122.8 199.2,123.2 200.8,122.2 200.2,120.8 201.2,118.8 202.8,118.2 204.2,119.8 204.8,122.2 202.8,123.2 200.8,125.2 200.2,126.8 201.8,129.2 204.2,129.8 204.2,131.2 206.2,132.8 205.2,133.8 205.8,134.8 207.2,134.2 206.8,132.8 208.8,130.2 210.8,131.2 209.8,132.2 210.2,133.2 212.2,133.8 213.8,133.2 214.8,134.2 215.2,137.2 213.2,138.2 212.2,137.2 212.8,134.8 212.2,134.8 211.8,135.8 212.2,137.2 210.8,138.8 211.8,141.2 213.2,142.8 216.8,142.8 217.8,144.8 220.2,146.2 219.8,148.8 222.2,150.2 222.2,152.2 221.2,153.2 219.8,151.8 218.2,151.8 218.2,152.2 223.2,157.2 223.8,156.2 225.2,156.8 228.2,156.2 229.8,157.2 231.8,157.2 233.2,159.2 235.2,159.2 238.2,160.2 238.8,158.8 239.8,158.2 241.2,159.8 241.2,161.2 242.8,164.2 245.2,165.2 246.2,166.8 252.8,168.2 252.8,169.8 251.2,171.8 252.8,173.8 257.8,174.2 258.8,172.8 260.2,173.2 259.2,174.8 261.8,175.8 265.2,176.2 265.8,175.2 267.2,175.2 267.8,174.8 267.2,173.8 269.2,169.8 271.2,170.2 270.2,172.2 273.2,175.2 275.8,175.2 277.8,173.2 277.2,172.2 277.8,170.8 279.2,171.2 279.8,173.2 280.8,170.8 279.8,167.8 282.2,163.8 283.8,164.8 282.2,166.2 282.2,167.8 283.8,169.8 283.8,170.8 282.2,171.2 282.2,172.2 284.8,172.2 287.2,174.8 288.2,173.2 289.2,173.2 288.8,172.2 290.2,170.2 292.2,171.8 289.8,175.2 289.8,178.2 291.8,179.2 291.8,180.8 293.2,182.2 291.2,183.8 290.8,185.2 291.8,186.2 291.8,188.8 293.2,190.2 292.8,191.8 290.2,193.8 284.2,194.2 284.2,195.8 281.8,198.2 280.2,197.8 279.8,195.8 279.8,196.8 276.8,198.8 275.8,196.8 273.8,197.8 272.2,196.8 268.8,197.2 267.8,195.8 266.2,196.8 263.8,194.2 263.2,192.8 261.8,193.8 260.2,193.2 259.2,191.8 258.2,192.8 258.2,194.8 259.2,195.8 258.8,200.2 259.8,202.2 258.8,203.2 258.8,204.8 257.2,206.2 257.8,210.8 256.2,213.8 257.8,217.8 257.2,219.8 259.2,221.2 260.8,224.2 264.2,227.8 264.2,231.2 268.2,234.2 271.8,239.2 272.2,241.8 275.8,243.2 276.8,246.8 278.8,248.8 279.8,248.8 281.2,250.8 283.2,249.8 284.2,251.2 285.8,250.8 286.8,251.8 288.2,251.8 290.8,250.2 291.8,251.2 291.2,252.8 294.8,256.2 297.8,256.8 298.2,255.8 299.2,255.8 299.8,253.8 301.8,251.8 302.8,251.8 303.2,253.2 304.2,253.8 305.2,257.8 305.8,256.2 307.2,255.8 308.2,257.2 310.2,256.8 315.2,259.2 321.8,258.8 322.8,260.2 324.8,260.2 329.2,263.8 330.8,263.8 331.8,264.8 331.8,266.2 335.2,270.8 333.8,272.8 335.8,275.8 334.2,276.8 337.8,276.2 339.2,277.2 339.2,278.8 336.8,279.8 337.8,280.8 337.2,282.2 337.8,284.2 336.2,285.2 336.8,286.8 336.2,288.2 335.2,289.2 333.8,287.2 332.8,287.2 331.8,288.8 331.8,290.8 332.8,291.8 332.2,292.2 330.8,291.8 329.8,292.8 330.8,296.2 331.8,295.2 333.8,297.2 335.2,295.8 336.2,296.2 336.2,299.8 337.8,300.8 336.2,301.8 336.8,305.2 338.8,304.2 339.2,306.8 340.2,306.8 340.8,305.8 339.2,303.8 340.2,302.8 342.2,303.2 343.8,305.2 342.2,306.8 343.2,307.2 344.2,306.2 345.2,308.8 349.2,312.8 348.2,315.8 349.2,316.2 349.8,314.8 351.8,315.8 350.2,317.2 351.8,317.2 353.2,318.8 352.8,320.2 358.8,326.8 359.2,329.2 361.2,330.8 364.2,336.8 366.8,339.2 367.8,338.8 369.2,339.8 369.2,341.8 371.2,341.8 373.2,343.8 375.8,343.8 377.2,346.2 378.8,346.2 379.8,347.8 382.2,348.8 382.8,350.2 387.2,353.8 387.8,356.2 389.2,356.2 390.8,358.2 393.2,357.8 394.8,358.8 397.2,358.2 399.8,362.8 403.8,365.8 406.2,368.8 407.8,369.2 408.8,370.8 414.2,369.8 417.2,364.2 417.2,363.2 415.8,361.8 416.8,358.8 413.8,356.2 414.8,354.8 413.8,355.2 412.8,354.8 413.2,353.8 411.2,352.2 410.8,350.2 408.8,347.8 404.2,345.8 402.8,344.2 401.2,344.2 399.8,342.2 398.2,342.8 396.8,341.2 395.2,342.2 392.2,341.8 390.2,342.2 389.8,340.8 391.8,340.2 392.2,338.2 394.2,336.8 395.2,332.8 395.2,329.2 396.2,327.2 396.2,324.2 394.8,322.8 395.2,322.2 394.8,320.8 392.2,318.2 390.8,318.8 389.8,317.8 390.2,314.2 389.2,314.8 387.2,313.8 384.8,310.8 384.8,309.2 383.2,309.2 381.8,307.8 380.2,308.2 379.8,307.2 378.8,307.2 377.2,303.8 376.8,300.8 379.8,297.8 379.8,296.2 378.8,294.8 381.2,293.2 380.8,291.2 384.2,288.8 382.2,288.2 379.8,285.8 382.2,283.2 383.8,283.2 383.2,279.8 382.2,279.2 382.2,275.2 381.2,274.2 381.8,272.8 381.2,268.8 385.2,266.2 382.8,264.8 378.2,264.2 377.2,263.2 377.8,261.2 376.8,258.2 377.8,252.8 376.2,251.8 375.8,249.2 376.2,246.8 375.8,245.2 377.2,241.2 376.2,239.2 376.8,233.8 376.2,232.2 373.2,229.2 373.2,224.2 372.2,223.2 372.2,220.8 370.2,218.2 370.2,215.8 368.8,213.8 365.2,210.8 364.8,209.2 362.2,208.2 361.8,206.8 359.8,204.8 356.8,203.2 357.2,202.2 356.8,201.2 355.8,201.2 352.8,197.8 351.2,197.2 351.8,196.2 353.2,196.2 353.2,195.2 352.2,195.8 350.2,194.8 351.2,192.8 347.8,192.8 343.2,189.2 343.2,187.8 344.8,186.8 343.8,185.2 343.8,183.2 344.8,182.2 343.8,183.2 341.8,183.2 338.2,180.2 335.8,179.8 333.2,180.2 331.8,177.8 332.2,176.2 329.8,174.8 326.8,175.2 327.2,175.8 324.8,178.2 323.8,176.8 321.8,175.8 321.2,176.8 322.8,177.8 321.8,178.8 317.8,176.2 317.2,173.2 316.2,172.8 315.8,170.2 314.2,171.2 313.2,170.2 313.8,168.8 311.8,167.2 312.2,165.8 308.2,164.8 307.2,162.8 305.8,163.2 304.8,162.2 305.8,160.8 305.8,159.2 304.8,159.2 303.8,157.2 302.2,156.8 302.2,155.2 300.8,154.8 300.8,152.8 299.8,151.8 298.2,152.2 297.2,151.8 296.8,149.2 298.2,147.8 296.2,146.2 295.8,148.8 294.2,149.2 288.8,144.2 285.8,144.8 285.2,143.8 283.2,143.8 281.2,142.8 279.2,140.2 273.8,137.8 272.2,136.2 270.8,136.8 267.2,135.2 264.8,137.2 263.2,135.8 263.2,134.8 261.2,134.2 262.2,133.8 261.8,131.2 260.2,132.2 258.8,134.8 257.2,134.2 256.2,131.2 252.2,132.2 251.2,130.8 249.8,132.2 248.8,131.8 247.8,130.2 248.2,129.2 251.2,129.2 252.8,128.2 251.2,124.8 248.8,123.8 248.8,121.8 250.2,119.8 252.8,119.8 252.8,118.8 248.2,117.2 247.2,115.8 247.8,113.2 245.8,112.8 243.8,109.8 241.8,109.2 242.2,107.2 243.2,106.2 245.2,106.2 246.2,102.8 241.8,98.2 244.8,95.2 245.2,93.2 244.8,91.2 245.2,87.8 244.2,86.8 243.8,84.2 241.8,84.8 238.2,81.2 236.8,81.2 235.2,80.2 233.2,80.8 231.8,78.8 230.8,79.2 227.8,78.2 225.8,78.8 222.8,76.2 221.2,76.8 219.8,75.8 214.2,75.2 211.2,73.8 209.8,74.2 210.8,75.8 209.2,76.8 208.2,75.8 208.8,74.8 207.2,73.8 204.8,73.8 201.8,75.2 200.2,74.2 198.8,74.8 193.8,74.2 193.8,75.8 191.2,77.2 189.8,75.8 189.2,76.2 189.2,80.2 190.8,81.8 190.8,83.2 194.8,81.2 195.2,82.2 194.2,82.8 194.2,83.8 195.8,85.2 194.8,88.2 192.8,88.2 191.2,89.2 193.2,90.2 190.2,93.8 192.2,96.8 191.2,97.8 190.2,96.2 186.8,96.8 185.2,95.2 183.8,97.8 182.2,96.2 181.2,96.2 179.2,93.2 177.2,93.8 172.8,91.8 172.2,90.8 173.8,89.8 175.2,89.8 176.2,91.2 176.8,89.8 179.8,86.8 176.8,83.2 178.2,82.2 178.2,81.2 177.2,81.2 177.2,82.2 175.8,83.2 177.2,84.2 176.2,85.8 171.8,83.8 170.8,84.8 171.8,86.2 171.8,87.8 170.8,88.8 168.2,88.8 167.2,87.8 167.2,84.8ZM388.8,340.8 388.2,341.8 385.2,343.2 383.8,343.2 382.2,341.8 383.8,340.2 387.8,339.8ZM374.2,278.2 376.2,279.8 375.2,280.8 375.2,282.8 376.2,284.2 375.2,285.2 374.8,293.2 372.2,296.8 372.8,297.2 374.8,296.8 375.2,299.2 373.8,299.8 371.8,297.8 369.8,298.2 367.8,300.8 368.2,303.2 366.8,304.2 360.2,300.8 361.8,299.8 361.8,298.2 360.2,297.8 360.8,296.8 360.2,294.8 364.8,291.8 365.2,289.8 371.8,284.2 370.8,282.8 371.2,281.8 370.8,279.8 371.8,279.2 372.8,280.2 373.2,278.8ZM345.8,278.2 346.8,279.2 345.8,281.2 344.2,279.8ZM373.2,266.8 375.8,269.2 374.2,270.2 375.8,271.8 375.8,274.2 374.2,277.2 372.8,275.8 372.8,272.8 371.8,270.2 371.8,268.2ZM373.2,266.8 373.8,265.2 375.2,265.8 374.2,267.2ZM306.2,248.8 307.2,249.8 305.2,252.2 304.2,251.2 304.2,249.8ZM309.8,237.2 312.2,239.8 309.2,242.2 309.8,243.8 308.2,245.2 305.8,242.8 305.8,241.8 309.2,239.2ZM292.2,217.8 293.2,216.8 294.8,220.2 297.8,218.8 299.8,221.8 299.2,222.2 293.2,221.8 291.8,219.8ZM315.8,215.8 318.2,217.8 317.8,219.2 315.8,219.8 316.8,220.8 315.2,222.2 316.2,224.2 315.8,224.8 314.2,224.8 312.8,223.8 311.2,224.2 310.2,223.2 310.8,220.2ZM284.2,212.8 286.2,213.8 285.8,216.2 283.2,213.8ZM269.2,211.2 271.8,211.8 272.2,212.8 269.8,215.8 268.2,215.8 267.8,214.2ZM276.2,211.8 275.2,213.8 273.8,213.8 272.2,212.8 272.8,211.8 275.2,210.8ZM276.2,205.2 278.8,205.8 279.2,207.8 278.2,208.8 275.8,206.8ZM303.8,204.2 306.8,207.2 305.8,208.8 304.8,208.8 304.2,207.2 302.2,206.8ZM264.2,204.2 266.8,204.8 267.2,207.2 266.2,208.2 263.8,207.8 262.8,206.8 262.8,205.8ZM305.2,203.2 307.2,201.8 310.2,203.2 311.2,204.8 310.2,206.2 309.2,206.2 308.2,204.2 306.2,204.2ZM300.8,199.8 301.8,201.8 300.8,202.8 299.2,201.8 300.8,204.8 297.8,206.8 294.8,207.2 292.2,204.2 292.2,202.8 291.2,202.2 291.2,201.2 293.2,199.8 294.2,200.2 297.2,199.2ZM302.8,185.2 304.2,186.2 302.2,188.2 301.2,186.2ZM308.2,183.2 310.2,182.8 311.2,183.8 309.2,184.8ZM307.8,181.8 307.2,183.8 301.2,182.8 301.8,181.2 305.8,181.2 306.8,180.2ZM330.2,181.8 329.8,182.8 328.2,183.2 326.8,186.2 324.8,185.2 323.2,185.8 322.8,184.8 320.8,184.8 318.8,182.2 319.8,179.8 323.8,179.2 325.8,181.8 325.8,182.8 326.8,182.8 326.8,181.2 328.2,180.2 328.8,178.8 329.8,179.2ZM325.2,178.8 326.8,178.2 327.8,179.8 325.8,180.2ZM298.2,178.2 298.8,179.8 297.8,180.8 296.8,179.2ZM290.8,175.8 291.2,173.8 293.2,173.8 294.2,174.8 291.8,176.8ZM257.2,164.8 258.2,165.8 258.2,167.2 260.2,168.8 258.8,171.8 257.2,170.8 257.2,169.2 255.8,167.2ZM275.8,160.2 276.2,158.8 280.2,159.2 279.2,160.8ZM261.2,155.2 262.8,156.2 263.8,158.8 265.8,160.2 266.8,160.2 270.8,156.2 271.8,156.8 271.8,158.2 272.8,158.2 273.8,160.2 274.8,160.8 274.8,163.2 277.8,163.8 277.2,165.2 273.8,164.8 272.8,165.8 273.2,167.2 275.2,168.8 274.2,170.2 272.2,168.8 271.2,165.8 269.2,165.8 268.2,167.8 268.8,168.2 266.2,170.2 265.8,173.2 265.2,173.8 263.2,173.2 264.2,172.2 264.2,170.2 265.8,168.8 264.2,166.8 262.8,166.8 261.8,168.8 260.2,167.2 261.8,164.2 260.2,162.8 260.2,159.2 259.2,158.8 259.2,157.8ZM248.2,154.2 249.2,155.2 246.8,157.2 245.8,155.2 246.8,154.2ZM259.8,153.8 261.8,152.8 262.2,153.2 261.8,154.8ZM267.2,152.2 266.2,153.2 264.2,152.8 264.8,151.8 266.2,151.2ZM234.8,148.2 235.8,149.2 234.2,150.2 234.2,151.2 232.8,152.2 231.8,154.2 230.2,152.2 232.2,151.2 232.2,150.2ZM257.8,147.2 260.2,146.8 262.8,149.2 262.8,150.8 261.8,151.8 260.8,151.2 259.8,149.2 257.8,148.2ZM250.8,145.8 251.8,145.2 254.2,148.2 251.2,149.8 250.8,149.2 251.8,147.8ZM255.8,136.2 257.2,138.2 256.2,139.8 254.8,138.2ZM238.8,135.8 240.8,134.8 241.8,136.8 242.8,136.8 243.2,137.8 241.8,138.2ZM248.2,133.2 251.2,134.8 253.2,137.2 250.8,138.2 249.8,136.8 249.2,137.2 250.2,138.2 249.8,140.2 247.2,137.8 247.2,136.8 248.8,135.8 247.8,134.2ZM245.8,129.8 243.8,132.2 242.2,131.2 241.8,131.8 236.8,131.2 238.8,128.8 242.8,128.8 243.8,127.2ZM209.8,128.2 211.2,127.2 212.2,128.8 210.8,129.2ZM220.2,123.2 221.8,123.2 223.2,124.2 223.8,125.2 223.2,127.2 224.2,128.2 223.8,129.2 222.2,129.2 221.2,128.2 220.2,131.2 221.2,132.2 222.8,131.8 224.8,128.8 226.2,128.8 227.8,127.8 229.2,128.2 228.8,131.2 227.8,132.2 226.8,132.2 225.2,130.8 226.2,134.2 225.8,134.8 224.2,133.8 224.2,134.8 222.2,135.8 222.8,137.8 221.8,138.2 223.8,140.2 223.2,141.8 225.2,144.2 225.2,146.8 227.2,147.8 226.2,146.8 226.2,144.8 227.2,143.8 228.2,144.8 228.2,146.2 230.2,147.2 229.2,148.8 228.2,148.8 227.8,150.2 226.8,150.2 225.8,152.2 223.8,150.8 224.2,149.2 222.2,148.2 223.8,146.2 223.2,144.8 222.2,144.2 220.8,145.2 219.8,143.8 220.2,141.2 219.8,140.8 217.8,141.2 215.8,138.8 215.2,137.2 215.8,132.8 213.8,131.8 212.2,132.2 211.2,131.2 213.2,129.2 215.8,128.8 217.2,127.2 216.8,125.2 218.2,123.8 219.2,124.2ZM212.2,123.2 214.8,126.2 214.2,127.2 211.2,125.2ZM205.8,120.2 207.8,121.2 207.2,122.2 208.2,123.2 208.2,124.2 206.8,125.8 205.2,124.8 204.8,123.2ZM187.8,108.2 190.2,107.8 191.2,109.2 188.2,109.8ZM186.8,105.8 188.2,104.8 189.8,104.8 190.8,106.2 187.2,106.8ZM206.2,102.8 208.2,101.8 209.8,104.2 208.8,104.8 206.8,103.8ZM210.8,99.8 214.8,101.8 214.2,104.8 215.8,106.2 215.2,106.8 215.8,108.8 214.2,109.8 213.2,109.8 209.8,106.2 210.8,104.8 212.2,104.8 211.8,102.8 210.2,101.8ZM195.8,99.8 196.8,97.8 198.2,98.2 197.8,99.8 196.2,100.2ZM203.2,95.2 203.8,97.2 202.8,97.8 202.8,98.8 203.8,98.8 206.2,96.2 207.2,97.2 207.2,100.2 205.8,101.2 204.8,104.8 206.8,104.2 208.2,104.8 208.8,105.8 207.8,106.8 205.8,106.8 204.2,108.2 204.2,110.2 202.2,111.2 201.8,113.8 201.2,110.2 202.2,107.8 203.8,107.2 203.2,105.8 202.8,107.2 201.8,107.8 200.8,106.8 200.2,103.8 198.8,104.8 196.2,102.8 197.8,101.8 198.8,103.2 198.2,100.2 200.2,99.2 201.8,95.8ZM197.2,94.2 200.2,96.2 198.8,98.2 197.8,97.8 197.8,96.2 196.2,95.2ZM203.8,84.8 205.2,86.2 202.2,89.2 204.2,89.8 204.8,91.2 202.8,93.2 202.8,94.8 201.8,95.2 200.8,93.2 198.2,91.2 198.2,89.2 199.8,86.2ZM196.8,84.2 198.8,86.2 197.8,89.8 195.8,86.2ZM122.8,51.8 120.2,50.2 121.2,48.2 122.2,47.8 122.2,46.8 119.2,47.8 118.2,45.2 115.8,45.2 113.8,47.2 111.8,46.8 110.8,48.2 108.8,47.8 107.2,48.2 103.8,46.8 101.8,46.8 100.8,47.8 100.2,47.2 100.8,48.8 102.8,47.8 103.8,48.8 104.2,52.2 106.8,51.2 108.8,51.8 107.8,49.8 108.8,48.8 110.8,50.2 111.8,48.2 113.2,50.2 112.8,51.8 114.8,50.2 116.2,51.2 116.2,53.2 116.8,51.8 118.2,52.2ZM126.8,50.2 127.8,50.8 129.8,50.2 131.2,51.8 133.2,51.2 134.2,52.8 135.2,52.2 137.2,55.2 140.2,53.8 142.8,51.2 145.2,51.8 144.8,50.2 146.2,49.2 146.8,47.8 148.2,47.2 151.2,48.2 151.2,46.8 146.8,45.8 146.2,46.8 144.2,47.2 143.8,49.2 141.2,48.2 142.8,49.8 142.2,51.8 138.8,50.8 137.8,51.2 136.8,49.8 137.2,49.2 138.8,49.8 139.2,48.8 137.8,48.8 136.8,47.8 137.8,45.8 137.8,43.8 136.2,43.8 135.2,42.8 132.8,43.8 132.8,44.8 134.8,43.8 135.8,44.2 134.8,46.8 133.8,46.8 131.2,49.8 129.8,48.2 127.8,48.2ZM93.2,41.8 94.8,42.8 94.8,43.8 96.8,44.2 96.2,43.2 96.8,41.8 98.2,42.8 98.8,41.2 93.8,40.8ZM708.2,83.2 710.2,84.2 710.8,86.2 712.8,87.2 714.8,90.2 716.2,90.2 717.8,92.8 722.2,93.8 722.8,95.2 726.8,96.2 733.8,95.8 734.8,95.2 734.8,93.2 737.8,89.8 737.8,87.8 738.8,85.2 740.8,83.2 740.8,81.2 743.2,80.2 743.2,78.8 744.8,77.2 746.2,77.2 746.2,75.8 749.2,74.2 750.8,71.8 752.2,71.8 754.2,68.8 761.2,67.8 762.2,66.2 776.2,64.8 777.2,63.2 785.8,62.2 786.2,60.2 793.8,59.2 795.2,56.8 797.8,56.8 798.8,54.2 817.8,53.2 819.2,50.8 819.8,46.8 819.2,42.2 818.2,39.8 815.8,39.2 717.2,39.8 714.2,41.8 708.8,42.2 707.8,43.2 708.2,50.2 707.2,53.2 705.8,54.2 705.8,59.2 707.8,60.2 707.2,68.2 707.8,68.8Z" fill="#fc9272"/>
<path d="M522.8,473.8 521.8,474.8 521.8,476.2 519.2,477.2 518.8,483.2 517.2,484.2 516.2,489.2 516.2,495.8 516.8,496.2 516.8,506.2 520.8,507.2 521.8,508.2 519.8,510.2 518.2,519.8 521.2,524.2 523.2,531.8 528.2,541.8 530.2,544.2 533.2,551.2 536.8,553.2 537.8,557.2 539.8,557.8 540.2,560.2 548.8,568.2 556.8,571.2 563.2,575.8 569.2,581.8 570.8,588.2 572.2,589.2 573.2,591.2 573.2,597.8 573.8,599.8 575.2,600.8 575.2,602.2 574.2,602.8 573.8,605.2 575.2,606.2 575.8,612.2 573.8,615.2 572.8,621.8 573.2,624.8 572.8,634.8 570.8,636.2 569.8,644.2 567.2,645.8 567.2,656.8 565.2,658.2 567.2,660.8 566.2,667.2 567.2,669.2 567.2,671.8 569.2,673.2 569.8,675.8 569.2,677.2 567.2,677.8 565.8,681.8 566.8,684.2 566.8,690.8 566.2,691.2 567.2,694.2 566.8,698.8 567.2,700.8 569.2,701.2 570.8,704.2 572.2,704.2 572.8,702.8 574.2,701.8 576.2,702.2 578.8,701.8 579.8,695.2 579.2,690.8 581.2,689.8 581.2,681.2 579.8,680.2 579.2,671.8 579.8,670.2 581.8,668.8 581.8,662.8 582.2,660.8 584.2,658.8 585.2,651.2 587.2,650.2 588.2,646.2 591.2,644.2 591.2,642.8 593.2,642.2 594.2,641.2 594.2,639.8 596.8,638.8 596.8,636.8 597.8,635.8 599.2,635.8 600.8,633.2 602.8,632.8 602.8,627.8 603.8,625.2 605.2,624.2 606.2,617.8 607.8,616.8 606.2,614.8 606.2,612.2 607.8,611.2 608.2,609.2 608.8,582.8 607.8,579.8 603.2,578.2 602.2,574.2 598.2,573.2 596.8,572.2 596.2,570.8 594.8,570.8 593.2,569.2 592.2,569.2 590.2,566.8 588.2,565.8 587.8,562.2 582.8,560.8 580.8,556.2 577.2,554.8 575.2,552.2 573.2,552.2 571.2,551.2 570.2,549.2 567.8,548.8 566.8,546.8 565.8,546.2 561.8,546.2 559.2,545.2 558.2,543.8 552.8,542.8 551.8,540.8 546.8,539.2 545.8,534.8 543.8,534.2 542.8,532.8 542.8,531.2 540.2,530.2 539.8,525.8 537.2,524.2 536.8,522.2 535.2,522.2 534.2,521.2 533.2,513.8 530.8,512.2 531.2,509.2 530.8,497.8 530.2,497.2 530.8,489.8 525.2,489.2 524.2,488.2 523.8,483.8 524.8,479.8 524.8,473.8ZM596.8,438.8 597.2,440.2 601.8,440.2 602.2,439.2 600.2,438.2ZM537.8,426.8 537.8,431.8 539.2,431.8 539.8,430.8 539.2,426.8ZM563.2,425.2 559.2,426.8 558.2,428.8 555.8,429.2 555.2,431.8 552.8,432.2 552.2,434.2 549.2,435.8 549.2,437.8 547.2,439.2 547.2,440.2 542.2,444.8 540.8,444.8 539.8,443.8 539.2,436.2 538.2,435.8 537.2,446.8 534.2,447.8 534.2,452.2 533.2,453.2 531.8,453.2 531.2,458.8 528.8,463.2 528.8,466.8 527.8,468.2 525.8,468.2 524.8,469.8 525.8,471.8 528.8,470.2 530.2,470.2 530.8,467.8 533.2,467.2 533.8,465.8 536.2,464.8 537.8,462.2 539.2,462.2 539.8,459.2 541.8,458.2 543.2,455.8 545.2,455.2 546.2,450.2 548.2,449.8 548.8,447.8 551.8,446.2 552.2,441.8 554.8,440.8 555.2,435.8 557.8,434.2 557.8,432.8 558.8,431.8 560.2,431.8 561.2,428.8 563.8,428.2ZM566.2,420.2 564.8,420.8 564.8,423.2 566.2,422.8 566.8,421.8ZM567.8,417.2 567.2,419.8 569.2,419.8 569.2,417.2ZM384.2,344.2 383.8,346.8 385.8,348.2 386.8,351.2 388.8,353.8 393.2,355.2 394.8,354.8 398.2,355.2 400.2,357.8 399.8,360.8 400.8,362.2 403.8,363.8 405.2,365.8 407.8,366.8 407.2,368.2 410.2,369.2 413.8,368.8 415.8,365.2 414.2,360.2 415.8,359.2 413.8,357.8 411.8,354.2 410.2,353.8 410.2,350.2 406.2,346.8 401.8,345.8 399.8,343.2 398.8,343.8 396.2,343.2 394.2,344.2 392.2,344.2 391.8,343.8 392.2,343.2 390.8,342.8 390.2,343.2 390.8,344.2 389.8,345.2 387.8,344.2ZM405.2,354.2 406.8,353.2 407.8,353.8 407.2,355.2 405.8,355.2ZM292.8,252.8 293.8,254.2 295.8,255.2 296.8,254.8 297.2,252.8 298.2,252.8 299.2,254.2 298.2,252.2 296.8,253.2 295.2,252.2ZM253.8,162.2 253.8,163.2 256.2,163.8 258.8,162.8 258.2,161.2 255.2,161.2ZM243.2,159.8 244.8,160.8 243.2,162.8 244.2,164.2 248.2,164.8 250.2,162.8 252.2,164.2 252.8,166.2 253.8,165.8 250.8,161.8 251.2,159.8 249.2,159.2 248.2,157.8 245.8,157.8ZM233.2,156.2 233.2,157.2 234.8,156.8 236.2,158.8 237.8,158.8 236.8,156.8ZM251.2,153.2 252.8,155.2 254.2,155.2 252.8,153.2ZM239.2,147.2 237.2,148.8 237.2,150.8 238.2,152.2 239.2,152.2 240.8,153.8 241.2,151.8 239.8,150.8 240.8,148.8ZM246.8,139.8 245.8,141.8 246.2,144.8 247.2,144.2ZM240.8,139.8 241.2,140.8 243.2,141.2 243.8,145.2 244.2,142.2 243.8,139.8 242.8,140.2ZM212.2,139.2 213.8,141.8 215.2,141.2 215.2,140.2 213.2,140.2ZM255.2,141.2 254.2,142.8 254.2,144.2 253.2,144.8 256.2,143.8 258.8,141.2 259.8,141.2 264.2,144.2 263.2,145.8 260.2,146.2 261.2,146.2 265.2,150.2 269.2,151.2 270.8,153.2 273.2,153.2 276.2,154.8 278.8,154.8 279.2,155.8 278.2,156.2 277.8,158.2 280.8,157.2 281.8,158.2 281.2,160.2 282.8,158.8 283.8,159.8 283.8,161.2 282.8,162.8 284.8,164.8 287.8,164.8 287.8,163.2 289.2,162.2 294.2,166.2 294.8,170.8 295.8,169.8 298.8,170.2 298.8,171.8 297.2,172.8 297.2,173.8 300.8,176.2 299.8,177.8 300.8,179.2 302.8,180.2 305.2,178.2 306.2,178.2 308.2,181.2 312.8,178.8 316.8,181.8 316.8,182.8 315.2,183.2 315.2,184.2 318.2,184.8 317.2,187.2 310.8,184.8 308.8,185.8 309.2,186.2 308.2,188.8 307.8,187.8 306.2,187.8 305.2,186.8 303.8,188.8 300.2,188.2 301.2,189.8 297.2,191.8 296.8,189.8 299.8,187.2 298.8,185.8 298.8,183.8 296.8,183.2 295.2,184.8 294.2,184.8 293.2,183.2 292.8,183.8 293.2,187.8 296.2,188.2 296.2,190.8 295.2,191.8 291.8,193.2 290.2,195.2 288.8,195.2 285.8,197.2 284.2,196.8 283.8,197.2 284.2,198.2 282.8,199.8 281.8,199.2 279.8,199.8 278.8,198.8 276.2,199.8 275.2,198.2 273.8,198.2 273.2,199.8 271.8,200.8 270.2,199.2 270.2,200.2 271.8,201.2 271.2,202.8 269.8,202.2 268.2,198.2 266.2,198.2 264.2,196.2 261.2,195.8 261.8,194.8 263.2,194.8 263.2,194.2 261.2,194.2 260.2,195.2 259.8,197.8 260.2,202.2 262.2,203.2 267.8,203.8 268.8,204.8 268.8,206.8 269.8,206.8 271.2,203.8 273.2,203.2 274.2,201.8 277.8,204.2 280.8,204.2 281.8,205.8 282.8,205.2 284.2,206.8 285.2,205.2 286.8,205.2 287.2,206.8 285.8,208.8 284.8,208.8 285.2,211.2 286.8,212.8 286.8,215.2 287.8,215.8 289.2,214.8 289.8,215.8 288.8,216.8 290.8,215.2 292.8,215.8 294.8,215.2 296.2,216.2 297.2,215.8 299.8,216.8 298.2,218.2 301.2,222.2 299.2,224.8 297.2,224.8 296.8,226.8 294.8,227.2 291.8,226.8 291.2,226.2 292.2,224.2 291.8,221.2 290.2,219.2 289.8,220.8 288.2,221.8 287.2,220.2 287.8,218.2 286.8,218.2 286.8,221.8 288.2,222.8 288.2,226.8 286.2,228.2 283.2,224.2 284.8,223.8 285.2,224.8 286.2,224.2 284.8,223.2 284.2,221.8 282.2,221.2 283.8,220.2 284.8,217.8 283.8,217.8 281.2,220.8 278.8,218.8 278.8,217.8 281.8,214.2 282.8,214.2 282.8,213.2 279.2,214.2 278.8,215.8 276.2,217.2 275.2,217.2 273.8,214.8 271.8,217.2 270.2,217.2 266.2,215.2 266.2,212.8 265.2,211.2 266.2,209.8 267.8,209.8 268.2,208.8 267.8,208.2 266.8,209.2 262.8,208.8 258.8,205.8 258.2,206.8 259.8,209.2 257.2,212.8 257.8,215.2 258.2,214.8 259.2,215.2 258.8,219.2 260.8,219.8 259.8,221.2 262.2,222.8 261.8,224.2 263.2,225.8 266.2,224.2 267.2,224.8 267.2,225.8 266.2,226.8 264.8,226.8 264.8,227.8 266.2,228.2 268.8,226.2 270.2,227.2 270.2,228.8 269.2,229.8 266.2,229.8 267.2,231.2 270.2,232.8 269.2,235.2 275.2,242.2 276.2,242.2 277.8,240.2 278.8,240.8 279.2,242.8 278.2,243.2 277.8,245.8 280.2,246.8 279.8,247.8 280.8,248.8 281.8,248.8 283.2,247.2 285.8,249.8 286.2,247.8 284.8,246.8 285.2,246.2 287.8,246.2 288.2,247.2 293.2,246.8 291.2,245.8 292.2,243.2 288.8,242.8 287.2,243.2 286.2,242.2 286.8,240.8 287.8,240.2 288.2,241.2 291.8,240.8 293.2,241.8 294.8,241.2 295.8,242.2 293.8,243.8 296.2,244.2 297.2,245.2 297.2,247.2 296.2,248.2 300.8,251.2 299.8,250.2 299.8,248.2 300.8,247.8 301.2,248.8 302.8,248.8 302.8,247.8 304.2,247.2 303.8,245.2 305.2,244.2 304.8,242.2 305.2,240.2 307.2,239.8 307.8,237.8 309.2,236.2 311.8,236.8 313.2,235.2 312.2,233.8 312.8,231.8 313.8,232.2 317.2,231.8 318.2,232.8 317.2,235.8 315.8,235.2 314.2,236.8 314.8,240.8 317.2,245.2 315.2,245.8 314.8,244.8 312.2,244.8 312.2,246.2 311.2,247.2 310.2,245.8 309.2,245.8 307.8,247.2 307.2,246.8 307.8,248.2 310.2,250.8 310.2,252.2 308.2,253.8 306.8,252.8 305.2,253.8 305.2,254.8 311.2,255.2 312.2,254.2 311.8,252.2 312.8,251.8 313.8,252.8 313.8,254.2 314.8,254.2 315.2,253.2 317.2,254.2 315.2,256.2 315.2,257.8 316.2,257.8 317.2,256.2 318.8,256.2 323.2,259.2 325.2,259.2 325.8,258.2 326.8,258.2 327.2,259.2 326.2,260.2 327.8,260.8 329.2,262.8 330.8,262.8 334.8,268.8 337.2,270.2 336.8,274.8 338.2,275.8 339.8,275.8 342.2,278.2 341.8,279.2 338.2,279.8 338.8,281.8 337.8,282.2 338.2,283.8 338.8,282.2 340.2,281.8 343.8,284.2 343.8,285.8 345.8,284.8 346.8,286.2 342.8,289.8 341.2,288.8 339.8,288.8 338.2,286.8 336.8,289.8 334.2,291.8 333.2,293.8 333.2,296.2 333.8,296.8 334.2,296.2 334.8,292.2 336.2,293.2 338.2,292.2 339.2,293.2 339.8,294.8 338.2,296.2 339.8,297.8 339.8,299.2 341.2,298.8 341.8,299.2 341.2,300.8 342.8,299.8 344.2,300.8 343.8,302.8 346.2,304.8 346.2,307.8 347.2,308.2 348.2,311.2 354.8,317.8 354.8,318.8 356.2,320.2 355.8,321.8 358.2,325.2 362.2,327.8 361.8,329.2 364.8,332.8 365.8,336.2 369.8,338.8 371.2,340.8 373.2,341.2 374.2,340.2 375.8,341.2 377.2,341.2 380.8,339.2 383.2,339.8 384.8,338.2 390.2,338.2 389.8,335.2 390.8,334.8 391.8,336.2 393.8,334.2 394.2,328.8 395.2,327.2 395.2,325.2 393.8,322.8 391.8,321.2 391.2,321.8 388.2,318.8 387.8,316.8 384.8,316.8 377.2,310.8 376.2,311.2 376.8,312.2 376.2,314.2 373.2,315.8 371.8,315.2 371.2,312.8 372.8,311.8 373.8,313.2 374.8,313.2 375.2,312.2 373.8,311.8 373.2,310.8 370.8,310.8 369.2,312.2 370.8,314.2 370.8,316.2 369.2,316.8 367.2,314.8 367.8,312.8 365.8,309.8 365.8,308.2 364.8,307.8 363.8,308.8 360.2,306.8 360.2,305.2 358.8,303.8 359.2,300.2 355.8,296.8 355.8,294.8 361.2,289.8 362.8,289.2 366.8,284.8 368.8,284.2 367.8,282.8 368.8,281.8 368.2,278.8 369.2,276.8 367.8,275.2 370.8,270.8 369.8,269.8 368.2,270.2 367.8,269.2 370.8,266.2 370.8,262.8 371.8,261.8 370.2,260.2 371.8,258.8 372.8,258.8 373.8,260.2 375.8,258.8 374.8,253.8 373.8,252.2 374.8,247.2 373.8,243.8 375.2,242.8 375.2,241.8 373.2,241.2 373.8,239.8 373.2,236.8 374.8,235.8 374.8,233.8 371.8,230.8 371.2,223.8 367.8,218.8 365.8,217.2 366.2,215.2 363.8,212.8 363.2,210.8 358.2,206.2 356.8,205.8 354.2,202.8 352.2,202.2 351.2,201.2 351.8,200.8 351.2,200.2 350.8,200.8 348.8,198.2 347.2,199.8 346.2,198.8 346.8,197.2 346.2,195.8 342.8,192.8 341.2,192.8 339.8,191.2 334.8,190.8 334.2,190.2 334.8,188.2 333.2,186.2 333.2,184.8 333.8,184.2 334.8,185.8 335.8,184.8 334.2,184.8 333.8,182.8 332.8,182.8 331.2,184.8 329.8,184.8 327.8,187.8 326.2,187.8 325.2,186.8 323.2,187.8 321.2,186.2 319.8,186.2 317.8,183.2 317.8,180.8 319.2,179.2 319.2,178.2 315.8,175.8 316.2,175.2 315.8,174.2 313.8,174.2 308.8,170.2 310.2,168.8 310.2,166.8 307.8,165.8 303.8,162.8 302.8,157.8 300.8,157.2 299.8,155.8 298.2,155.2 294.8,150.2 292.8,150.8 288.2,149.2 289.8,148.8 289.8,146.8 286.2,147.8 283.8,144.8 281.8,144.2 279.8,142.2 278.8,142.2 277.8,140.8 271.8,137.8 269.2,137.8 265.2,140.8 264.2,140.2 264.8,138.8 263.2,138.8 262.8,137.8 261.8,137.8 258.2,140.8ZM346.8,277.2 347.8,278.8 348.2,278.2 348.8,279.8 345.8,283.2 344.8,283.2 342.8,279.2 345.2,277.2ZM344.8,264.8 341.2,267.2 338.8,266.2 339.2,265.2 342.2,263.8 343.8,263.8ZM339.8,256.2 341.2,257.2 341.8,258.2 341.2,259.2 339.2,258.8 338.8,257.2ZM341.8,256.2 342.2,254.8 343.8,254.8 344.8,255.8 343.8,256.8ZM343.8,244.8 344.2,245.2 343.2,246.2 343.8,248.8 342.2,251.8 342.2,254.2 341.2,254.8 340.2,251.2 338.8,249.8 340.8,247.2 342.2,246.8 341.2,245.2ZM287.8,244.8 289.2,244.2 289.8,245.8 288.8,246.8ZM300.8,242.2 301.8,244.2 299.2,245.8 298.8,245.2ZM330.8,239.8 331.8,239.8 333.2,241.2 332.8,243.2 329.8,240.8ZM331.8,239.8 332.2,238.2 334.2,239.2 333.2,240.2ZM299.8,239.8 299.8,238.8 301.2,237.8 302.2,235.8 306.2,237.8 305.2,238.8 303.8,238.2 302.8,238.8 301.8,240.2ZM329.8,234.2 331.2,233.8 332.8,235.2 331.2,236.2 329.8,235.2ZM334.8,231.2 335.2,231.8 334.8,233.8 333.2,234.2 332.8,232.8ZM301.8,227.8 303.8,228.8 302.8,230.8 301.2,230.2ZM280.2,226.2 281.2,225.8 282.8,227.2 280.8,228.2ZM276.8,225.2 278.8,224.8 279.2,226.2 277.8,226.8ZM335.2,220.8 335.8,221.8 333.8,223.2 333.2,222.2ZM277.8,219.8 276.8,224.2 275.8,223.8 275.8,222.8 272.2,223.8 271.2,224.8 267.2,224.2 269.2,222.2 271.2,223.2 271.8,221.8 273.2,221.8 275.8,219.2ZM316.2,213.2 316.8,215.2 318.8,217.8 318.8,219.8 319.8,221.2 318.8,222.2 316.2,222.8 316.8,224.8 315.8,225.8 313.8,225.2 311.8,228.2 308.2,227.2 307.8,225.2 309.8,223.2 310.2,219.8 313.2,216.8 313.8,213.8ZM310.8,212.2 312.2,213.2 312.8,214.8 311.8,217.2 308.8,215.8 308.8,214.8ZM291.2,212.2 292.2,212.8 291.8,214.8 290.8,214.2ZM332.2,210.2 333.2,212.2 330.2,213.2 329.2,212.2ZM290.8,198.8 291.8,197.8 292.8,199.2 305.2,198.8 306.2,200.8 309.2,200.8 312.2,202.8 312.2,206.2 307.2,209.2 302.8,209.8 301.8,208.8 300.2,208.8 299.2,209.8 298.2,208.2 291.8,207.2 290.8,206.2 290.8,204.2 291.8,203.2 290.2,202.2 291.2,199.8ZM328.8,189.8 330.8,188.8 331.8,190.2 329.2,190.8ZM310.8,185.8 312.2,186.8 311.2,188.8 310.2,187.8ZM311.2,175.2 312.2,176.8 310.8,178.2 310.2,176.2ZM230.8,133.8 232.2,136.8 231.8,137.8 230.2,136.8 230.2,138.2 231.8,139.2 231.2,143.2 232.8,143.8 234.8,146.8 235.8,145.2 237.8,145.2 237.8,144.2 235.2,143.8 236.8,141.8 236.8,139.8 235.8,137.8 237.2,136.2 237.2,135.2 235.8,133.8 233.2,136.2 232.8,134.2ZM247.2,135.8 246.8,131.8 245.8,133.8 242.2,133.8 241.8,132.8 240.2,132.8 240.2,133.2 241.8,133.2 242.2,134.8 244.2,134.2 246.8,136.2ZM207.2,127.8 206.2,127.8 205.8,131.2 208.2,129.2ZM195.8,115.8 193.8,117.8 193.8,119.2 194.8,120.8 193.2,121.8 193.8,122.8 195.8,123.8 196.8,121.2 198.8,122.2 197.8,121.2 198.2,117.8ZM193.2,113.2 192.8,112.8 190.2,113.2 191.2,114.8 186.8,117.8 190.2,118.2 191.2,116.8 192.8,116.8 191.8,114.8ZM194.2,103.2 192.8,104.2 192.2,106.2 192.8,110.8 195.2,112.8 196.2,112.8 197.2,111.8 197.2,110.2 193.2,109.2 193.2,108.2 195.2,107.2 193.8,106.8 193.2,105.2 195.8,104.8ZM175.8,102.8 177.2,103.8 176.8,105.8 178.2,106.2 180.2,108.2 182.2,108.8 180.8,110.2 181.8,111.8 184.2,111.8 186.2,110.2 186.2,108.8 185.2,106.8 184.2,106.2 184.2,105.2 186.2,104.2 185.2,103.2 183.2,104.2 181.8,103.8 178.8,104.2 177.8,102.8ZM187.8,98.2 186.8,97.8 183.8,99.8 186.8,99.8ZM178.8,96.2 178.2,96.8 178.8,98.8 180.2,100.2 180.2,101.8 181.2,101.8 180.8,100.2 181.2,98.2ZM212.2,95.2 209.2,96.8 212.2,97.2ZM176.2,95.2 174.8,93.8 172.2,95.2 173.2,95.8ZM97.2,95.2 98.2,96.2 101.8,95.8 101.8,94.8 100.8,94.8 99.2,92.8ZM121.2,93.8 122.2,94.8 124.8,95.2 126.8,97.8 130.2,96.8 130.8,97.8 133.2,97.8 136.2,100.2 137.8,100.2 140.2,101.8 143.8,102.2 144.8,101.2 148.8,101.2 151.2,102.2 154.8,101.2 156.2,102.2 158.8,101.8 160.8,103.2 161.8,102.8 159.8,100.8 158.2,100.8 153.8,93.8 152.2,94.8 150.2,93.8 147.8,94.2 145.8,92.8 145.2,93.2 141.2,92.8 140.8,91.8 141.8,90.8 143.8,91.2 143.8,90.2 141.2,91.2 140.2,90.8 138.8,91.8 137.2,91.8 135.8,89.8 134.2,91.8 130.8,91.8 129.2,90.2 126.8,92.2 125.8,91.8 123.8,92.8 122.2,92.2ZM195.8,89.2 194.8,89.2 194.8,91.2 193.8,92.2 194.2,93.8 196.2,92.2ZM191.2,78.8 191.2,80.8 192.8,79.8 194.8,80.2 196.8,81.8 196.8,83.2 197.8,82.8 198.2,80.8 199.8,80.8 201.2,82.2 202.2,82.2 203.2,83.8 204.8,82.8 206.2,86.2 205.8,88.2 206.8,88.8 206.8,87.8 207.8,87.2 208.2,89.8 203.8,93.8 204.2,94.2 206.2,94.2 208.2,95.8 207.2,93.8 208.8,91.8 208.2,90.8 208.8,90.2 210.2,90.8 209.8,92.2 210.8,93.8 210.8,89.2 211.8,88.2 213.2,89.8 215.2,88.8 216.8,92.2 217.8,91.8 220.8,92.2 218.8,93.2 218.8,95.2 216.8,98.8 215.8,98.2 216.2,96.8 214.8,96.2 213.2,99.2 217.8,102.2 216.2,105.8 216.8,106.2 219.8,105.8 220.8,106.8 220.8,108.8 219.2,109.2 218.8,108.2 217.2,108.2 216.8,108.8 217.2,109.8 215.2,110.8 213.8,113.8 212.8,113.2 212.2,111.8 209.2,110.2 208.2,111.8 206.2,112.8 204.2,112.2 203.8,113.2 205.8,113.8 208.2,116.2 207.8,117.2 205.8,117.2 205.2,115.8 204.2,115.8 205.2,119.2 206.8,119.2 207.8,118.2 208.8,119.2 208.8,121.2 210.8,121.2 213.8,119.2 215.2,119.2 217.2,122.2 219.2,121.2 223.8,121.2 224.8,123.2 226.8,124.2 226.2,125.2 228.2,126.8 229.2,126.8 228.8,125.2 230.2,124.8 231.8,122.8 233.8,125.2 232.8,126.8 234.8,126.8 235.8,128.2 236.8,128.2 237.8,126.8 239.2,127.8 240.8,125.8 242.2,127.2 245.2,125.2 243.2,124.8 242.8,123.2 243.8,122.2 245.2,122.8 245.8,120.8 243.8,119.2 242.2,120.8 240.8,118.8 238.8,117.8 240.8,116.8 240.8,115.2 239.8,113.8 237.8,114.8 236.8,112.8 237.8,111.2 237.8,109.8 234.8,109.8 233.8,111.2 232.8,111.2 232.8,113.2 231.8,113.8 230.8,112.8 231.8,110.2 231.2,109.2 229.2,108.8 228.8,107.2 224.8,109.2 224.2,108.8 225.2,106.8 223.8,106.2 222.8,104.8 220.2,105.8 219.2,104.8 219.2,102.8 223.2,100.8 226.2,101.2 225.8,103.2 223.8,102.2 223.8,103.2 225.2,104.2 225.8,105.8 228.2,106.2 226.2,104.8 226.8,103.2 228.2,103.2 229.8,104.8 231.8,105.2 233.2,103.2 234.8,103.8 236.2,102.2 238.2,103.2 239.2,104.8 241.2,102.8 242.2,100.2 241.8,99.8 241.2,100.8 239.8,100.2 240.2,100.8 239.8,102.2 238.2,100.8 235.8,100.8 235.2,101.8 233.8,101.8 233.2,101.2 234.8,98.2 233.2,97.2 231.2,98.2 228.2,94.2 228.8,92.8 230.8,91.8 231.8,94.2 233.2,94.2 235.8,95.8 238.8,94.2 239.8,94.2 240.8,95.8 242.8,95.2 244.2,93.2 244.2,91.2 242.8,89.2 243.2,86.2 242.8,85.8 241.2,85.8 238.2,82.8 234.8,81.2 229.2,81.2 228.8,80.2 228.2,81.2 226.8,81.2 223.8,79.2 222.2,79.2 219.8,76.8 218.2,76.8 217.8,78.2 216.8,78.8 214.8,76.2 212.2,76.2 208.2,77.8 207.2,76.2 206.8,76.8 205.2,75.2 203.8,75.2 202.2,76.8 200.2,75.8 199.2,76.2 195.8,75.8 195.2,76.2 196.2,76.8 195.8,77.8 192.8,77.2 193.2,78.8 192.8,79.2ZM210.2,114.2 212.2,113.8 212.8,115.8 211.2,116.8 210.2,115.8ZM233.8,93.8 234.8,92.8 236.2,93.2 235.8,94.8 234.2,94.8ZM239.2,88.2 239.8,90.2 238.8,92.2 236.8,92.8 236.2,92.2 236.8,90.2ZM228.8,80.8 230.2,83.2 229.2,84.2 227.8,83.2ZM202.8,81.2 203.8,80.8 204.8,82.2 203.2,82.8ZM135.8,48.8 134.2,47.8 132.8,50.2 135.8,50.2ZM818.8,42.2 816.2,41.8 815.2,40.2 812.8,39.8 810.2,40.2 804.8,39.8 802.8,41.2 797.8,41.2 795.8,40.2 790.2,40.2 788.8,41.2 786.2,41.2 785.8,40.2 780.8,39.8 778.8,40.8 776.8,39.8 768.2,39.8 766.8,41.2 764.8,40.2 762.8,40.2 761.8,41.2 756.8,41.2 755.8,40.2 752.2,40.8 747.8,40.2 746.8,41.2 741.8,41.8 732.2,41.2 731.8,41.8 718.2,41.8 711.2,42.8 711.2,50.8 709.2,51.8 709.2,53.2 708.2,54.8 708.2,59.2 710.8,60.8 710.8,65.2 708.8,66.2 708.8,80.8 710.2,80.8 711.2,81.8 711.2,83.8 714.8,87.2 715.8,87.2 717.2,89.8 719.2,90.2 720.8,92.8 725.2,93.8 725.8,95.2 727.2,95.8 730.8,95.8 731.8,95.2 732.8,93.2 734.2,93.2 734.8,90.8 737.2,89.2 737.8,84.2 740.8,80.8 741.2,78.8 743.8,77.2 743.8,75.8 744.8,74.8 746.2,74.8 747.8,72.2 751.8,70.8 756.2,66.2 768.2,65.2 770.8,63.2 782.8,62.2 783.8,60.2 790.8,59.2 792.8,56.8 797.2,56.2 797.2,54.8 798.2,53.8 806.8,53.2 807.8,51.8 812.8,51.8 814.8,52.8 815.8,51.2 818.8,50.2Z" fill="#fee0e0"/>
<path d="M519.8,477.8 519.2,488.8 516.8,490.2 517.2,494.2 520.8,495.2 521.8,496.2 521.2,497.2 519.2,498.2 519.2,500.8 519.8,501.2 519.8,506.2 521.8,506.2 522.8,507.2 522.8,509.2 521.8,510.8 521.8,513.2 519.2,516.8 519.2,521.2 522.2,525.2 522.8,527.2 524.8,528.8 525.2,535.8 527.8,538.8 528.2,541.8 529.2,543.2 530.8,543.8 530.8,545.8 532.2,548.8 533.2,548.8 534.8,551.2 537.2,552.2 537.8,554.8 539.8,555.2 540.8,560.8 542.2,560.8 543.2,562.8 547.2,566.8 549.2,567.2 549.8,568.8 556.8,571.2 563.2,575.8 569.2,581.8 570.8,587.2 573.2,588.8 573.8,593.8 575.8,595.2 576.2,616.8 573.2,621.8 573.8,632.2 572.8,636.8 572.8,640.8 570.2,642.2 569.8,647.2 567.8,649.2 568.2,656.2 567.2,662.2 567.2,668.8 568.2,671.2 569.2,671.2 570.2,672.8 570.8,677.2 567.2,679.2 567.2,683.8 568.2,684.8 567.8,698.2 570.2,699.2 570.8,701.8 572.2,701.8 573.8,699.8 575.8,699.8 577.8,700.8 578.8,695.8 577.8,691.2 579.2,689.2 578.8,669.8 580.2,668.2 581.2,668.2 581.2,666.8 579.8,665.2 579.8,663.8 581.2,662.8 581.2,657.8 582.2,654.2 584.2,653.2 585.2,647.8 588.8,644.2 590.2,644.2 590.2,642.8 591.8,641.2 593.2,641.2 593.2,639.8 594.8,636.8 596.2,636.2 597.8,633.8 600.8,632.2 602.2,632.2 602.2,625.2 603.2,623.8 603.2,621.8 605.2,620.8 605.8,609.2 606.2,608.8 606.2,599.8 605.8,599.2 606.2,597.2 605.8,591.8 606.8,587.2 606.2,582.8 604.8,579.8 602.2,578.8 596.8,573.2 594.8,573.2 593.2,570.2 590.8,569.8 590.2,567.8 588.8,567.8 586.2,566.2 584.8,563.2 584.8,561.8 582.2,561.2 578.8,557.8 578.2,555.8 574.2,554.2 572.8,552.2 570.8,552.2 569.2,549.2 562.2,548.2 560.8,546.2 556.8,545.8 554.8,543.2 550.2,542.8 548.2,540.8 546.8,540.8 545.8,539.8 545.8,537.8 545.2,536.8 543.8,536.2 542.2,533.2 542.2,531.8 541.2,531.8 539.8,530.2 539.8,528.2 537.2,526.8 536.2,523.2 533.8,521.8 533.2,519.2 531.2,517.8 530.8,513.2 528.2,509.2 528.2,505.2 530.2,503.8 530.2,498.8 527.8,497.2 527.8,495.8 529.8,493.8 530.2,490.2 524.8,489.8 524.8,491.2 523.8,492.2 522.2,491.2 521.2,483.2 521.8,480.2 523.2,479.2 523.2,477.8ZM553.8,435.8 552.8,435.8 551.8,437.8 549.8,437.8 548.8,443.8 546.8,444.8 545.8,446.8 540.2,447.8 540.2,453.2 539.2,455.8 537.2,455.8 536.2,453.2 534.8,453.2 533.8,458.2 531.2,459.8 531.8,464.8 533.2,464.8 535.2,462.2 539.2,461.2 539.8,456.2 542.2,455.8 542.8,453.8 543.8,452.8 545.2,452.8 545.2,450.8 546.8,448.8 547.8,448.8 547.8,447.2 548.8,446.2 551.2,445.8 551.8,441.2 552.8,440.2 554.2,440.2ZM401.2,355.8 400.8,356.2 401.8,357.8 401.2,358.2 401.8,361.8 402.8,362.8 403.8,361.8 405.2,361.8 405.8,364.8 408.8,365.8 410.2,367.8 412.2,368.2 412.8,365.8 414.2,364.8 414.2,363.8 410.8,359.8 411.2,358.2 413.2,359.2 412.2,357.2 411.2,357.2 408.8,354.2 408.2,355.8 406.8,356.8 405.2,356.8 404.2,355.8ZM408.2,360.2 411.2,363.2 410.2,364.8 408.8,364.8 407.2,363.8ZM387.2,347.2 388.8,348.2 389.2,352.8 390.8,352.2 391.8,353.2 394.2,353.2 395.2,351.8 396.2,353.8 402.8,353.8 403.8,352.2 406.2,352.2 408.8,350.2 405.8,347.2 401.2,347.2 399.2,344.8 396.8,344.8 397.2,345.2 396.2,346.2 391.2,346.8 390.2,348.2 388.8,348.2 387.8,346.8ZM357.2,320.2 357.2,322.8 360.2,325.2 362.8,324.8 364.2,325.8 364.2,327.8 363.2,329.2 365.2,331.2 366.2,331.2 366.8,329.8 367.8,330.8 366.8,332.2 367.2,334.2 368.2,334.2 369.2,335.8 371.2,335.8 372.2,338.8 375.8,339.2 376.8,338.2 375.8,336.8 377.8,333.8 376.8,333.2 372.8,333.8 372.2,332.8 370.8,332.8 370.2,334.2 369.2,333.8 368.2,330.2 369.8,329.2 367.8,326.2 368.2,325.8 367.8,324.2 366.8,324.8 365.8,322.8 362.8,319.8 361.2,319.8 359.8,320.8ZM348.8,304.8 347.8,306.8 351.2,312.2 353.2,313.8 356.8,313.2 357.8,314.2 358.2,312.2 357.2,311.2 358.2,309.2 354.8,308.8 353.8,307.2 351.8,307.2 350.2,304.8ZM351.2,263.2 350.2,264.8 348.2,264.8 347.8,265.8 348.2,267.8 347.2,268.8 342.2,267.8 343.2,268.8 343.2,269.8 342.2,270.2 339.8,267.8 338.8,267.8 337.8,268.8 337.8,273.2 340.2,274.8 340.8,274.2 342.2,275.8 343.8,275.8 347.2,273.2 348.8,273.2 349.2,273.8 348.2,274.8 348.8,276.2 349.2,276.2 349.2,274.8 350.2,274.2 351.2,276.2 352.8,276.8 351.8,278.2 349.8,277.2 349.8,280.2 347.2,282.8 347.8,284.2 347.2,285.8 348.2,284.2 350.2,284.2 351.2,286.2 350.8,287.8 349.2,287.2 348.2,287.8 347.8,291.8 346.2,292.2 341.2,289.8 339.2,290.2 341.8,290.8 342.8,291.8 340.8,293.2 340.8,295.2 342.2,296.2 341.2,297.2 341.8,298.2 343.2,298.8 345.8,296.8 347.8,296.2 347.8,294.2 349.2,293.8 349.8,295.8 348.8,297.8 351.2,297.2 351.8,295.2 353.8,297.2 353.2,298.2 350.8,298.8 351.8,301.2 352.8,301.8 354.8,297.8 354.8,291.2 356.2,290.8 357.2,289.2 358.2,289.2 357.8,286.8 359.2,285.2 357.8,284.2 359.2,283.2 360.8,283.8 360.8,281.2 359.2,281.8 355.8,279.8 357.2,278.8 357.2,277.8 355.8,276.8 356.2,276.2 359.2,276.2 360.2,277.2 361.2,276.8 358.8,275.8 359.8,273.8 358.2,272.8 359.2,271.2 360.2,271.2 360.2,270.2 357.8,270.8 356.2,269.2 355.8,271.2 354.2,271.8 353.2,270.8 353.2,269.2 352.2,269.2 350.8,267.8 352.2,266.2 353.2,266.8 353.2,265.8 352.2,265.2 352.2,263.8ZM352.2,284.2 353.2,283.8 354.2,284.8 355.8,284.8 356.2,286.2 354.8,287.2ZM356.2,262.8 358.8,261.8 361.2,261.8 360.8,261.2 359.2,261.8 357.2,260.2ZM327.2,231.8 328.8,232.2 328.8,233.2 327.2,234.2 327.2,235.2 328.2,235.2 330.2,233.2 328.8,231.8ZM277.8,239.2 279.8,241.2 282.2,241.8 282.2,242.8 280.8,243.8 281.2,245.8 282.2,243.2 283.8,244.8 286.2,245.2 286.2,243.2 284.2,242.2 285.8,241.2 286.2,238.8 289.2,237.2 292.2,236.8 293.2,238.2 290.8,239.2 291.2,239.8 293.8,239.8 296.2,241.8 299.2,241.2 299.8,240.8 297.8,239.2 300.8,236.8 300.8,235.8 299.2,235.8 296.8,233.2 297.2,231.2 296.8,229.2 292.8,229.8 290.2,228.2 289.8,230.2 288.8,230.8 287.2,229.2 285.2,229.2 284.2,227.8 283.2,230.2 281.2,231.2 281.2,233.8 282.2,234.8ZM273.8,224.2 273.2,226.8 270.2,230.2 268.8,230.2 270.8,230.2 272.2,231.8 271.8,233.8 272.8,234.2 272.8,235.2 271.8,236.2 274.8,237.8 274.2,239.2 275.2,238.2 276.8,238.2 277.8,236.8 278.8,236.8 278.8,234.2 276.8,235.2 276.2,234.8 276.8,231.8 277.8,230.8 277.8,228.8 274.2,226.2ZM259.2,213.2 260.8,215.2 259.8,218.2 261.8,219.8 261.8,220.8 263.2,219.2 264.8,220.2 266.8,220.2 267.2,221.8 265.2,222.2 265.8,223.2 266.8,223.2 268.2,221.2 267.8,217.2 266.8,218.8 265.2,218.8 264.8,218.2 265.8,217.2 265.2,216.2 263.2,216.2 261.2,213.2ZM259.8,210.8 262.2,211.2 263.2,212.2 262.2,209.2 261.2,209.2ZM312.2,207.8 309.8,208.2 305.8,212.2 304.8,211.8 304.2,210.2 302.2,211.2 300.2,211.2 299.2,212.2 297.8,209.2 296.2,209.2 294.8,211.8 292.8,212.2 296.2,215.8 299.8,215.2 301.8,218.2 301.2,219.2 302.8,224.2 298.2,225.8 299.2,226.8 301.2,227.2 304.2,226.8 304.8,227.2 304.2,223.8 305.2,222.8 306.8,223.8 309.2,221.2 310.2,218.2 307.8,215.8 307.8,214.8 309.8,211.2 312.2,211.2 312.8,210.2ZM307.2,216.2 307.8,217.8 306.8,219.8 306.2,216.8ZM261.2,200.2 261.8,201.2 263.8,201.8 262.8,199.2ZM276.2,201.2 276.2,202.2 278.2,202.2 279.2,203.2 281.2,203.2 282.8,204.2 284.8,203.2 285.2,202.2 286.2,202.2 288.2,203.8 288.2,205.8 289.8,206.8 290.2,208.8 291.2,209.8 293.8,209.8 293.8,208.8 291.2,208.2 289.8,205.8 290.2,203.2 288.2,200.2 290.2,199.2 290.2,198.2 288.2,198.2 287.2,197.2 288.2,198.8 287.2,199.2 285.8,198.2 284.2,199.8 282.2,200.2 283.8,201.2 283.8,202.2 281.8,203.2 278.2,199.8ZM294.8,193.8 293.8,195.2 292.8,195.2 293.2,198.2 295.8,197.2ZM297.2,194.8 296.8,196.2 297.8,197.2 299.2,195.2 300.8,195.8 302.8,194.8 303.8,193.2 304.8,194.2 303.8,195.8 304.2,197.2 306.2,198.2 308.2,198.2 313.8,203.2 314.8,203.2 317.2,201.2 318.8,202.2 320.2,198.2 321.2,200.2 324.2,203.2 323.2,203.8 321.8,202.8 319.8,204.2 320.2,206.2 318.8,207.2 316.2,205.8 313.8,206.2 315.8,206.2 316.8,207.2 314.8,209.8 315.2,212.2 316.2,212.8 318.8,212.8 320.2,211.8 321.8,212.8 322.2,211.8 320.8,209.8 322.2,208.8 322.2,207.2 320.2,206.2 321.8,203.8 322.8,205.8 325.2,207.2 325.8,205.8 324.8,205.8 323.8,204.2 325.8,202.2 327.8,203.2 326.8,207.8 323.2,209.2 323.2,210.2 324.8,209.2 326.2,210.8 324.2,212.8 324.8,213.2 324.2,214.2 321.2,215.8 320.8,218.2 321.8,218.8 322.8,217.2 325.2,217.2 325.8,218.8 324.8,219.8 323.2,219.8 324.2,221.2 323.2,222.2 322.2,220.8 320.8,220.8 320.2,222.2 318.2,222.8 319.8,223.8 319.2,225.2 317.8,225.2 315.8,226.8 314.2,226.2 314.2,227.2 312.8,228.8 309.8,230.2 306.2,229.2 305.8,229.8 306.2,232.8 304.8,234.2 302.2,234.2 302.8,235.2 307.2,235.2 307.8,234.8 307.2,231.8 308.2,230.8 309.2,231.2 309.2,233.8 310.8,233.8 311.2,233.2 310.8,231.2 313.8,229.2 316.2,229.8 316.8,227.8 318.2,228.8 319.8,232.2 318.2,236.2 315.8,236.8 315.8,240.8 316.8,241.8 316.8,244.2 317.8,244.2 319.2,246.8 317.2,248.8 315.2,248.8 314.8,250.2 315.2,251.8 316.8,251.8 319.2,253.8 319.8,252.8 318.2,252.2 317.8,251.2 320.8,250.8 321.8,251.8 321.8,254.2 320.8,255.2 319.2,255.2 321.8,257.2 323.2,257.2 323.8,258.2 325.8,257.2 327.2,257.8 329.8,261.2 331.8,262.8 333.8,266.2 335.2,265.2 337.8,265.2 340.2,261.2 338.2,261.2 337.2,260.2 338.2,259.2 337.8,257.2 336.8,256.8 335.8,258.8 333.8,257.8 335.8,255.2 337.8,254.8 339.8,255.2 339.8,252.2 337.8,250.2 338.8,248.8 338.2,246.8 338.8,245.8 338.2,244.8 336.2,245.8 335.2,244.8 336.8,243.8 334.2,245.2 332.8,245.2 330.8,242.8 329.2,244.2 328.8,240.2 330.2,239.2 329.2,236.8 327.8,239.2 325.2,238.2 324.8,237.2 325.8,232.8 324.8,232.8 323.8,231.2 326.2,230.8 329.2,224.8 330.8,225.8 334.2,224.8 332.8,223.2 332.8,221.2 336.8,218.8 339.8,220.2 341.2,220.2 341.8,219.8 340.2,219.2 339.2,217.2 340.2,214.8 341.8,213.8 344.8,214.8 344.8,215.8 342.8,216.8 343.2,221.2 342.2,222.2 342.2,224.8 343.2,227.2 341.2,227.8 338.8,226.2 338.2,224.2 338.8,222.2 337.2,220.8 336.8,221.8 337.8,224.2 336.2,224.8 335.2,226.2 331.8,227.2 332.8,228.2 332.2,230.8 334.2,229.2 337.8,229.2 339.2,227.8 340.8,228.8 340.2,230.8 337.2,234.2 337.8,236.2 335.2,236.8 335.2,238.2 336.2,240.2 337.2,240.2 338.2,238.8 339.2,239.2 338.8,240.8 339.8,243.8 340.8,244.2 343.8,243.8 345.8,245.8 347.2,246.2 345.2,248.2 344.8,251.2 347.8,251.8 348.8,253.8 347.2,255.2 345.8,254.2 345.2,260.8 346.2,262.2 348.2,261.8 346.2,260.8 345.8,258.2 348.8,256.2 351.2,258.2 351.8,259.8 353.2,260.2 356.2,258.8 355.2,256.8 356.8,255.8 357.2,253.2 360.2,251.8 362.2,253.2 362.2,251.2 364.2,249.8 364.8,247.8 368.2,245.2 366.2,243.8 366.2,242.8 365.8,243.2 364.8,242.2 364.8,240.8 368.8,239.2 367.2,237.8 368.8,236.8 368.8,235.8 366.8,234.8 365.8,232.8 364.8,232.2 365.2,230.8 366.8,230.8 367.8,231.8 368.8,231.2 368.8,229.2 366.8,228.8 368.2,227.8 367.8,225.8 368.2,224.2 365.8,222.8 365.8,221.2 363.8,217.8 363.8,215.8 362.2,214.2 362.2,212.2 359.2,211.8 358.2,210.8 358.2,209.2 356.2,208.8 355.2,207.2 352.8,207.2 351.8,208.2 350.2,206.2 348.8,208.2 347.8,206.2 346.2,205.8 344.2,206.2 342.8,204.2 341.2,204.8 340.8,202.2 342.2,199.8 341.2,199.8 339.2,197.2 341.8,195.8 338.2,194.2 337.2,192.2 335.2,192.8 333.8,191.2 332.8,192.2 330.8,192.2 329.2,193.8 327.8,191.8 326.2,192.8 325.8,191.2 327.2,190.8 327.8,189.8 324.8,187.8 321.2,188.2 320.2,187.2 318.8,187.2 319.2,189.2 318.8,190.2 315.8,187.8 313.2,187.2 311.2,190.8 309.8,189.2 308.2,191.8 307.2,188.8 306.2,188.2 304.8,189.2 304.8,190.2 306.2,191.2 305.2,192.2 302.2,191.8 301.2,195.2 300.2,195.2 299.8,194.2ZM324.8,252.2 325.8,254.8 322.8,256.8 322.2,255.2ZM357.8,249.8 357.2,253.2 354.8,255.2 353.8,254.2 351.8,254.2 349.8,256.2 349.2,255.8 349.2,252.8 350.2,249.8 351.2,251.8 354.8,250.8 355.8,249.2ZM329.8,246.2 331.8,245.8 332.2,246.8 330.8,247.8ZM340.2,236.2 340.8,233.8 344.8,234.2 344.2,235.2 342.8,235.2 341.8,236.8ZM323.2,228.2 323.8,230.2 321.8,231.2 320.8,230.2ZM317.8,226.8 319.2,226.2 319.8,227.8 318.2,228.2ZM338.8,211.8 340.2,210.8 341.8,212.8 339.2,213.2ZM353.2,208.8 354.2,209.2 354.2,210.8 356.2,212.2 355.8,213.2 354.2,213.2 354.2,214.2 356.8,214.8 356.2,215.8 353.8,215.8 351.2,213.8 352.2,211.8 353.2,212.8 352.8,211.2ZM327.2,208.8 328.8,208.2 329.8,209.8 332.2,209.2 335.2,211.8 335.8,214.2 335.2,214.8 334.2,213.2 332.8,213.2 331.8,214.2 332.2,214.8 330.2,215.8 328.8,214.2 328.2,211.8 326.8,210.8ZM338.2,204.8 338.8,206.8 337.2,207.2 336.8,205.8ZM311.8,192.2 312.8,191.8 313.8,193.2 312.2,193.8ZM330.8,186.2 330.8,187.2 333.8,188.8 332.2,186.2ZM246.2,159.2 244.8,159.8 245.2,163.8 246.2,163.2 245.8,161.2 246.8,160.2ZM265.8,142.2 264.8,147.8 267.2,148.8 269.8,148.2 272.2,150.8 272.2,151.8 275.8,152.2 277.2,153.8 279.8,153.2 281.8,154.2 282.8,152.2 283.8,152.8 284.8,154.8 284.2,156.2 284.8,160.2 285.2,159.8 287.8,160.2 291.8,162.2 297.2,168.8 300.8,168.2 303.2,171.2 304.2,173.8 306.2,175.2 305.8,175.8 308.8,176.2 310.2,174.8 309.8,174.2 308.2,174.8 307.2,173.8 307.2,172.8 308.8,172.2 308.2,170.8 306.8,171.2 306.2,170.2 303.2,169.8 303.8,167.8 305.8,167.8 305.8,165.2 305.2,164.8 303.8,165.2 300.8,161.2 300.8,159.2 301.8,158.2 299.2,158.8 298.8,158.2 299.8,157.2 298.8,156.2 297.2,156.2 296.2,157.2 293.8,153.8 293.8,152.8 291.2,152.2 290.8,153.2 289.2,153.2 286.8,152.2 285.8,150.8 284.2,150.8 283.8,147.2 282.2,147.2 281.8,145.8 279.8,144.2 279.8,143.2 278.2,143.8 276.8,141.2 274.8,141.2 271.8,139.2 269.2,141.2 267.8,140.8ZM277.2,151.2 278.2,150.2 282.2,150.8 281.8,151.8 280.2,151.8 279.8,153.2 278.2,152.8ZM281.2,146.8 282.2,147.2 281.8,148.8 280.2,148.2ZM237.2,116.2 236.8,118.2 235.8,118.8 235.8,121.2 237.8,120.2 238.8,121.2 238.8,122.8 237.8,123.8 236.2,123.2 234.8,124.8 234.8,125.8 235.8,124.8 237.8,124.8 239.2,126.2 240.8,123.8 239.8,122.8 239.8,120.2 238.2,118.8 238.2,117.2ZM216.2,112.2 216.2,114.8 217.8,116.2 217.8,117.8 220.8,118.2 223.8,119.8 225.2,119.8 226.8,116.8 227.8,116.8 228.2,118.2 229.2,118.8 230.2,115.8 231.2,116.2 230.8,118.2 232.2,118.8 236.2,115.2 235.8,114.8 235.2,115.8 232.8,115.8 231.2,114.2 226.8,114.2 226.2,113.8 226.8,112.2 229.8,111.8 226.8,111.2 226.2,112.2 225.2,112.2 224.8,109.8 222.2,109.8 221.2,111.8 219.8,110.2ZM219.8,114.8 221.8,113.8 223.8,114.8 222.8,115.8 220.8,115.8ZM180.2,107.2 181.8,107.2 182.8,105.8 180.8,105.8ZM130.8,93.8 127.8,92.8 126.2,93.8 126.2,95.8 127.2,96.2ZM132.2,94.8 132.8,96.8 134.8,95.8 135.8,96.8 135.8,98.2 137.2,99.2 138.8,99.2 139.8,100.8 148.8,100.2 150.2,98.8 151.8,99.8 151.8,100.8 155.2,99.8 155.2,98.2 152.8,95.8 150.8,97.2 149.8,95.2 144.8,95.8 143.8,94.8 141.8,94.8 139.8,93.2 137.2,93.2 135.8,92.2 134.2,94.2ZM238.2,84.2 235.8,84.2 231.8,88.8 230.2,87.8 229.8,89.8 231.2,91.2 235.8,91.2 236.2,90.2 234.8,89.2 235.2,87.2 238.2,85.2ZM221.2,79.8 218.2,81.2 216.8,81.2 218.2,86.2 218.2,87.8 217.2,89.2 218.2,90.8 220.2,90.8 220.8,89.2 219.8,89.2 218.2,87.8 219.2,86.2 221.2,87.2 221.8,85.8 223.2,85.2 223.8,88.2 224.8,89.2 226.8,85.8 226.2,83.8ZM214.2,77.2 213.2,77.2 214.8,78.2 213.8,79.8 212.8,79.8 210.8,81.8 208.8,81.2 209.2,83.2 208.8,85.2 210.2,83.8 211.2,83.8 212.2,87.2 213.2,85.2 214.2,85.2 215.8,86.8 215.8,84.8 214.2,83.8 214.2,81.2 215.8,80.2 215.8,79.2ZM711.2,80.2 713.2,80.8 714.2,81.8 714.2,83.2 716.8,84.8 717.2,86.8 718.8,87.2 720.2,89.8 722.8,90.2 723.8,92.2 725.2,92.2 726.8,93.2 731.2,93.2 732.8,92.2 734.2,92.2 734.8,87.8 737.2,85.8 737.8,81.2 739.8,79.8 741.2,76.2 743.2,75.2 746.8,71.8 749.2,71.2 749.8,69.2 751.8,68.8 753.8,65.8 763.8,65.2 764.8,64.8 765.2,63.2 779.8,61.8 780.2,60.2 785.8,59.2 789.2,56.8 791.8,56.8 794.2,55.8 794.8,54.2 800.2,52.8 801.2,51.2 817.8,50.2 818.2,49.8 818.2,42.8 812.2,41.8 810.8,42.2 785.2,42.2 784.8,41.8 782.8,42.2 777.8,42.2 777.2,41.8 755.8,42.2 753.2,41.8 752.8,42.2 720.2,42.2 716.8,42.8 715.8,44.2 713.8,45.2 714.2,53.8 713.2,55.8 711.8,56.8 712.2,61.8 713.8,63.2 713.8,65.8 711.8,66.2Z" fill="#ffffff"/>
<path d="M577.8,677.8 574.8,677.2 572.8,678.8 571.2,678.8 569.8,681.8 570.8,685.8 573.8,687.8 573.8,689.2 572.8,690.2 570.2,690.8 570.2,692.8 572.8,694.2 570.8,696.2 570.8,698.2 572.2,698.8 575.8,698.8 575.8,690.2 576.8,689.2 578.2,689.2 578.2,687.8 576.2,686.8 576.2,681.8 578.2,680.8ZM523.2,511.2 522.8,515.2 521.2,516.8 520.2,516.8 519.8,521.2 521.2,521.8 522.2,522.8 522.2,524.2 524.8,525.8 525.8,536.8 527.2,536.8 528.2,537.8 529.2,542.2 531.2,543.2 531.2,545.8 534.8,549.2 536.2,549.2 537.8,552.2 539.8,552.8 540.8,557.8 542.2,558.8 543.8,562.8 547.8,564.8 550.8,568.8 552.8,569.8 554.8,569.8 555.2,570.8 563.2,575.8 570.2,582.2 570.2,584.2 572.8,585.8 573.8,590.2 575.8,591.8 576.8,596.2 576.2,605.8 577.2,612.8 576.8,619.8 575.2,621.8 575.8,626.2 574.8,627.8 575.8,632.2 573.8,633.8 573.8,640.8 572.2,642.8 570.8,643.2 569.8,652.2 570.2,659.8 568.2,663.8 568.2,668.2 569.2,668.2 570.2,669.8 570.8,674.2 574.8,675.8 576.2,674.8 576.2,672.8 578.2,671.2 579.2,654.8 581.2,654.2 581.8,651.8 584.2,650.2 584.8,646.2 585.8,644.8 587.8,644.2 587.8,642.2 590.8,639.2 593.8,638.2 594.2,634.2 595.2,633.2 599.8,632.2 600.2,624.8 602.8,623.2 603.8,615.8 605.2,614.2 605.2,612.8 603.8,611.2 603.8,610.2 605.2,609.2 605.8,607.8 605.8,602.2 605.2,601.8 605.8,584.8 605.2,582.8 603.2,582.2 602.2,581.2 602.2,579.8 599.8,578.8 599.2,576.2 597.2,576.2 593.2,572.8 592.2,572.8 590.8,570.2 588.8,570.2 587.2,568.8 587.2,567.8 585.8,567.8 584.8,566.8 584.8,564.2 582.2,563.8 581.2,561.8 579.8,561.8 578.2,560.2 578.2,558.8 575.8,557.2 575.8,555.8 573.2,555.2 571.8,552.8 567.8,551.2 566.8,549.8 561.2,549.2 559.2,547.2 555.2,546.2 554.2,543.8 546.8,542.8 545.8,540.8 543.2,539.2 542.8,534.8 540.2,533.2 539.2,528.8 537.2,528.2 536.2,525.8 533.8,524.2 533.8,522.2 531.8,521.2 530.8,516.8 529.8,515.8 526.2,515.8 525.2,514.8 524.2,511.2ZM522.8,498.2 522.2,500.2 524.2,500.8 525.8,503.8 527.2,503.8 527.8,502.8 527.2,498.8ZM535.2,459.2 534.2,460.8 536.2,461.2 536.2,459.8ZM401.2,348.8 399.2,347.2 398.8,345.8 395.2,347.8 393.2,347.2 393.8,350.8 397.2,350.8 398.2,351.8ZM396.2,348.8 397.2,347.8 399.2,348.2 398.8,349.8ZM355.2,309.8 353.8,309.2 353.2,308.2 351.2,309.2 351.8,311.2 353.2,310.2 355.2,310.2ZM353.2,279.2 351.2,280.2 351.2,281.8 349.8,282.8 352.2,281.8 353.2,280.8ZM327.2,256.8 329.2,259.2 331.2,260.2 331.2,261.2 332.8,261.2 334.2,262.8 334.2,263.8 335.8,264.2 335.8,262.8 336.8,261.8 335.2,261.8 333.8,259.2 332.2,259.2 329.2,255.2ZM334.8,250.2 333.8,251.2 335.8,252.8 336.2,251.2 335.8,250.2ZM333.2,246.8 333.2,247.2 335.8,247.2 336.8,248.8 338.2,248.2 336.2,246.2ZM343.2,238.8 341.8,238.8 340.8,240.8 342.8,240.2ZM322.2,234.8 320.8,238.2 318.8,236.8 317.2,237.2 316.2,238.8 316.8,239.8 319.8,240.2 319.2,242.8 317.2,243.8 320.8,244.2 321.2,243.2 322.8,243.8 319.8,246.2 319.2,248.8 317.8,249.8 318.8,250.2 321.2,249.2 322.8,250.2 323.2,252.2 324.8,251.2 326.2,253.2 328.2,249.8 328.8,250.2 330.8,249.8 332.2,248.2 330.8,248.8 326.8,245.2 327.8,243.2 322.8,239.2 323.8,237.8 321.8,236.2 322.8,234.8ZM291.2,230.2 292.8,231.2 293.2,234.2 295.8,233.8 295.2,232.2 295.8,230.2 294.2,230.2 293.2,231.2ZM286.2,229.8 285.2,229.8 284.2,231.2 284.8,233.8 283.2,236.2 280.8,237.8 280.8,239.2 281.8,240.2 283.8,240.2 283.8,239.2 287.2,235.8 289.8,235.8 289.2,232.8ZM272.2,228.8 272.2,229.8 274.2,228.8 276.8,230.8 276.8,228.8 275.2,228.8 273.8,227.8ZM331.2,216.8 328.8,218.2 327.8,221.8 326.8,221.2 326.8,219.2 326.2,219.2 325.2,221.2 325.8,224.2 327.8,224.8 330.2,222.8 331.8,219.2ZM359.8,215.2 356.2,217.2 354.8,219.2 353.8,218.8 353.8,217.8 352.8,217.8 350.2,222.2 348.8,221.2 349.2,218.2 346.8,217.2 344.8,218.2 344.8,220.2 342.8,222.8 343.8,224.8 344.8,225.2 344.2,228.2 341.2,230.2 341.8,230.8 343.8,228.8 344.8,228.8 346.8,231.2 345.2,232.8 345.8,235.2 344.2,235.8 343.8,236.8 345.8,237.8 345.2,240.8 347.8,241.2 349.8,243.2 349.8,246.2 350.8,246.8 350.2,248.2 351.2,247.2 356.8,248.2 358.8,246.2 360.2,246.8 360.2,248.2 361.8,248.2 361.2,242.8 362.8,241.2 362.2,228.2 363.2,223.8 362.2,222.2 362.2,219.2 359.2,217.8 358.8,216.2ZM351.2,242.8 352.2,243.2 352.8,244.8 351.8,246.8 350.8,246.2ZM303.8,211.2 304.2,214.2 307.2,214.2 307.2,213.2 304.8,213.2ZM316.2,209.2 316.2,210.2 317.2,210.8 319.8,210.8 317.8,209.8 317.8,208.2ZM342.8,207.2 342.2,209.8 344.8,211.2 346.2,211.2 347.2,208.2 345.2,208.8 343.8,207.2ZM339.8,206.8 338.8,208.8 335.8,208.2 334.2,208.8 336.2,211.8 336.2,216.2 338.2,218.2 338.8,217.2 337.8,215.8 338.2,210.8 340.8,209.2ZM335.2,193.8 333.8,194.8 327.8,194.2 328.8,195.8 327.2,196.8 326.2,196.2 324.8,197.8 324.8,199.2 326.2,199.2 327.2,200.2 327.2,201.8 329.2,202.2 330.8,204.8 331.8,203.8 333.2,204.8 331.8,205.8 332.2,207.2 334.8,207.2 335.8,205.2 335.8,203.2 336.8,202.2 337.8,202.8 340.2,200.2 338.8,198.8 338.8,195.8 336.8,195.2ZM309.8,193.8 308.8,194.2 309.2,196.2 308.2,197.2 311.2,200.2 313.2,196.8 312.8,194.2ZM320.2,192.8 316.8,194.2 319.8,195.2 319.8,196.2 318.2,196.8 318.8,198.2 319.8,196.2 323.2,196.8 323.2,195.2 321.8,194.2 320.2,195.2 319.2,194.2 319.2,193.2ZM315.8,190.2 312.8,190.2 314.2,193.2ZM285.8,153.8 288.2,154.8 286.2,156.8 288.2,157.2 291.2,161.2 292.8,161.8 295.2,164.8 295.2,162.2 296.8,160.8 296.8,159.2 294.8,158.2 294.8,156.8 292.8,154.8 292.8,153.8 288.8,154.2 286.8,153.2ZM291.8,154.8 292.8,155.2 292.2,157.8 290.8,157.2 290.8,155.8ZM269.2,144.8 269.2,146.2 272.2,148.2 273.8,150.8 275.2,150.8 279.8,146.8 278.8,144.8 274.8,142.8 273.8,142.8 272.2,144.2ZM136.8,95.8 136.8,97.8 139.2,98.8 139.8,99.8 141.8,98.8 144.2,99.8 148.2,98.8 148.2,97.2 147.2,96.8 139.2,95.8 138.2,94.2ZM712.8,76.8 714.2,77.8 714.8,80.2 716.8,80.8 717.2,82.8 720.2,84.8 720.8,86.8 722.2,86.8 724.2,88.8 725.2,88.8 726.8,90.2 726.8,91.8 730.8,92.2 731.8,89.8 734.8,86.2 735.2,81.8 737.2,80.8 737.8,78.2 738.8,77.2 740.2,77.2 740.8,72.8 741.8,71.8 746.2,71.2 747.2,66.8 748.2,65.8 751.8,65.8 756.2,62.8 767.8,62.2 768.8,60.2 770.2,60.2 771.2,61.8 772.8,62.2 773.8,61.8 774.2,60.2 779.2,59.8 783.2,56.8 785.8,56.8 789.2,53.2 797.2,52.8 797.2,51.8 798.8,50.2 815.2,49.8 816.2,43.8 815.8,42.8 789.8,42.8 788.2,44.2 787.2,44.2 786.2,42.8 777.8,42.8 777.2,42.2 755.8,42.8 753.2,42.2 752.8,42.8 743.8,42.8 740.2,43.8 732.8,43.2 731.8,45.2 729.8,45.2 728.2,42.8 726.8,42.8 725.2,45.2 720.8,45.2 717.8,46.2 717.2,48.2 717.8,55.8 716.8,60.2 717.2,65.2 714.8,67.2 714.2,74.8ZM739.2,59.2 740.8,60.8 739.8,62.8 738.2,62.2 738.2,60.2ZM731.8,48.2 732.2,50.2 729.8,50.8 728.8,51.8 728.8,53.2 727.2,54.2 726.2,53.2 725.8,48.8 726.8,47.8Z" fill="#daf4fd"/>
<path d="M522.8,516.8 522.2,521.2 524.8,523.2 525.8,530.8 527.8,532.2 527.2,535.8 528.8,537.2 529.2,539.2 530.8,539.8 531.8,545.2 533.8,545.8 534.8,548.2 536.2,548.2 537.8,549.8 537.8,551.2 539.2,551.2 540.2,552.2 540.8,554.8 542.8,555.2 543.2,560.2 545.2,560.8 546.8,563.8 550.8,564.2 553.2,568.2 557.8,570.8 557.8,572.2 563.2,575.8 565.8,578.2 569.2,579.2 570.2,581.2 572.8,582.8 573.8,587.2 575.8,588.2 576.2,593.2 578.8,594.8 578.8,600.2 577.2,603.2 577.2,605.2 578.8,606.2 578.2,610.8 579.2,612.2 579.2,614.8 578.8,615.2 578.8,620.2 576.2,621.8 575.8,641.8 573.8,642.2 572.8,647.2 570.8,648.2 570.8,652.8 572.8,654.8 572.8,659.2 570.8,660.8 570.2,669.2 571.2,671.8 573.2,671.8 575.2,670.8 575.8,666.8 577.8,665.2 577.8,663.2 576.2,662.8 576.2,660.2 578.2,659.2 578.2,654.8 579.2,652.2 581.8,650.8 581.8,648.8 582.8,647.8 584.2,647.8 585.2,642.8 587.8,641.2 587.8,639.8 588.8,638.8 590.8,638.8 591.2,637.2 593.2,636.2 593.8,633.8 594.8,632.8 597.2,632.2 597.2,630.2 599.2,629.2 599.2,625.2 601.8,622.8 602.8,620.2 602.8,609.2 603.2,606.8 604.8,605.2 604.8,603.8 603.2,602.8 602.8,599.2 603.2,596.8 604.8,595.8 602.8,593.8 603.2,585.2 600.8,584.2 599.8,579.2 598.2,578.8 596.8,576.2 593.8,575.8 593.2,573.8 588.8,572.8 587.8,570.8 585.8,570.2 584.8,569.2 583.8,565.2 578.8,563.8 578.2,561.8 576.8,561.8 575.8,560.8 575.8,558.8 572.8,555.8 570.8,555.2 569.2,552.2 562.2,551.8 560.2,549.2 555.8,548.8 554.2,545.8 550.2,545.8 548.8,543.2 546.2,543.2 544.2,542.2 542.8,539.8 542.2,536.8 540.2,535.8 539.2,532.2 537.2,530.8 537.2,529.2 534.2,527.2 532.8,523.2 530.8,521.8 530.2,518.8 525.2,518.8 524.8,516.8ZM287.2,231.8 284.2,235.8 284.2,236.8 285.8,236.8 287.2,234.2 288.8,234.8ZM345.8,220.8 344.2,222.2 344.2,223.8 345.8,225.8 345.8,228.8 347.2,229.8 346.8,235.2 347.8,235.8 348.2,233.8 349.8,234.8 349.2,236.8 347.8,237.8 349.8,239.2 349.8,240.8 351.8,241.2 352.8,242.2 352.8,243.8 355.2,245.8 356.2,245.2 356.8,242.2 358.8,240.2 357.2,232.8 358.2,232.2 359.2,233.2 359.8,232.2 358.2,230.8 358.2,229.8 360.8,226.2 359.8,224.8 360.2,223.2 359.8,220.8 356.2,220.2 354.8,222.2 353.8,222.2 352.2,223.8 350.2,223.2 348.2,223.8 347.2,222.8 347.2,220.8ZM350.8,237.8 351.8,237.2 353.8,239.8 352.2,240.2 350.8,238.8ZM334.2,199.2 333.8,198.2 331.2,197.2 332.2,195.8 331.2,196.8 329.2,196.2 327.8,197.2 326.2,197.2 325.8,198.2 328.8,199.8 329.8,199.2 333.8,199.8ZM272.2,145.8 272.8,147.8 275.2,148.8 275.8,148.2 275.2,144.8ZM139.8,96.8 139.2,97.8 139.8,98.8 140.8,98.8 141.2,97.8 140.8,96.8ZM729.8,80.8 729.8,83.8 731.2,83.8 731.8,82.8 731.2,80.8ZM785.8,46.2 784.8,45.2 777.8,44.8 776.8,43.2 775.2,42.8 773.2,44.8 768.2,45.2 756.2,45.2 755.2,44.2 753.8,44.2 752.2,45.2 744.2,45.2 743.8,47.8 741.2,48.8 741.2,52.8 741.8,53.8 743.2,53.8 744.2,54.8 744.8,56.8 761.2,57.2 762.2,54.8 764.2,54.2 764.8,56.8 765.8,57.8 766.8,57.8 768.2,59.2 773.2,59.8 774.8,58.8 776.2,58.8 777.2,56.8 779.8,56.2 779.8,54.8 782.2,53.2 782.2,51.8 785.2,49.8ZM763.2,48.2 764.8,49.2 763.8,50.8 762.2,49.8Z" fill="#7bbdd1"/>
<path d="M574.8,662.8 570.8,663.2 571.2,668.2 572.2,668.2 573.8,665.8 575.2,665.8 575.8,664.2ZM525.2,519.8 526.2,527.8 527.8,528.8 527.8,530.2 528.8,531.8 528.8,535.8 531.2,537.2 531.8,542.8 532.8,542.8 534.8,545.8 536.2,545.8 537.2,548.2 539.2,548.8 540.2,549.8 540.2,551.2 542.8,552.8 544.2,559.8 545.2,559.8 546.8,561.2 547.2,563.2 551.8,563.8 553.2,566.2 557.2,566.8 558.2,567.8 558.8,571.8 561.8,573.2 563.2,573.2 563.8,575.2 564.8,576.2 566.2,576.2 567.2,578.2 572.2,579.2 573.8,582.8 573.8,584.8 575.2,584.8 576.2,586.2 576.8,590.8 578.8,591.8 579.8,595.2 579.2,596.2 579.2,611.2 580.2,612.8 580.2,614.2 579.2,615.8 579.2,620.8 578.2,623.2 576.8,624.8 576.8,626.2 578.8,627.8 578.8,631.8 576.8,633.2 576.8,641.2 575.8,642.8 575.8,644.2 573.2,645.8 572.8,649.2 573.8,653.8 577.8,653.8 579.2,649.2 582.2,647.2 582.8,645.2 584.2,644.8 585.2,639.8 588.2,638.2 590.2,638.2 591.8,634.8 593.8,632.8 596.8,631.8 597.2,624.8 599.2,623.8 599.8,622.8 599.8,619.2 602.2,617.8 602.2,606.2 602.8,605.8 602.2,594.8 599.8,593.2 599.8,591.8 600.8,590.8 602.2,590.8 602.2,588.2 600.2,587.2 599.8,582.2 597.2,580.8 596.2,577.8 593.8,576.2 590.8,575.8 589.8,574.2 587.8,573.2 586.2,573.2 584.8,571.8 584.8,570.2 581.8,568.8 581.8,566.8 580.8,564.8 576.2,564.2 575.2,561.2 573.2,560.8 572.8,558.2 571.2,558.2 570.2,557.2 568.8,552.8 566.2,552.2 561.8,552.8 560.8,551.8 559.2,551.8 557.2,549.2 555.2,549.2 553.8,546.2 549.8,546.2 548.2,543.8 543.2,543.2 541.2,542.2 540.8,538.2 539.2,536.2 539.2,534.8 537.8,534.8 534.2,532.2 534.2,528.8 533.2,527.8 533.2,526.2 530.8,524.8 530.8,522.2 529.8,520.2ZM597.8,612.8 598.8,612.2 599.8,613.8 598.2,614.2ZM357.8,223.2 354.8,226.8 350.8,225.2 348.2,225.2 347.8,224.2 346.8,224.2 349.2,226.8 348.2,228.8 349.2,229.8 349.8,232.2 351.8,232.8 352.8,234.2 356.2,233.2 356.2,228.8 357.8,227.8 356.8,225.8 358.2,224.2Z" fill="#5b9fcd"/>
<path d="M574.8,647.2 573.8,648.2 573.8,650.8 575.8,650.8 575.8,647.8ZM576.2,642.8 576.8,645.2 580.8,645.2 581.8,643.8 581.2,642.2ZM532.2,537.2 532.2,539.8 533.8,540.2 533.8,542.2 535.2,543.2 536.8,543.2 537.8,546.2 538.8,546.2 539.8,548.2 542.8,550.2 543.8,554.8 544.8,554.8 545.8,555.8 545.8,557.2 548.2,559.2 549.8,563.2 554.2,563.2 555.8,564.2 557.2,564.2 558.2,566.2 560.8,567.8 561.8,571.2 564.2,572.8 564.8,575.2 572.2,576.2 573.8,578.8 575.2,578.8 576.2,579.8 576.8,586.2 577.2,587.2 578.8,587.8 579.2,590.8 581.8,592.2 582.2,596.2 579.8,597.2 579.8,605.8 581.8,606.8 582.2,615.2 581.8,617.8 580.2,618.2 580.2,620.2 579.2,621.8 579.8,626.8 578.8,634.8 579.8,638.2 581.2,638.2 582.8,639.2 586.8,638.2 588.2,635.8 590.2,635.2 590.2,632.8 588.2,631.8 589.2,630.2 590.2,630.2 591.2,632.2 593.8,632.2 594.2,631.2 593.2,628.2 594.8,626.2 595.8,626.2 596.8,623.8 596.8,618.8 597.8,617.8 600.2,617.2 599.8,615.2 597.8,615.2 596.8,614.2 596.8,612.2 599.8,610.8 600.2,603.2 599.2,602.2 599.8,594.8 596.8,593.2 597.2,588.2 599.2,587.8 599.8,586.8 599.2,582.8 596.8,582.2 595.2,579.8 594.2,583.8 593.2,584.8 591.8,584.8 589.8,580.8 591.2,578.8 591.2,576.8 586.2,575.8 584.2,573.2 583.8,570.8 582.2,570.8 580.8,569.8 576.2,570.8 573.8,570.2 572.8,569.2 571.8,559.8 569.8,558.8 568.8,555.2 566.8,555.8 566.8,559.2 565.2,560.2 563.8,555.8 561.8,555.8 560.8,554.8 560.8,552.8 558.8,552.2 557.2,554.8 555.8,554.8 555.2,550.2 551.8,546.8 549.2,546.8 547.8,545.8 540.8,545.8 539.2,539.8 534.2,540.2 533.2,539.2 533.2,537.2ZM595.2,597.2 596.8,598.2 596.8,599.8 597.8,601.2 596.8,602.8 594.2,602.2 594.2,598.2ZM585.8,594.2 587.8,594.8 587.8,596.2 586.8,597.2 584.8,596.2ZM595.2,584.8 596.8,585.8 596.2,587.2 594.2,586.8ZM585.8,583.2 586.8,582.8 587.2,584.8 590.2,585.2 590.8,587.2 586.2,588.2 585.2,587.2ZM579.2,582.8 581.2,582.2 581.8,584.2 579.8,584.8ZM582.2,580.8 583.2,579.8 584.8,580.2 584.2,581.8ZM575.8,573.8 576.8,572.8 578.2,572.8 579.2,574.8 576.2,575.2ZM553.2,555.2 554.8,555.8 553.8,557.8 552.2,556.8ZM528.8,528.8 528.8,530.2 533.2,529.8 532.8,528.8 530.8,528.2ZM349.8,229.8 350.2,231.2 353.8,231.2 354.2,229.2 351.8,228.2Z" fill="#4493cb"/>
<path d="M582.8,621.8 582.8,623.8 584.2,624.2 584.8,625.8 582.2,626.8 581.8,629.8 584.8,630.2 585.2,635.2 587.2,635.2 587.8,624.8 585.2,624.2 584.8,622.2ZM591.2,619.2 591.8,620.2 593.8,620.2 593.2,618.2ZM584.2,610.8 582.8,611.8 582.8,614.8 584.8,614.2ZM588.8,597.8 588.8,599.2 587.2,600.8 585.2,600.8 585.2,602.2 582.2,603.8 583.2,609.2 584.2,609.8 590.2,608.8 591.2,609.8 591.2,612.2 594.2,612.2 595.2,613.2 594.2,615.2 594.2,617.2 594.8,617.8 598.8,617.2 599.2,616.2 596.8,615.8 595.2,612.8 596.2,611.8 596.2,609.2 598.8,608.2 599.2,607.2 596.8,606.2 594.2,606.2 593.2,604.8 593.2,603.2 591.2,602.8 590.2,598.2ZM584.8,602.8 586.8,602.2 588.2,603.2 590.2,603.2 590.8,605.2 585.8,606.8 584.8,605.8ZM570.8,570.2 570.2,572.2 572.2,572.8 572.8,571.2ZM566.2,568.2 567.2,569.8 569.2,569.8 569.2,567.8ZM555.8,560.8 555.8,563.2 557.2,563.2 557.8,561.8ZM557.2,555.8 555.8,556.2 556.2,558.2 557.8,557.2ZM543.8,546.8 543.8,548.8 545.8,549.2 546.8,554.8 550.2,558.8 550.2,559.8 554.2,559.8 551.2,558.2 551.2,554.8 549.2,554.2 549.2,552.8 551.8,551.8 551.8,549.8 546.2,548.8 545.2,546.8Z" fill="#2272b5"/></g>
<path d="M562.7,401.7 565.6,407 566.4,412.9 563.9,413.7 561.4,408.7Z" fill="#fff" stroke="#000" stroke-width="0.5"/>
<path d="M80,38 136.5,38.3 136.5,42.1 136.5,46 139.1,46.9 141.7,47 144.4,46.3 147,46.6 149.7,46.6 152.2,47.4 154.9,47.3 157.7,47.7 160.4,48.5 163.4,47.5 166,49.8 168.9,49.2 171.7,49.7 174.2,51.7 179.2,52.5 181.7,49.2 185.2,48.6 188.4,47.3 191.2,46.9 194,46.4 196.8,46.3 199.1,44.5 201.3,42.6 203,40.2 205.2,38.3 228.6,38.3 229,41.2 228.8,44.1 229.4,47 232.1,46.6 234.7,46.3 237.4,47.3 240,46.8 242.7,46.2 245.4,46.8 248,47.3 250.8,47.2 253.6,46.9 256.4,46.8 259.1,47.8 261.9,48.4 264.7,48 267.5,48.2 270.3,48.2 273.1,49.1 275.9,49.5 278.7,49.3 281.5,49.7 286.5,50.4 289.3,51.8 292.1,53.2 295.3,53.7 298.2,55 300.9,55.9 303.2,57.6 306.1,57.8 309,57.7 312,58.2 314.9,57.6 317.7,56.5 320.7,56.4 323.7,55.9 326.7,55.9 330,54.8 333.4,55.6 336.7,55.4 338.6,58.7 340.9,61.7 345.1,63.7 347.1,60.4 344.9,58.1 343.4,55.4 346.5,55 349.2,53.6 351.8,52 355.1,52.8 358.4,53.2 361.8,53.4 365,54.7 368.6,54.4 371.8,55.9 375.1,56.8 378.5,57.4 381.9,57.6 384.9,56.9 387.7,58.3 390.7,58.3 393.6,58.7 396.4,59.6 399.4,59.3 402.2,60 405.1,60.6 408,60.9 411.8,57.6 414.2,58.9 416,60.9 420.2,58.4 423.5,55.1 427,54.2 430.2,52.6 432.7,50.9 435.2,49.2 436.3,46.6 436.6,43.7 438.3,41.2 438.6,38.3 446.1,38.3 446,41.2 446.6,44.1 446.4,47.1 446.9,50 449,52.6 452,54.2 455.3,50.9 460.3,50 462.2,53.2 465.4,55.1 467.7,56.6 468.7,59.2 471.2,61.8 473.6,60.5 475.4,58.4 478.1,56.1 480.4,53.4 481.2,50.9 482.1,48.4 484.4,47 487.1,46.7 490.4,47.7 493.9,46.5 497.2,47.5 500.4,49 503.8,50 503.5,53.4 504.7,56.7 503.8,61.8 500.9,64.2 497.2,65.1 494.4,65.8 491.7,66.9 488.8,66.8 486,66.9 483.1,66.5 480.4,67.6 476.2,68.8 472.6,70.3 470.4,73.5 466.9,73.9 463.6,72.7 460.3,71.8 457.6,70.9 454.9,69.8 452,70.1 455.3,71.8 458.7,73 461.5,73.1 464.2,74.2 467,74.6 471.2,75.5 469.1,77.9 467,80.2 463.7,81.6 460.3,82.7 457,83.7 453.6,83.6 450.3,84.4 446.9,85.5 443.6,86.9 440.8,88 438,89.2 435.2,90.2 433.4,92.4 430.9,93.7 428.5,95.2 426.6,97.1 425.9,99.7 424.4,101.9 424.3,105.4 422.7,108.6 423.1,111.9 425.7,113.2 428.6,113.3 431.4,113.6 431.8,116.9 434.2,119.2 435.6,122 438.7,122.3 441.9,122.4 444.8,123.7 448.1,125 451.3,126.2 454.9,125.3 457.6,126.2 460.1,127.5 462.3,129.4 464.9,130.4 467.7,130.6 470.3,131.6 473,132.2 475.6,133.1 478.3,133.7 481.6,134.6 485,134.2 488.3,134.5 491,135.3 493.9,134.9 496.7,135.4 497.8,138.8 499.2,142.1 500.8,145.3 500.1,148.8 502.7,150.1 504,152.9 506.5,154.2 508.4,156.3 510.7,158.2 513.4,159.6 516.9,158.6 520.1,157.1 522,154.9 522.6,152.1 521.8,148.6 520.1,145.4 519.4,141.9 517.6,138.7 520.1,137.5 522.5,136.1 525.2,135.4 527.2,133.4 529.4,131.9 531.8,130.4 534.4,127 532.5,123.9 531.8,120.3 529.9,118 528.5,115.3 525.1,113.6 521.8,111.9 524.4,110.4 526.8,108.6 527.1,105.2 527.7,101.9 525.5,99.9 525.2,96.9 523.5,92.7 528.5,91.9 531.8,91.3 535.2,90.9 538.5,90.2 541.5,90.8 544.4,90.5 547.3,89.8 550.3,90.2 553.2,90.9 555.4,93.4 558.6,93.5 560.8,95.1 562.8,96.9 565.1,98.4 568,98.6 571.8,99 575.5,100.2 575.7,103.6 576.4,106.9 578,111.1 580.1,112.7 582.3,114.2 584.7,115.3 587.6,114.8 590.3,113.7 593.1,112.8 596.5,111.2 599.8,109.4 601.3,106.4 604,104.4 607.3,104.4 609.1,106.6 611,108.6 612.4,111.1 614.3,113.1 616.5,114.9 618.2,117 620.2,119.2 622.4,121.2 624.9,122.8 621.6,126.2 624,127.8 626.5,129.3 629.1,130.6 631.6,132 634.2,132.8 636.6,134 639.2,134.9 641.6,136.2 644.3,137.2 647.2,137.9 650,138.7 647.3,140.1 645,142.1 642.5,143.6 639.4,143.3 636.9,145 634.1,145.4 636.9,144.7 639.8,144.8 642.6,144.3 645.5,144.5 648.3,144.1 651.4,144.2 654.5,144.4 657.5,145.4 659.6,147.6 660.9,150.4 659.4,153.2 659.2,156.3 656.5,157.3 654,159 651,159.4 648.3,160.5 645.2,162.2 641.4,161.2 638.3,163 635.5,164.3 632.4,163.6 629.5,164 626.6,164.7 623.7,165.5 620.8,164.5 617.8,164.2 614.9,164.7 612.2,164.5 609.5,164.8 606.8,164.5 604.2,165 601.5,165.2 598.2,165.4 595,165.9 591.7,167.6 588.3,169.2 585.9,170.6 584.1,173 581.6,174.3 579.1,175.9 577.3,178.4 574.9,180.1 573.1,182.2 570.4,183.3 568.3,185.1 571.9,184.7 574.9,182.6 578,181.1 580.3,178.5 583.3,176.8 586.2,176 588.8,174.3 591.7,173.4 595,172.8 598.4,172.4 601.7,171.8 605.3,171.4 608.4,173.4 605.8,175.4 603.4,177.6 600.1,178.8 596.7,178.8 599.2,180.6 602.1,182 604.6,184 607.7,187.7 610.3,190.3 607.2,192.3 605.6,195.5 608.2,193.7 611.4,193.5 614.4,192.4 617.6,193 621.2,191.6 625,191.3 626.5,189.8 628.7,187.7 630.2,185.1 631.8,186.2 632.4,189.3 634.9,190.3 632.4,191.8 629.2,193 627,193.5 624.1,193.6 621.8,195.5 619.3,196.6 616.6,197.1 614.4,198.7 612.1,200.2 610.1,202.4 607.2,202.9 604.5,204.2 601.9,205.6 600,202.7 597.7,200.2 600.9,196.5 605.1,193.8 602.3,194.3 599.5,194.1 596.7,194.5 593.5,195.2 590.5,196.5 588,197.9 585.5,199.1 582.7,199.4 580,200.2 577.8,202 575.6,203.7 573.3,205.2 571.1,207.4 569.9,210.3 569.1,214.4 573.3,216.1 572.4,218.6 568.6,217.7 564.9,218.6 561.6,219.7 558.2,220.3 555.3,220.8 552.5,221.5 549.8,222.8 548.2,225.3 546.5,228.7 544.1,230.9 542.3,233.7 540.9,236 540.6,238.7 538.8,236.6 537.6,234 535.6,232 535.1,235 536.3,237.7 537.3,240.4 538.2,243.7 538.1,247.1 539,250.4 539.8,255.4 536.3,255.6 533.1,257.1 529.8,260.5 527.1,262 524.7,263.8 521.5,265.8 518,267.2 515,268.1 513,270.5 510.9,272.7 508,273.8 506.7,276.7 505.2,280 504.2,283.4 505.1,286.7 505.9,290.1 507.8,293.2 508.4,296.8 508.9,299.8 510.5,302.4 511.8,305.1 512.4,308.5 511.8,311.8 509.8,314.6 508.4,317.7 505.9,316.8 503.6,314.5 501.7,311.8 499.2,309.9 498.4,306.8 496.8,303.6 495.9,300.1 494.8,296.7 493.4,293.4 492,291.1 490,289.2 487.5,288.3 485,287.6 482.5,288.4 480,289.2 477.6,286.9 474.9,285.1 472,285.2 469,284.5 466.1,285 463.2,285.1 460.4,285.2 457.6,285.3 454.9,285.9 458.2,289.2 456.5,293.4 453.6,291.7 451.5,289.2 449.2,291.2 446.5,292.6 443.9,291 441,290.8 438.1,290.1 435.3,290 432.6,289.3 429.8,289.2 427.1,290 424.2,290.2 421.4,290.9 418.8,293.2 415.7,294.7 413,296.8 411.1,299.9 408,301.8 407.8,306 407.6,309.8 408.8,313.5 407.7,317 406,320.2 406.6,323.1 405.6,325.8 405.2,328.6 405.7,331.3 405.6,334.1 406,336.9 407.9,338.8 408.6,341.5 410.2,343.6 410.1,347.8 413.5,350.3 416.1,352.4 417.7,355.4 420.6,356.8 423.6,357.9 426.3,357.4 429.1,357.4 431.9,357 434.6,355.7 437.4,355.8 440.3,356.2 443.3,355.2 446.2,353.7 447.1,350.7 448.9,348 448.5,344.7 449.8,341.8 452.6,341.3 455.7,342.2 458.2,340.1 461.5,339.4 464.9,339 468.3,339.2 471.6,341.8 470.4,344.3 469.1,346.8 467.9,350.2 466.6,353.5 464.9,356.7 464.1,360.2 462.8,362.7 461.6,365.2 461.2,368.7 459.9,371.9 462.7,372.6 465.2,374.5 468.3,373.6 471.6,374.3 475,372.1 478.3,373.6 481.1,373.8 483.9,373.7 486.7,374.4 489.4,376.3 492.5,377.7 492.3,380.8 490.9,383.7 491.7,386.9 490.6,389.6 490.1,392.4 490,395.3 489.9,398.6 490,402 491.7,404.5 493.4,407 495.8,409.7 498.4,412.1 501.4,414.4 505.1,415.4 508.5,415.3 511.8,414.6 514.2,413.2 516.8,412.1 520,413.6 523.5,413.7 525.9,416.3 528.5,418.7 531.8,420.4 533.5,417.9 535.2,415.4 536.5,412.4 538.3,409.6 540.2,407 542.2,405.1 543.7,402.4 546.9,402 549.8,402 552.6,401.2 555.3,400.3 557.5,398.8 560.1,398.1 562,396.2 563.9,394.6 565.9,396.7 563.9,401.2 566.7,402 570,401.4 573.1,400.3 575.9,401.1 579,400.1 581.5,402 584,405.4 587.8,405.7 591.5,406.2 594.9,406.1 598.2,405.4 601.2,407.5 604.9,407.9 607.6,407 609.1,404.5 611.9,405.7 614.9,405.4 618.2,404.8 621.6,405.4 623.3,407.9 621.6,410.4 624.8,411 626.7,413.7 628.1,416 630,417.9 632.5,419.2 635,420.4 637.7,422.6 640.9,423.8 642.2,426.3 643.4,428.8 645.6,430.6 648.4,431.5 650.1,433.8 652.9,434.3 655.7,434.1 658.5,434.6 661.8,434.8 665.2,434.9 668.5,434.6 671.3,435.4 674,436.5 676.9,437.2 679.1,438.6 681.1,440.3 683.6,441.3 685.9,444.4 688.6,447.2 690.1,450.4 691.1,453.9 693.4,456.2 695.3,458.9 695.7,460.9 693.2,463.4 692.4,466.8 690.3,468.5 688.2,470.1 688.1,473.1 689,476 690.5,478.2 692.4,480.2 696.1,479.9 699.9,480.2 702.1,477.4 704.9,475.1 706.6,474.3 709.4,474.6 712.1,475 714.9,475.1 718.1,476.7 721.6,477.7 724.5,478.3 726.7,480.2 728.6,482.1 730,484.4 732.8,484.6 735.5,485.8 738.4,485.2 742,484.8 745,487.1 748.4,487.7 751.8,487.7 755.1,488.5 758.5,488.5 760.9,490 762.8,492.1 765.2,493.6 766.8,496.2 769.5,497.6 771.8,499.4 774.3,500.3 776.8,500.8 779.5,500.9 781.9,501.9 783.8,504.6 786.1,506.9 786.6,510.2 786.9,513.6 786.2,516.6 784.7,519.2 783.6,522 782,524.9 779.8,527.4 778.5,530.4 776.3,532.6 774.2,535.1 771.8,537.1 769.5,538.9 768,541.2 766.8,543.8 764.2,545.9 762.6,548.8 761.7,551.5 761.6,554.4 761,557.2 761.8,560 761.8,563.4 761.4,566.7 761,570 759.7,572.7 759.3,575.6 758.5,578.4 758.4,581.2 756.8,583.5 756.7,586.2 755.1,588.5 753.4,591.2 752.3,594.4 750.1,596.8 749,600.5 746.7,603.5 743.9,605.1 741.2,606.9 738.4,608.5 735.2,610 731.6,609.2 728.3,610.2 725.1,610.2 723.1,613.2 720,613.6 716.7,614.4 714.6,617.3 711.6,618.6 709.6,621 707.2,623.1 704.9,625.3 704.4,628.9 702.4,632 702.1,635.4 703.2,638.7 701.3,640.8 700.2,643.4 698.2,645.4 696.7,647.7 695.5,650.4 693.2,652.1 691.7,655.5 689.8,658.7 687.4,660 686.2,662.8 683.7,663.9 681.5,665.4 679.8,667.6 677.7,669.5 676.5,672.1 673.7,673.8 672.2,676.7 669.8,678.8 666.6,680.4 663.1,681.3 660.3,680.8 657.5,681 654.7,680.5 651.3,680.3 648,679.7 646.1,677.7 643.5,676.7 644.4,679.5 646.7,681.3 648.5,683.4 651.1,685.8 653.5,688.4 653.2,691.8 653.5,695.1 652.7,698 650.2,699.6 648.5,701.8 645.9,703.2 642.5,702.2 640.1,704.3 637.4,703.6 634.6,703.7 631.8,703.5 628.5,704.2 625.3,706 621.7,705.2 620.1,707.5 619.2,710.2 618.8,713.7 620.1,716.9 617.8,718.9 615,720.2 612.3,719.3 609.5,718.7 606.7,718.5 603.3,721.9 604.2,725.1 608.4,725.1 612.6,726.8 610.9,730.1 605.9,730.1 603.4,733.5 602.9,737.1 600.9,740.2 597.7,741.9 595,744.4 592,745.9 590,748.5 589.2,751.9 591.2,753.6 593.4,755.2 596.3,756 599.2,756.9 599.2,760.3 596.1,761.6 593.4,763.6 591.4,766.7 588.3,768.6 585.8,771.1 583.3,773.6 581.2,775.8 580,778.7 579.8,781.4 578.3,783.7 580.1,785.8 582.5,787 580,788.1 577.8,789.8 574.9,789.5 572.9,791.2 571.1,793.3 568.6,794.4 566.6,796.2 563.8,795.5 561.6,793.7 559.4,791.6 556.5,790.4 554.1,788.2 552.4,785.4 550.9,782 549,778.7 548.1,776 547.7,773.1 547.3,770.3 547.7,767.4 546.9,764.7 546.5,761.9 546.9,759.1 547,756.2 548.2,753.6 550.4,751.4 551.5,748.5 552.7,745.8 553,742.9 554,740.2 554.7,737.4 554.6,734.5 555.7,731.8 555.4,728.7 555.8,725.6 556.5,722.6 553.7,721.2 550.7,720.1 551.1,716.7 550.8,713.3 551.5,710 552.2,706.7 552.5,703.4 552.4,700 553.1,696.8 554.3,694 555.9,691.4 556.5,688.4 557.4,685.8 558.5,683.4 559.8,681 560.6,678.4 561.4,675.5 562.7,672.7 562.5,669.4 564,666.7 564.8,663.8 563.6,660.8 563.9,657.9 564,654.9 563.6,652.1 565,649.6 565.7,647 565.9,644.3 565.7,641.6 566.7,639 565.9,636.1 566.8,633.5 567.4,630.8 568.2,628.2 568,625.5 569.5,622.9 569.3,620.2 569.5,617.5 569.8,614.8 570.2,612.1 569.6,609.4 569.8,606.7 570,604 570.7,601.4 571.3,598.8 571.6,596.1 572,593.4 572.6,590.8 572.4,588 570.5,584.5 570,580.6 567.3,578.3 565,575.6 562.8,573.8 560.1,572.8 558.3,570.5 555.4,569.7 552.9,567.8 549.9,567.2 547.8,564.3 544.9,562.2 543,560.1 540.4,558.8 538.2,557.2 535.7,553.8 534.5,551 534.1,548 532.4,545.4 530.8,543.3 529.8,540.8 528.2,538.7 527.5,535.6 525.2,533.3 524,530.4 522.8,527.7 522.3,524.8 521.5,522 520.1,519.6 518.4,517.4 516.5,515.3 514.9,513 513.3,510.6 511.4,508.6 508.1,507.7 505.6,505.3 504.8,502.6 505.1,499.7 504.7,496.9 505.5,494.2 507.2,491.9 508.7,488.9 511.4,486.9 509.2,484.7 508.1,481.8 508,478.4 508.9,475.1 509.9,472.3 510.6,469.4 512.3,466.8 514.5,464.4 516.5,461.8 518.9,460.1 519.8,457.3 521.5,455.1 523.5,452.6 524.4,449.6 525.7,446.7 526.3,444.1 527.8,441.9 528.6,439.3 530.2,437.2 530,434.3 528.4,431.7 528.5,428.8 527.5,425.1 525.2,422.1 522.9,419.4 520.1,417.1 515.1,417.1 514.4,420.2 511.8,422.1 509.8,423.9 508.4,426.3 506.2,424.6 503.4,424.6 501.7,420.4 499.1,420 496.7,418.7 494.4,417.4 491.7,417.1 488.3,413.7 484.9,412.9 482.5,410.4 478.3,408.7 477.6,405.3 476.6,402 473.5,400.1 471.6,397 469.3,393.9 466.6,391.1 463.7,390.7 461.6,388.6 458.5,389.5 456,387.3 453.2,386.9 450.8,384.9 447.5,385.5 444.8,384.4 442.9,382.1 440.4,380.5 438.1,378.6 435.2,377.1 432.7,375 429.8,373.6 426.7,371.9 423.1,371.9 420.5,373.6 417.4,373.8 414.7,375.2 411.4,374.2 408,373.6 405.2,371.3 402.2,371.2 399.9,368.7 396.8,368.7 394.4,366.6 391,367 388.4,365.4 386.1,363.1 382.9,362.6 380.1,361.2 377.3,359.9 374.9,357.7 371.7,357 369.5,355.5 367.3,354 365,352.8 362.6,349.7 359.1,347.8 360,343.6 360.7,340.2 360,336.9 358.7,334.4 356,333 354.9,330.3 351.8,328.4 349.9,325.2 348.1,322.5 345.1,321.1 343.2,318.5 341,317.1 338.4,316.3 336.5,314.4 334.8,311.5 333.2,308.5 330.5,307.4 329.3,304.4 326.5,303.5 323.6,301.4 321.5,298.5 319,296 316.5,293.4 314.7,291.2 313.6,288.5 311.4,286.7 309.1,285.1 308,282.6 306.3,280.5 304.7,278.4 302.2,276.7 302.1,280.9 303.3,283.9 305.1,286.7 306.5,289.1 308.5,291 309.9,293.4 311.5,296 313.3,298.5 314.7,300.9 315.8,303.5 317.7,306.2 320,308.5 321.8,311.8 323.5,315.2 325.6,318.4 327,321.9 329.4,323.3 331.8,324.7 334.5,327.7 332.4,331.1 329,327.7 326.6,325.5 324,323.6 322.3,320.5 319,319.4 318.1,315.2 316.2,313.1 314.9,310.6 313.1,308.5 311,306.5 308.1,306 304.5,304.8 302.2,301.8 304.7,298.5 301.4,295.1 299.2,293.4 298,291 297.2,288.4 295.7,285.6 295.6,282.2 293,280 291.5,277.1 290.2,274.1 288,271.7 285.6,269.5 283.3,267.2 280,263.8 276.7,263.3 274.9,260.5 271.9,261.2 269.5,258.8 266.6,258.8 265,255.4 263.2,252.1 260.2,250.1 258.2,247.1 256.5,242.9 254,240.4 251.9,237.5 249,235.4 247.3,232.7 247.3,229.5 246.2,226.2 244,223.6 244.8,220.2 244,216.9 243.1,213.7 243.1,210.3 242.9,206.9 244,203.6 245.3,200.4 245.7,196.9 245.9,193 247.3,189.3 246.5,186.2 244.8,183.5 243.7,180.6 244,177.6 247.2,178.9 250.7,179.3 253.2,183.5 256.5,181 256.2,178 255.7,175.1 253.4,173.2 251.5,170.9 249,169.9 247.1,168 244.8,166.7 242,166.9 239.8,165.2 237.2,164.4 234.8,163.4 231.9,161.7 228.4,161.2 225.6,159.2 223.9,155.9 222,153.2 218.8,152.1 216.4,150 216.9,152.1 214.6,149 213.5,145.4 212.4,142.7 210.9,140.4 208.5,138.7 206.2,136.5 203.7,134.6 201.8,132 199.6,130.3 197.1,129 195.1,127 192.7,124.9 191.2,121.9 188.4,120.3 186.3,118.5 184,116.9 181.7,115.3 179.6,113.7 177.2,112.5 175,111.1 173,112.9 171.7,115.3 169.4,113.6 166.7,112.8 164,111.3 161.6,109.4 158.2,109.3 154.9,109.4 152,107.1 148.3,107.3 144.9,106.8 141.6,106.9 138.2,106.6 135.4,105.2 132.4,105.9 129.4,106.2 126.5,105.3 123.8,104.4 120.8,104.7 118.1,103.6 114.7,103 111.4,101.9 108.1,100.2 104.7,101.1 100.6,99.4 98,100.2 95.4,101.8 93,103.6 91.2,105.5 89.3,107.3 86.1,107.7 82.8,107.6 79.6,107.3ZM219.7,160.9 223.1,161.5 226.4,162.6 229,164.4 232.1,165.1 234.8,166.7 237.7,168.2 239.9,170.8 243.1,171.8 245.7,172.7 247.9,174.5 250.7,175.1 254,176.8 252.4,178.8 249.6,177.3 246.5,176.8 243.7,175.5 240.6,174.5 238.1,172.6 235.4,171 232.7,169.6 229.8,168.4 227.5,166.7 224.7,165.6 222.2,164.2ZM169.2,111.9 177.5,115.3 183.4,124.5 179.2,127 172.5,119.5ZM179.2,115.3 186.7,118.6 190.9,127 185.1,126.2ZM187.6,127.8 195.9,131.2 199.3,138.7 192.6,136.7ZM189.8,140.7 199.3,141.2 200.5,148.8 202.6,153.8 195.1,148.8ZM196.8,127.8 204.3,131.2 207.2,137.9 200.5,135ZM181.7,127 188.4,129.5 191.8,136.2 185.9,133.7ZM100.6,105.6 104.7,103.6 105.6,104.6 101.4,106.6ZM286.5,38.3 286.2,41.7 286.8,45 289.4,46.1 292.3,45.7 294.9,46.7 297.5,48.2 300.4,48.8 303.2,49.7 306.2,49.9 309.1,50.4 311.9,51.7 314.9,51.4 317.9,51.6 320.7,50.2 323.8,50.8 326.7,50.5 329.6,50.1 332.5,49.7 335.4,49.2 338.4,49 341.6,47.7 345.1,47.8 348.4,46.7 351.8,47 355.1,48 358.5,48.4 361.9,48.9 365.2,49.7 367.9,48.8 370.8,48.9 373.5,48 376.9,45.8 378.1,43.4 378.9,40.7 380.2,38.3ZM396.7,50 399.3,49 402,48.5 404.8,48.4 407.4,47.4 410.1,46.7 413,47.2 416,47.4 418.9,47.9 421.8,48.4 424.3,50.1 426.9,51.7 424.2,53 421.2,52.2 418.5,53.4 413.5,52.6 410.8,53.4 407.9,53.9 405.1,54.2 401.9,52.9 398.4,52.6ZM471.7,81.8 473,79.3 474.2,76.8 475.4,74.3 477.8,72.6 480.4,71.3 484.1,72.7 487.1,75.1 489.6,75.8 492,76.9 494.8,76.7 497.2,77.7 500.3,79.5 503.8,80.2 507.3,81 510.5,82.7 507.2,84.4 503.8,84.4 500.6,83.6 497.2,83.5 494.4,83.8 491.6,83.8 488.8,84.4 486.1,85.2 483.3,85.9 480.4,86 476.9,86.2 473.7,84.9ZM489.6,91.9 499.7,88.5 497.2,91 491.3,93.2ZM510.5,92.7 516.4,91.9 513.9,96.1ZM529.3,58.4 533.5,55.4 536.9,54.9 540.2,55.4 542.7,58.4 539.4,61.4 536,61.8 532.7,61.4ZM531.8,38.3 534.2,39.5 535.8,41.8 538,43.1 540.4,44.4 541.9,46.7 544.2,49.2 547.7,49.7 550.3,51.7 552.4,53.6 553.2,56.5 555.3,58.4 551.7,59.6 548.6,61.7 550.7,64.8 551.9,68.4 549.8,71 546.9,72.6 544,73.2 541,72.6 538.1,73.4 535.2,73.5 532.4,74.6 529.4,75.2 526.3,75.5 523.5,76.8 526.5,77.4 529.1,78.9 531.8,80.1 535.1,79 538.7,79.9 541.9,78.5 544.7,79.6 547.7,79.7 550.7,79.6 553.6,80.1 556.3,82 559.6,82.8 562,85.2 564.9,87.1 568,88.8 570.2,86.9 573,86 576.2,84.6 579.7,84.3 582.3,85.1 584.8,86.3 587.2,87.7 589.8,88.5 592.1,90.4 594.7,91.9 597.3,93.5 599.1,90.8 601.5,88.5 604.5,87.5 607.3,86 606.2,83.5 605.5,80.8 604,78.5 601,77.8 598,77.5 595.4,75.7 592.9,73.7 589.8,73.5 591.4,70.1 594.8,70.3 598.1,70 601.5,70.1 604.1,71.7 606.9,72.8 609.6,74 612.4,75.1 614.3,72.9 616.5,70.9 619.9,69.7 623.2,68.4 624.9,65.1 622.4,64 619.8,63.2 617.2,62.4 614.9,60.9 612,60.2 609.1,59.3 606.1,58.8 603.1,58.4 600.7,57.2 598.2,56.1 596,54.3 593.1,54.2 590.3,52.7 587.7,51 584.7,50 587.7,49 589.8,46.7 589.8,43.9 589.9,41.1 589.8,38.3ZM600.6,95.2 604,94.9 604.8,97.2 601.5,97.6ZM583.4,102.2 586.4,101.9 586.1,103.9 583.7,103.9ZM607.7,167.3 615.6,167.8 623.4,170.5 619.7,171.3 612.4,169.9ZM608.8,185.6 611.4,187.3 613.9,188.2 616.6,188.2 619.3,188.6 621.8,187.7 620.3,189.8 615.6,190.2 611.4,189.3 609.3,187.7ZM656.5,157.5 659.5,156.5 661,160.5 658.9,162.9 657,165.5 659.5,167.3 663.1,168.7 666.8,169.9 669.9,170.2 673.1,170.5 672,173.6 674.1,175.7 675.7,178.3 678.3,180.4 677.3,185.1 674.1,186.2 671,184.1 672,180.9 668.9,179.9 664.7,182.5 660.5,185.1 657.4,183.5 661.6,180.9 658.9,180.9 656.4,179.9 653.7,180 651.1,180.9 648.3,180.8 645.5,181.3 642.8,180.4 638.6,179.4 640.7,177.5 642.8,175.7 644.4,173.1 646.9,171.5 648.2,168.7 650.1,166.3 651.6,163.9 653,161.5 654.5,159.3ZM691.4,38.3 690.2,41.1 690.3,44.3 688.8,47 688.1,50 685.2,51.2 682.2,52.3 679.7,54.2 677,56.2 674.6,58.6 672.2,60.9 673,63.4 673.9,66 674.7,68.5 676.5,70.5 679.1,71.6 680.9,73.6 683.1,75.1 684.8,78.4 686.4,81.8 688.6,84.1 690.9,86.2 693.1,88.5 694.8,91.1 697.7,92.2 699.8,94.4 702.3,95.5 704.8,96.6 707.2,97.8 709.8,98.6 712.7,99.4 715.7,100 718.6,100.9 721.6,101.1 724.4,101.8 726.6,103.6 729.3,104.4 731.6,106.1 734.1,104.9 736.6,103.6 737.9,100.6 739.6,97.8 741.6,95.2 740.8,92.3 740,89.4 742.5,88.5 744.6,86.8 746.7,85.2 749.3,82.8 751.7,80.2 750.5,77.3 748.3,75.1 751,73.7 753.6,72.1 756.7,71.8 759.6,70.8 762.5,70 765.6,69.8 768.4,68.5 771.2,68.8 773.7,66.9 776.6,67.9 779.2,67 781.8,65.9 784.4,65.2 786.9,64 789.7,63.7 791.8,61.8 794.6,60.1 797.3,58.2 800.2,56.7 803,56.2 805.7,55.1 808.6,55.1 811.3,55.5 814,55.4 816.6,55.7 819.3,55.9 822,55.9 821.6,53 822.5,50 821.6,47.1 822.4,44.2 821.4,41.2 822,38.3ZM665.9,46.7 675.1,48.7 683.5,47.3 675.1,45.7ZM483.4,336.5 486.3,334.8 488.8,332.6 491.8,331 494.7,330.5 497.6,329.7 500.4,328.6 503.5,329 506.9,329.1 510.2,330.2 513.5,330.7 515.9,331.8 518.7,331.8 521.3,332.4 523.6,334 526.5,335.4 529.2,337.3 531.9,339 535.4,340.5 538.6,342.4 541.6,343.3 544.3,345.2 547.3,346.1 546.2,348.2 543.1,348 540,348.4 536.9,348.9 533.6,349.5 530.2,349.4 526.9,349.7 528.9,346.4 526.4,345.2 523.9,343.9 521.1,342.8 518.9,340.7 515.4,339.5 511.8,338.9 509,338.1 506.2,337.5 503.5,336.5 501.3,334.7 498.5,334 495.1,334.4 491.8,335.5 489.1,336.4 486.7,338ZM493,337.4 495.7,337.4 495.4,339.4 493.4,339.4ZM523.5,358.5 530.2,357.7 535.2,360.2 530.2,361.8 525.2,361ZM553.7,350.5 557.6,350.4 561.4,349.3 564.7,349.9 568.1,349.3 571.4,350.1 574.8,351.7 578.1,353.5 580.4,355.5 583.1,356.8 579.9,357.9 576.5,358.5 573.2,358.1 569.8,357.7 567.1,359.6 564.7,361.8 562.5,360 559.7,359.3 554.7,360.2 550.3,359.5 547,357.8 550.1,357.7 553,356.5 555.5,354.3 554.7,352.6ZM589.8,357.7 598.2,357.7 599,360.2 590.7,360.2ZM623.3,370.2 625.3,370.2 625.3,372.2 623.3,372.2ZM626.7,380.3 628.3,380.3 628.7,382.3 627,382.3ZM627.7,384.4 629.3,384.4 629.3,386.3 627.7,386.3ZM623.3,395.3 625,395.3 625,397 623.3,397ZM629.2,401.2 630.8,401.2 630.8,402.8 629.2,402.8ZM624.2,405.4 628.3,405.4 628,408.7 624.2,408.4ZM522.7,318.5 526.1,317.6 527.7,325.1 525.2,325.5ZM551.2,340.9 554.5,340.5 554.9,342.2 551.5,342.6ZM571.4,396.2 574.8,397.8 573.1,400ZM691.8,472.1 703.2,471 704.9,475.1 699.9,479.8 692.9,479.8ZM574.9,790.4 578.3,790.3 581.6,789.5 584.2,791.5 586.7,793.7 588.7,795.7 591,797.2 593.4,798.7 596.2,799.5 598.8,801 601.7,801.3 598.3,801.9 595,802.9 592.3,803.8 589.4,803.5 586.7,804.6 583.3,804.3 580,803.8 577.6,801.9 574.9,800.4 572.7,798.2 571.6,795.4 573.2,792.9ZM626.8,783.7 630.1,782.5 633.5,782 636.8,781.2 640.2,781.2 644,780.8 647.7,782 645.2,784.5 641.6,784.5 638.5,786.2 635.1,786 631.8,785.7 629.3,784.6ZM768,797 774,798.5 780,801.5 774,800.5ZM441.5,470.5 444,469.5 447,471 446,473.5 442.5,473ZM450,471.5 453,471 456,472.5 453.5,474.5 450.5,474ZM549,723.4 552.4,724.3 550.7,732.6 547.3,732.6ZM541.5,749.4 547.3,748.5 548.2,751 542.3,753.2ZM541.5,760.3 545.7,761.1 547.3,770.3 544,772ZM545.7,778.7 549.8,782 554,788.7 549.8,787.9ZM551.5,792.9 558.2,794.6 564.9,798.7 558.2,797.9ZM568.3,801.3 578.3,802.9 585.8,806.3 576.6,805.4Z" fill="none" stroke="#000" stroke-width="0.7" stroke-linejoin="round"/>
<path d="M439.8,185.9 446.4,181.5 455.1,177.1 463.9,172.7 471.3,174.2 475.6,177.1 478.6,180.8 483,179.3 485.2,184.4 481.5,186.6 475.6,187.3 469.8,188.8 465.4,185.1 462.5,182.2 456.6,184.4 449.3,187.3 443.4,186.6ZM466.9,194.7 470.5,191.7 475.6,192.5 478.6,196.9 476.4,198.3 474.2,199.8 473.4,205.6 475.6,211.5 472.7,216.6 468.3,217.4 465.4,213 464.7,207.1 466.9,201.3ZM464.7,199.1 468.3,193.2 469.8,193.9 466.1,199.8ZM484.4,188.8 490.3,190.3 497.6,191 504.9,191.7 510.8,193.9 513.7,197.6 510.1,199.1 506.4,196.1 503.5,195.4 504.9,199.8 502.7,203.4 501.3,207.8 498.3,208.6 496.1,202.7 493.2,202.7 490.3,204.9 488.8,203.4 492.5,199.8 491.8,194.7 487.4,192.5 483,191.7ZM491.8,216.6 496.1,211.5 502,211.5 510.8,210 519.6,209.3 518.1,211.5 510.8,214.4 502,217.4 496.1,218.8ZM514.5,205.6 521,203.4 528.4,202 537.1,199.8 538.6,201.3 532.8,204.9 522.5,207.1 516.6,207.4ZM420,169.8 424.4,168.3 427.3,170.5 424.4,172.7 420.7,172.7ZM431,173.4 436.1,174.9 435.4,176.4 431.7,175.2ZM249.7,66.8 258,65.1 268.1,63.4 274.8,64.2 273.1,67.6 284,66.8 282.3,71.8 273.1,72.6 264.7,76.8 258,74.3 251.3,75.1 254.7,70.1ZM279,96.9 288.2,96 298.2,93.5 301.6,89.4 298.2,87.7 304.9,90.2 314.9,91 323.3,88.8 335,88.8 335.9,91 323.3,93.5 313.3,96.9 304.9,99.4 294.9,101.1 286.5,99.4ZM323.3,113.6 330,109.4 335,106.6 339.2,108.6 351.8,109.9 341.7,111.1 331.7,111.9 326.7,114.5ZM372.7,127.8 376,120.3 380.2,117 381.9,120.3 378.5,123.7 376.9,127ZM384.4,147.1 390.3,148.8 395.3,155.5 400.3,160.5 403.6,165.5 399.5,164.7 393.6,158.8 388.6,153.8ZM397.5,142.5 405,140 410,150 415,160 412.5,163.8 407.5,157.5 400,148.8ZM311.8,216.9 315.9,217.8 318.5,222 315.1,223.6 312.6,220.3ZM573.4,563 576.7,562.2 580.9,566.4 579.2,568.9 575,566.4ZM519.4,308.1 525.2,306.4 529.4,307.6 530.3,311.8 528.6,312.6 527.7,308.7 523.6,308.1ZM533.6,315.1 535.6,316.4 537.3,319.5 536.3,319.8 534.9,317.3ZM540.3,321.8 542,324.3 543.6,329.8 542.6,330.2 541.3,325.1ZM546.7,331.8 548.7,333.2 548.3,334.5 546.7,333.2ZM554.5,333.8 557,334.2 557,335 554.5,334.7ZM560.4,336.9 562.9,337.5 562.6,338.5 560.4,337.9Z" fill="none" stroke="#000" stroke-width="0.65" stroke-linejoin="round"/>
</g>
<g stroke="#2b2b2b" stroke-width="1.25" fill="none">
<rect x="88.4" y="45.5" width="728.1" height="788.3"/>
<line x1="70" x2="88.4" y1="106.1" y2="106.1"/><line x1="70" x2="88.4" y1="288.1" y2="288.1"/><line x1="70" x2="88.4" y1="470.0" y2="470.0"/><line x1="70" x2="88.4" y1="651.9" y2="651.9"/><line x1="70" x2="88.4" y1="833.8" y2="833.8"/><line x1="88.4" x2="88.4" y1="833.8" y2="852"/><line x1="270.4" x2="270.4" y1="833.8" y2="852"/><line x1="452.5" x2="452.5" y1="833.8" y2="852"/><line x1="634.5" x2="634.5" y1="833.8" y2="852"/><line x1="816.5" x2="816.5" y1="833.8" y2="852"/></g>
<g font-size="24px" letter-spacing="0.45">
<text x="54.6" y="114.4" text-anchor="end">60°N</text><text x="54.6" y="296.4" text-anchor="end">30°N</text><text x="54.6" y="478.3" text-anchor="end">0°</text><text x="54.6" y="660.2" text-anchor="end">30°S</text><text x="54.6" y="842.1" text-anchor="end">60°S</text><text x="87.8" y="886.8" text-anchor="middle">150°W</text><text x="269.8" y="886.8" text-anchor="middle">120°W</text><text x="451.9" y="886.8" text-anchor="middle">90°W</text><text x="633.9" y="886.8" text-anchor="middle">60°W</text><text x="815.9" y="886.8" text-anchor="middle">30°W</text></g>
<text x="452.5" y="20.6" text-anchor="middle" font-size="28.8px" font-weight="bold">temp_diff_18lev (19 colors)</text>
<g shape-rendering="crispEdges">
<rect x="866" y="53.00" width="43" height="51.83" fill="#5f0000"/><rect x="866" y="104.53" width="43" height="51.83" fill="#7a0a10"/><rect x="866" y="156.07" width="43" height="51.83" fill="#cb181d"/><rect x="866" y="207.60" width="43" height="51.83" fill="#ef3b2c"/><rect x="866" y="259.13" width="43" height="51.83" fill="#fb6a4a"/><rect x="866" y="310.67" width="43" height="51.83" fill="#fc9272"/><rect x="866" y="362.20" width="43" height="51.83" fill="#fee0e0"/><rect x="866" y="465.27" width="43" height="51.83" fill="#daf4fd"/><rect x="866" y="516.80" width="43" height="51.83" fill="#7bbdd1"/><rect x="866" y="568.33" width="43" height="51.83" fill="#5b9fcd"/><rect x="866" y="619.87" width="43" height="51.83" fill="#4493cb"/><rect x="866" y="671.40" width="43" height="51.83" fill="#2272b5"/><rect x="866" y="722.93" width="43" height="51.83" fill="#082d6b"/><rect x="866" y="774.47" width="43" height="51.83" fill="#081d47"/></g>
<g font-size="21px">
<text x="938.5" y="112.1" text-anchor="middle">104</text><text x="938.5" y="163.7" text-anchor="middle">100</text><text x="938.5" y="215.2" text-anchor="middle">96</text><text x="938.5" y="266.7" text-anchor="middle">92</text><text x="938.5" y="318.3" text-anchor="middle">88</text><text x="938.5" y="369.8" text-anchor="middle">84</text><text x="938.5" y="421.3" text-anchor="middle">80</text><text x="938.5" y="472.9" text-anchor="middle">76</text><text x="938.5" y="524.4" text-anchor="middle">72</text><text x="938.5" y="575.9" text-anchor="middle">68</text><text x="938.5" y="627.5" text-anchor="middle">64</text><text x="938.5" y="679.0" text-anchor="middle">60</text><text x="938.5" y="730.5" text-anchor="middle">56</text><text x="938.5" y="782.1" text-anchor="middle">52</text></g>
</svg>
</body></html>
